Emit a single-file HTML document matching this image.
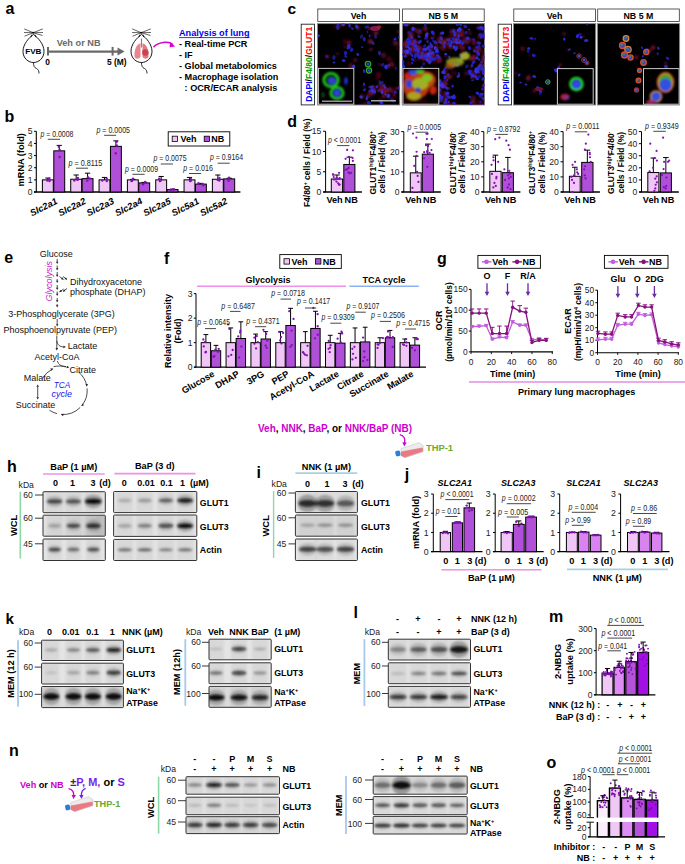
<!DOCTYPE html><html><head><meta charset="utf-8"><style>html,body{margin:0;padding:0;background:#fff;}body{width:685px;height:864px;overflow:hidden;font-family:"Liberation Sans", sans-serif;}svg{display:block;} svg text{font-family:"Liberation Sans", sans-serif;}</style></head><body><svg width="685" height="864" viewBox="0 0 685 864" style='font-family:"Liberation Sans", sans-serif'><defs><filter id="blur05" x="-20%" y="-20%" width="140%" height="140%"><feGaussianBlur stdDeviation="0.5"/></filter><filter id="blur08" x="-20%" y="-20%" width="140%" height="140%"><feGaussianBlur stdDeviation="0.8"/></filter><filter id="blur12" x="-10%" y="-10%" width="120%" height="120%"><feGaussianBlur stdDeviation="1.2"/></filter><filter id="blurband" x="-30%" y="-150%" width="160%" height="400%"><feGaussianBlur stdDeviation="1.3 1.0"/></filter><clipPath id="clip1"><rect x="317.5" y="23.6" width="82.2" height="81.4"/></clipPath><clipPath id="clip2"><rect x="402.3" y="23.6" width="82.2" height="81.4"/></clipPath><clipPath id="clip3"><rect x="513.5" y="23.6" width="82.2" height="81.4"/></clipPath><clipPath id="clip4"><rect x="597.4" y="23.6" width="82.2" height="81.4"/></clipPath><clipPath id="cbl1"><rect x="43" y="491.7" width="62.3" height="21" rx="0.8"/></clipPath><linearGradient id="gbl2" x1="0" x2="1" y1="0" y2="0"><stop offset="0" stop-color="#e3e3e3"/><stop offset="0.6" stop-color="#d9d9d9"/><stop offset="1" stop-color="#bdbdbd"/></linearGradient><clipPath id="cbl2"><rect x="43" y="515.2" width="62.3" height="21" rx="0.8"/></clipPath><clipPath id="cbl3"><rect x="43" y="539.0" width="62.3" height="21.5" rx="0.8"/></clipPath><clipPath id="cbl4"><rect x="113.6" y="491.5" width="83.2" height="21.1" rx="0.8"/></clipPath><clipPath id="cbl5"><rect x="113.6" y="515.0" width="83.2" height="21.4" rx="0.8"/></clipPath><clipPath id="cbl6"><rect x="113.6" y="539.4" width="83.2" height="21.1" rx="0.8"/></clipPath><clipPath id="cbl7"><rect x="295.4" y="491.5" width="62" height="21.1" rx="0.8"/></clipPath><clipPath id="cbl8"><rect x="295.4" y="515.0" width="62" height="21.2" rx="0.8"/></clipPath><clipPath id="cbl9"><rect x="295.4" y="539.0" width="62" height="21.5" rx="0.8"/></clipPath><clipPath id="cbl10"><rect x="41.6" y="640.2" width="81.8" height="20.3" rx="0.8"/></clipPath><clipPath id="cbl11"><rect x="41.6" y="663.2" width="81.8" height="20.8" rx="0.8"/></clipPath><clipPath id="cbl12"><rect x="41.6" y="686.5" width="81.8" height="21.1" rx="0.8"/></clipPath><clipPath id="cbl13"><rect x="209.0" y="639.2" width="62.2" height="20.6" rx="0.8"/></clipPath><clipPath id="cbl14"><rect x="209.0" y="662.8" width="62.2" height="20.9" rx="0.8"/></clipPath><clipPath id="cbl15"><rect x="209.0" y="686.4" width="62.2" height="20.9" rx="0.8"/></clipPath><clipPath id="cbl16"><rect x="388.3" y="639.2" width="82.2" height="20.8" rx="0.8"/></clipPath><clipPath id="cbl17"><rect x="388.3" y="662.8" width="82.2" height="20.9" rx="0.8"/></clipPath><clipPath id="cbl18"><rect x="388.3" y="686.4" width="82.2" height="20.9" rx="0.8"/></clipPath><clipPath id="cbl19"><rect x="186.0" y="776.7" width="93.5" height="17.5" rx="0.8"/></clipPath><clipPath id="cbl20"><rect x="186.0" y="797.2" width="93.5" height="17.5" rx="0.8"/></clipPath><clipPath id="cbl21"><rect x="186.0" y="816.7" width="93.5" height="16.9" rx="0.8"/></clipPath><clipPath id="cbl22"><rect x="373.2" y="776.1" width="94.0" height="18.1" rx="0.8"/></clipPath><clipPath id="cbl23"><rect x="373.2" y="796.6" width="94.0" height="18.1" rx="0.8"/></clipPath><clipPath id="cbl24"><rect x="373.2" y="816.4" width="94.0" height="17.6" rx="0.8"/></clipPath></defs><text x="5.40" y="13.60" font-size="16" font-weight="bold">a</text>
<path d="M33.5 34.5 C29.0 37.5 23.0 44.3 23.0 51.3 C23.0 58.5 28.5 62.5 33.5 62.5 C38.5 62.5 44.0 58.5 44.0 51.3 C44.0 44.3 38.0 37.5 33.5 34.5 Z" fill="#fff" stroke="#000" stroke-width="0.9"/>
<line x1="33.20" y1="32.70" x2="24.20" y2="28.90" stroke="#111" stroke-width="0.65"/>
<line x1="33.20" y1="32.70" x2="24.00" y2="32.50" stroke="#111" stroke-width="0.65"/>
<line x1="33.20" y1="32.70" x2="24.50" y2="36.20" stroke="#111" stroke-width="0.65"/>
<line x1="33.20" y1="32.70" x2="42.80" y2="28.90" stroke="#111" stroke-width="0.65"/>
<line x1="33.20" y1="32.70" x2="43.00" y2="32.50" stroke="#111" stroke-width="0.65"/>
<line x1="33.20" y1="32.70" x2="42.50" y2="35.50" stroke="#111" stroke-width="0.65"/>
<circle cx="33.20" cy="32.70" r="0.90" fill="#000"/>
<path d="M31.7 34.7 l-0.5 2.4 M35.1 34.7 l0.5 2.4" fill="none" stroke="#000" stroke-width="0.8"/>
<path d="M33.5 62.5 C33.5 65.5 34.0 67.5 36.5 68.5 C38.5 69.5 39.0 71.5 39.0 73.5" fill="none" stroke="#000" stroke-width="0.8"/>
<text x="33.30" y="54.20" font-size="8.1" font-weight="bold" text-anchor="middle">FVB</text>
<line x1="47.50" y1="51.60" x2="119.00" y2="51.60" stroke="#6a6a6a" stroke-width="2.2"/>
<line x1="48.00" y1="46.90" x2="48.00" y2="55.60" stroke="#6a6a6a" stroke-width="2.0"/>
<line x1="112.60" y1="46.90" x2="112.60" y2="55.60" stroke="#6a6a6a" stroke-width="2.0"/>
<path d="M117.5 47.6 L124.6 51.6 L117.5 55.6 Z" fill="#6a6a6a"/>
<text x="78.60" y="46.20" font-size="9.2" font-weight="bold" text-anchor="middle" fill="#6a6a6a">Veh or NB</text>
<text x="47.70" y="65.30" font-size="8.4" font-weight="bold" text-anchor="middle">0</text>
<text x="116.80" y="65.30" font-size="8.4" font-weight="bold" text-anchor="middle">5 (M)</text>
<path d="M141.5 34.5 C137.0 37.5 131.0 44.3 131.0 51.3 C131.0 58.5 136.5 62.5 141.5 62.5 C146.5 62.5 152.0 58.5 152.0 51.3 C152.0 44.3 146.0 37.5 141.5 34.5 Z" fill="#fff" stroke="#000" stroke-width="0.9"/>
<line x1="141.20" y1="32.70" x2="132.20" y2="28.90" stroke="#111" stroke-width="0.65"/>
<line x1="141.20" y1="32.70" x2="132.00" y2="32.50" stroke="#111" stroke-width="0.65"/>
<line x1="141.20" y1="32.70" x2="132.50" y2="36.20" stroke="#111" stroke-width="0.65"/>
<line x1="141.20" y1="32.70" x2="150.80" y2="28.90" stroke="#111" stroke-width="0.65"/>
<line x1="141.20" y1="32.70" x2="151.00" y2="32.50" stroke="#111" stroke-width="0.65"/>
<line x1="141.20" y1="32.70" x2="150.50" y2="35.50" stroke="#111" stroke-width="0.65"/>
<circle cx="141.20" cy="32.70" r="0.90" fill="#000"/>
<path d="M139.7 34.7 l-0.5 2.4 M143.1 34.7 l0.5 2.4" fill="none" stroke="#000" stroke-width="0.8"/>
<path d="M141.5 62.5 C141.5 65.5 142.0 67.5 144.5 68.5 C146.5 69.5 147.0 71.5 147.0 73.5" fill="none" stroke="#000" stroke-width="0.8"/>
<path d="M140.5 43.5 C136.5 43.5 134.0 50.5 134.5 56.5 C135.0 59.5 139.5 59.5 140.5 56.5 Z" fill="#e7868f"/>
<path d="M142.5 43.5 C146.5 43.5 149.0 50.5 148.5 56.5 C148.0 59.5 143.5 59.5 142.5 56.5 Z" fill="#e07b84"/>
<circle cx="145.30" cy="52.50" r="3.20" fill="#c9444f"/>
<line x1="141.50" y1="38.50" x2="141.50" y2="47.50" stroke="#b07070" stroke-width="1.2"/>
<path d="M153.5 47.2 C158 42.5 168 40.5 173 44.6" fill="none" stroke="#d400d4" stroke-width="1.5"/>
<path d="M170.2 42.4 L175.3 46.6 L169.5 47.3 Z" fill="#d400d4"/>
<text x="179.00" y="36.10" font-size="9.15" font-weight="bold" fill="#0000ee">Analysis of lung</text>
<line x1="179.00" y1="37.60" x2="249.60" y2="37.60" stroke="#0000ee" stroke-width="0.8"/>
<text x="179.00" y="47.30" font-size="9.15" font-weight="bold">- Real-time PCR</text>
<text x="179.00" y="58.00" font-size="9.15" font-weight="bold">- IF</text>
<text x="179.00" y="69.10" font-size="9.15" font-weight="bold">- Global metabolomics</text>
<text x="179.00" y="80.30" font-size="9.15" font-weight="bold">- Macrophage isolation</text>
<text x="184.60" y="91.40" font-size="9.15" font-weight="bold">: OCR/ECAR analysis</text>
<text x="287.40" y="13.90" font-size="15.5" font-weight="bold">c</text>
<rect x="301.20" y="24.20" width="13.30" height="80.70" fill="#fff" stroke="#222" stroke-width="0.9"/>
<text x="312.40" y="101.80" font-size="9.8" font-weight="bold" textLength="75.00" lengthAdjust="spacingAndGlyphs" transform="rotate(-90 312.40 101.80)"><tspan fill="#0000ff">DAPI</tspan><tspan fill="#000">/</tspan><tspan fill="#00a000">F4/80</tspan><tspan fill="#000">/</tspan><tspan fill="#ff0000">GLUT1</tspan></text>
<rect x="498.20" y="24.20" width="13.30" height="80.70" fill="#fff" stroke="#222" stroke-width="0.9"/>
<text x="509.40" y="101.80" font-size="9.8" font-weight="bold" textLength="75.00" lengthAdjust="spacingAndGlyphs" transform="rotate(-90 509.40 101.80)"><tspan fill="#0000ff">DAPI</tspan><tspan fill="#000">/</tspan><tspan fill="#00a000">F4/80</tspan><tspan fill="#000">/</tspan><tspan fill="#ff0000">GLUT3</tspan></text>
<rect x="317.80" y="9.00" width="81.60" height="12.40" fill="#fff" stroke="#333" stroke-width="0.8"/>
<text x="358.50" y="18.60" font-size="8.8" font-weight="bold" text-anchor="middle">Veh</text>
<rect x="317.50" y="23.60" width="82.20" height="81.40" fill="#000" stroke="#8a8a8a" stroke-width="0.9"/>
<g clip-path="url(#clip1)" filter="url(#blur08)"><circle cx="355.3" cy="60.2" r="2.1" fill="#7a1030" opacity="0.60"/><circle cx="362.0" cy="96.5" r="2.6" fill="#7a1030" opacity="0.59"/><circle cx="360.8" cy="105.8" r="2.1" fill="#902050" opacity="0.48"/><circle cx="396.9" cy="88.3" r="1.8" fill="#a01040" opacity="0.70"/><circle cx="349.0" cy="42.9" r="2.7" fill="#a01040" opacity="0.54"/><circle cx="344.9" cy="46.7" r="1.3" fill="#a01040" opacity="0.57"/><circle cx="344.6" cy="41.4" r="2.3" fill="#8a0c2c" opacity="0.38"/><circle cx="327.4" cy="56.6" r="2.0" fill="#a01040" opacity="0.58"/><circle cx="337.5" cy="53.9" r="1.8" fill="#902050" opacity="0.37"/><circle cx="390.0" cy="89.8" r="2.8" fill="#a01040" opacity="0.61"/><circle cx="383.5" cy="86.0" r="2.4" fill="#8a0c2c" opacity="0.67"/><circle cx="379.7" cy="84.9" r="2.0" fill="#701848" opacity="0.63"/><circle cx="378.6" cy="75.0" r="2.9" fill="#8a0c2c" opacity="0.53"/><circle cx="337.0" cy="93.2" r="2.6" fill="#902050" opacity="0.60"/><circle cx="343.4" cy="23.9" r="2.3" fill="#a01040" opacity="0.68"/><circle cx="350.1" cy="25.9" r="1.2" fill="#8a0c2c" opacity="0.37"/><circle cx="374.0" cy="86.2" r="1.5" fill="#902050" opacity="0.37"/><circle cx="374.9" cy="90.1" r="1.7" fill="#701848" opacity="0.51"/><circle cx="381.7" cy="90.3" r="1.8" fill="#902050" opacity="0.51"/><circle cx="383.3" cy="96.3" r="2.0" fill="#a01040" opacity="0.48"/><circle cx="380.8" cy="90.3" r="2.1" fill="#902050" opacity="0.69"/><circle cx="373.4" cy="89.6" r="3.0" fill="#7a1030" opacity="0.63"/><circle cx="373.4" cy="86.2" r="1.3" fill="#7a1030" opacity="0.37"/><circle cx="370.4" cy="91.7" r="1.7" fill="#7a1030" opacity="0.44"/><circle cx="363.9" cy="86.0" r="1.2" fill="#902050" opacity="0.58"/><circle cx="388.1" cy="66.9" r="2.2" fill="#8a0c2c" opacity="0.60"/><circle cx="389.4" cy="64.9" r="1.8" fill="#902050" opacity="0.31"/><circle cx="379.8" cy="64.5" r="1.8" fill="#a01040" opacity="0.43"/><circle cx="389.0" cy="58.9" r="2.7" fill="#8a0c2c" opacity="0.50"/><circle cx="391.9" cy="63.9" r="2.4" fill="#a01040" opacity="0.52"/><circle cx="393.0" cy="65.7" r="1.5" fill="#7a1030" opacity="0.60"/><circle cx="383.3" cy="55.3" r="2.7" fill="#701848" opacity="0.62"/><circle cx="398.6" cy="31.7" r="1.6" fill="#902050" opacity="0.56"/><circle cx="341.0" cy="103.0" r="1.5" fill="#8a0c2c" opacity="0.37"/><circle cx="335.7" cy="107.9" r="1.9" fill="#7a1030" opacity="0.62"/><circle cx="372.5" cy="92.3" r="3.0" fill="#902050" opacity="0.66"/><circle cx="368.8" cy="95.2" r="2.7" fill="#a01040" opacity="0.41"/><circle cx="365.3" cy="104.6" r="2.1" fill="#902050" opacity="0.53"/><circle cx="350.5" cy="66.1" r="2.2" fill="#7a1030" opacity="0.65"/><circle cx="351.3" cy="63.4" r="1.4" fill="#7a1030" opacity="0.47"/><circle cx="370.4" cy="41.5" r="2.6" fill="#902050" opacity="0.68"/><circle cx="370.9" cy="49.3" r="1.9" fill="#701848" opacity="0.69"/><circle cx="368.9" cy="28.3" r="1.8" fill="#a01040" opacity="0.60"/><circle cx="357.7" cy="28.0" r="2.3" fill="#701848" opacity="0.58"/><circle cx="394.9" cy="90.1" r="1.3" fill="#8a0c2c" opacity="0.37"/><circle cx="394.6" cy="96.0" r="1.2" fill="#8a0c2c" opacity="0.62"/><circle cx="389.3" cy="106.0" r="1.3" fill="#701848" opacity="0.40"/><circle cx="386.0" cy="90.1" r="2.9" fill="#a01040" opacity="0.53"/><circle cx="386.6" cy="90.2" r="2.8" fill="#701848" opacity="0.46"/><circle cx="393.2" cy="92.1" r="1.6" fill="#902050" opacity="0.52"/><circle cx="394.2" cy="95.1" r="1.5" fill="#a01040" opacity="0.68"/><circle cx="376.0" cy="33.2" r="2.2" fill="#902050" opacity="0.69"/><circle cx="370.9" cy="34.8" r="1.6" fill="#8a0c2c" opacity="0.36"/><circle cx="391.2" cy="98.9" r="2.0" fill="#701848" opacity="0.61"/><circle cx="380.3" cy="100.8" r="2.0" fill="#701848" opacity="0.59"/><circle cx="339.9" cy="103.3" r="1.4" fill="#7a1030" opacity="0.69"/><circle cx="341.7" cy="103.1" r="2.2" fill="#8a0c2c" opacity="0.53"/><circle cx="339.0" cy="27.9" r="1.7" fill="#701848" opacity="0.34"/><circle cx="335.0" cy="26.8" r="1.5" fill="#8a0c2c" opacity="0.49"/><circle cx="339.0" cy="25.0" r="2.7" fill="#701848" opacity="0.49"/><circle cx="381.2" cy="89.2" r="2.6" fill="#a01040" opacity="0.43"/><circle cx="385.3" cy="92.0" r="2.8" fill="#8a0c2c" opacity="0.51"/><circle cx="384.1" cy="95.9" r="2.3" fill="#7a1030" opacity="0.48"/><circle cx="317.5" cy="39.3" r="1.5" fill="#701848" opacity="0.38"/><circle cx="377.3" cy="79.1" r="1.4" fill="#8a0c2c" opacity="0.59"/><circle cx="393.3" cy="39.7" r="1.3" fill="#a01040" opacity="0.34"/><circle cx="395.6" cy="43.1" r="1.3" fill="#701848" opacity="0.34"/><circle cx="395.7" cy="43.1" r="2.7" fill="#902050" opacity="0.50"/><circle cx="398.9" cy="48.1" r="2.7" fill="#8a0c2c" opacity="0.35"/></g>
<g clip-path="url(#clip1)" filter="url(#blur05)"><ellipse cx="357.7" cy="54.5" rx="1.6" ry="1.2" transform="rotate(51 357.7 54.5)" fill="#3838f0" opacity="0.82"/><ellipse cx="345.6" cy="53.0" rx="2.3" ry="1.7" transform="rotate(97 345.6 53.0)" fill="#2020c8" opacity="0.86"/><ellipse cx="345.7" cy="56.4" rx="1.6" ry="1.2" transform="rotate(28 345.7 56.4)" fill="#3030dc" opacity="0.64"/><ellipse cx="350.9" cy="23.0" rx="1.9" ry="1.4" transform="rotate(164 350.9 23.0)" fill="#2020c8" opacity="0.61"/><ellipse cx="349.9" cy="20.8" rx="1.6" ry="1.2" transform="rotate(80 349.9 20.8)" fill="#3838f0" opacity="0.82"/><ellipse cx="361.1" cy="97.0" rx="1.8" ry="1.3" transform="rotate(28 361.1 97.0)" fill="#3030dc" opacity="0.92"/><ellipse cx="363.3" cy="106.5" rx="1.9" ry="1.3" transform="rotate(126 363.3 106.5)" fill="#3838f0" opacity="0.77"/><ellipse cx="399.3" cy="88.2" rx="1.8" ry="1.3" transform="rotate(62 399.3 88.2)" fill="#3838f0" opacity="0.65"/><ellipse cx="348.7" cy="47.7" rx="2.3" ry="1.6" transform="rotate(149 348.7 47.7)" fill="#3030dc" opacity="0.74"/><ellipse cx="351.7" cy="49.8" rx="2.2" ry="1.6" transform="rotate(108 351.7 49.8)" fill="#2626e6" opacity="0.77"/><ellipse cx="348.6" cy="45.8" rx="2.1" ry="1.5" transform="rotate(130 348.6 45.8)" fill="#3030dc" opacity="0.73"/><ellipse cx="326.5" cy="56.5" rx="1.7" ry="1.3" transform="rotate(63 326.5 56.5)" fill="#2020c8" opacity="0.66"/><ellipse cx="334.0" cy="62.6" rx="1.4" ry="1.0" transform="rotate(179 334.0 62.6)" fill="#3030dc" opacity="0.84"/><ellipse cx="333.9" cy="57.4" rx="2.3" ry="1.7" transform="rotate(103 333.9 57.4)" fill="#2e2ed0" opacity="0.58"/><ellipse cx="387.7" cy="88.8" rx="1.4" ry="1.0" transform="rotate(180 387.7 88.8)" fill="#2020c8" opacity="0.56"/><ellipse cx="383.7" cy="85.3" rx="1.6" ry="1.2" transform="rotate(166 383.7 85.3)" fill="#2e2ed0" opacity="0.73"/><ellipse cx="382.4" cy="82.3" rx="1.5" ry="1.1" transform="rotate(115 382.4 82.3)" fill="#3838f0" opacity="0.57"/><ellipse cx="380.2" cy="82.5" rx="2.3" ry="1.6" transform="rotate(68 380.2 82.5)" fill="#3030dc" opacity="0.57"/><ellipse cx="341.3" cy="96.5" rx="1.4" ry="1.0" transform="rotate(105 341.3 96.5)" fill="#2e2ed0" opacity="0.72"/><ellipse cx="333.5" cy="98.1" rx="1.4" ry="1.0" transform="rotate(76 333.5 98.1)" fill="#2626e6" opacity="0.81"/><ellipse cx="330.2" cy="94.9" rx="1.6" ry="1.1" transform="rotate(173 330.2 94.9)" fill="#2e2ed0" opacity="0.70"/><ellipse cx="343.1" cy="24.2" rx="2.0" ry="1.4" transform="rotate(61 343.1 24.2)" fill="#3838f0" opacity="0.92"/><ellipse cx="349.6" cy="25.7" rx="1.9" ry="1.3" transform="rotate(75 349.6 25.7)" fill="#3030dc" opacity="0.77"/><ellipse cx="373.2" cy="89.6" rx="2.1" ry="1.5" transform="rotate(25 373.2 89.6)" fill="#2626e6" opacity="0.65"/><ellipse cx="377.0" cy="87.0" rx="1.3" ry="0.9" transform="rotate(114 377.0 87.0)" fill="#2020c8" opacity="0.85"/><ellipse cx="382.1" cy="92.1" rx="2.1" ry="1.5" transform="rotate(68 382.1 92.1)" fill="#3030dc" opacity="0.91"/><ellipse cx="377.0" cy="86.6" rx="1.6" ry="1.2" transform="rotate(94 377.0 86.6)" fill="#3030dc" opacity="0.70"/><ellipse cx="372.1" cy="87.0" rx="1.9" ry="1.3" transform="rotate(129 372.1 87.0)" fill="#2e2ed0" opacity="0.89"/><ellipse cx="370.4" cy="87.0" rx="2.1" ry="1.5" transform="rotate(178 370.4 87.0)" fill="#2e2ed0" opacity="0.76"/><ellipse cx="378.4" cy="90.6" rx="1.3" ry="0.9" transform="rotate(120 378.4 90.6)" fill="#2e2ed0" opacity="0.70"/><ellipse cx="374.1" cy="91.8" rx="2.1" ry="1.5" transform="rotate(9 374.1 91.8)" fill="#3030dc" opacity="0.84"/><ellipse cx="372.1" cy="90.5" rx="1.4" ry="1.0" transform="rotate(29 372.1 90.5)" fill="#3838f0" opacity="0.87"/><ellipse cx="364.5" cy="89.8" rx="1.7" ry="1.2" transform="rotate(136 364.5 89.8)" fill="#2626e6" opacity="0.89"/><ellipse cx="364.0" cy="84.1" rx="1.5" ry="1.1" transform="rotate(103 364.0 84.1)" fill="#3838f0" opacity="0.71"/><ellipse cx="395.7" cy="68.3" rx="1.5" ry="1.0" transform="rotate(67 395.7 68.3)" fill="#2e2ed0" opacity="0.61"/><ellipse cx="389.1" cy="65.2" rx="1.6" ry="1.2" transform="rotate(44 389.1 65.2)" fill="#3030dc" opacity="0.56"/><ellipse cx="386.0" cy="67.2" rx="2.3" ry="1.6" transform="rotate(93 386.0 67.2)" fill="#2626e6" opacity="0.94"/><ellipse cx="386.0" cy="66.3" rx="2.0" ry="1.5" transform="rotate(148 386.0 66.3)" fill="#3030dc" opacity="0.72"/><ellipse cx="382.7" cy="64.8" rx="2.1" ry="1.5" transform="rotate(137 382.7 64.8)" fill="#2626e6" opacity="0.62"/><ellipse cx="379.4" cy="54.1" rx="1.4" ry="1.0" transform="rotate(93 379.4 54.1)" fill="#3030dc" opacity="0.59"/><ellipse cx="379.4" cy="52.7" rx="2.1" ry="1.5" transform="rotate(66 379.4 52.7)" fill="#3030dc" opacity="0.60"/><ellipse cx="399.2" cy="37.2" rx="1.3" ry="0.9" transform="rotate(161 399.2 37.2)" fill="#3030dc" opacity="0.81"/><ellipse cx="347.1" cy="95.4" rx="1.5" ry="1.1" transform="rotate(117 347.1 95.4)" fill="#2020c8" opacity="0.83"/><ellipse cx="345.3" cy="104.5" rx="1.7" ry="1.2" transform="rotate(29 345.3 104.5)" fill="#2020c8" opacity="0.91"/><ellipse cx="342.7" cy="102.2" rx="1.9" ry="1.3" transform="rotate(27 342.7 102.2)" fill="#3030dc" opacity="0.78"/><ellipse cx="369.6" cy="91.1" rx="1.6" ry="1.2" transform="rotate(125 369.6 91.1)" fill="#3030dc" opacity="0.70"/><ellipse cx="366.8" cy="98.9" rx="1.7" ry="1.3" transform="rotate(98 366.8 98.9)" fill="#2e2ed0" opacity="0.86"/><ellipse cx="367.2" cy="97.1" rx="1.9" ry="1.4" transform="rotate(130 367.2 97.1)" fill="#3030dc" opacity="0.60"/><ellipse cx="368.9" cy="102.7" rx="2.3" ry="1.6" transform="rotate(19 368.9 102.7)" fill="#3030dc" opacity="0.75"/><ellipse cx="343.7" cy="60.6" rx="1.9" ry="1.4" transform="rotate(5 343.7 60.6)" fill="#2626e6" opacity="0.92"/><ellipse cx="352.8" cy="67.8" rx="2.0" ry="1.4" transform="rotate(111 352.8 67.8)" fill="#2e2ed0" opacity="0.78"/><ellipse cx="353.9" cy="66.3" rx="1.9" ry="1.4" transform="rotate(69 353.9 66.3)" fill="#3838f0" opacity="0.88"/><ellipse cx="362.1" cy="47.1" rx="1.3" ry="0.9" transform="rotate(14 362.1 47.1)" fill="#2626e6" opacity="0.76"/><ellipse cx="373.1" cy="43.2" rx="1.9" ry="1.3" transform="rotate(41 373.1 43.2)" fill="#3838f0" opacity="0.58"/><ellipse cx="366.8" cy="27.0" rx="2.3" ry="1.6" transform="rotate(174 366.8 27.0)" fill="#2626e6" opacity="0.66"/><ellipse cx="367.4" cy="32.0" rx="1.3" ry="0.9" transform="rotate(64 367.4 32.0)" fill="#2e2ed0" opacity="0.56"/><ellipse cx="356.8" cy="26.7" rx="2.2" ry="1.6" transform="rotate(53 356.8 26.7)" fill="#2e2ed0" opacity="0.93"/><ellipse cx="352.4" cy="28.6" rx="1.6" ry="1.2" transform="rotate(45 352.4 28.6)" fill="#2020c8" opacity="0.82"/><ellipse cx="395.0" cy="92.1" rx="1.5" ry="1.1" transform="rotate(101 395.0 92.1)" fill="#2626e6" opacity="0.72"/><ellipse cx="385.0" cy="87.3" rx="1.3" ry="0.9" transform="rotate(97 385.0 87.3)" fill="#3838f0" opacity="0.88"/><ellipse cx="385.4" cy="94.3" rx="1.3" ry="0.9" transform="rotate(72 385.4 94.3)" fill="#3838f0" opacity="0.75"/><ellipse cx="396.0" cy="92.5" rx="1.9" ry="1.4" transform="rotate(118 396.0 92.5)" fill="#2020c8" opacity="0.57"/><ellipse cx="375.6" cy="36.9" rx="1.8" ry="1.3" transform="rotate(81 375.6 36.9)" fill="#2626e6" opacity="0.65"/><ellipse cx="369.7" cy="36.0" rx="1.4" ry="1.0" transform="rotate(93 369.7 36.0)" fill="#2626e6" opacity="0.74"/><ellipse cx="361.5" cy="36.5" rx="2.0" ry="1.4" transform="rotate(110 361.5 36.5)" fill="#2e2ed0" opacity="0.58"/><ellipse cx="364.2" cy="39.3" rx="2.2" ry="1.6" transform="rotate(86 364.2 39.3)" fill="#2626e6" opacity="0.73"/><ellipse cx="392.9" cy="100.5" rx="2.3" ry="1.6" transform="rotate(30 392.9 100.5)" fill="#2020c8" opacity="0.66"/><ellipse cx="387.9" cy="96.1" rx="2.3" ry="1.7" transform="rotate(74 387.9 96.1)" fill="#3838f0" opacity="0.72"/><ellipse cx="388.9" cy="95.3" rx="2.0" ry="1.4" transform="rotate(43 388.9 95.3)" fill="#2e2ed0" opacity="0.90"/><ellipse cx="381.2" cy="102.6" rx="1.6" ry="1.1" transform="rotate(153 381.2 102.6)" fill="#2e2ed0" opacity="0.65"/><ellipse cx="340.1" cy="104.4" rx="2.0" ry="1.5" transform="rotate(124 340.1 104.4)" fill="#3838f0" opacity="0.59"/><ellipse cx="341.4" cy="105.4" rx="2.1" ry="1.5" transform="rotate(60 341.4 105.4)" fill="#2020c8" opacity="0.75"/><ellipse cx="337.6" cy="27.7" rx="2.3" ry="1.6" transform="rotate(78 337.6 27.7)" fill="#3030dc" opacity="0.60"/><ellipse cx="337.9" cy="24.9" rx="1.4" ry="1.0" transform="rotate(174 337.9 24.9)" fill="#2020c8" opacity="0.86"/><ellipse cx="381.7" cy="103.3" rx="2.3" ry="1.7" transform="rotate(65 381.7 103.3)" fill="#3030dc" opacity="0.73"/><ellipse cx="379.2" cy="107.6" rx="2.4" ry="1.7" transform="rotate(176 379.2 107.6)" fill="#2e2ed0" opacity="0.86"/><ellipse cx="318.4" cy="35.7" rx="1.6" ry="1.1" transform="rotate(5 318.4 35.7)" fill="#3838f0" opacity="0.94"/><ellipse cx="364.1" cy="71.1" rx="1.8" ry="1.3" transform="rotate(81 364.1 71.1)" fill="#3838f0" opacity="0.70"/><ellipse cx="395.1" cy="39.0" rx="1.7" ry="1.2" transform="rotate(132 395.1 39.0)" fill="#2626e6" opacity="0.95"/><ellipse cx="400.8" cy="46.8" rx="1.9" ry="1.3" transform="rotate(114 400.8 46.8)" fill="#3030dc" opacity="0.64"/></g>
<rect x="402.60" y="9.00" width="81.60" height="12.40" fill="#fff" stroke="#333" stroke-width="0.8"/>
<text x="443.30" y="18.60" font-size="8.8" font-weight="bold" text-anchor="middle">NB 5 M</text>
<rect x="402.30" y="23.60" width="82.20" height="81.40" fill="#000" stroke="#8a8a8a" stroke-width="0.9"/>
<g clip-path="url(#clip2)" filter="url(#blur08)"><circle cx="445.3" cy="84.4" r="2.5" fill="#7a1030" opacity="0.45"/><circle cx="450.3" cy="88.3" r="1.6" fill="#701848" opacity="0.38"/><circle cx="428.5" cy="56.9" r="2.6" fill="#7a1030" opacity="0.49"/><circle cx="431.0" cy="53.8" r="2.5" fill="#701848" opacity="0.70"/><circle cx="480.3" cy="28.7" r="1.9" fill="#8a0c2c" opacity="0.69"/><circle cx="482.2" cy="22.5" r="2.2" fill="#701848" opacity="0.48"/><circle cx="486.1" cy="20.3" r="2.8" fill="#7a1030" opacity="0.69"/><circle cx="445.5" cy="71.8" r="2.6" fill="#902050" opacity="0.35"/><circle cx="446.9" cy="69.1" r="1.7" fill="#701848" opacity="0.35"/><circle cx="445.5" cy="81.7" r="2.9" fill="#701848" opacity="0.46"/><circle cx="446.1" cy="83.8" r="1.4" fill="#a01040" opacity="0.48"/><circle cx="438.3" cy="83.7" r="1.5" fill="#7a1030" opacity="0.66"/><circle cx="434.3" cy="85.9" r="2.3" fill="#a01040" opacity="0.39"/><circle cx="433.2" cy="83.8" r="1.2" fill="#8a0c2c" opacity="0.33"/><circle cx="438.0" cy="82.1" r="3.0" fill="#7a1030" opacity="0.65"/><circle cx="439.9" cy="86.2" r="2.8" fill="#701848" opacity="0.50"/><circle cx="444.2" cy="85.7" r="2.8" fill="#a01040" opacity="0.45"/><circle cx="457.2" cy="35.5" r="1.9" fill="#902050" opacity="0.62"/><circle cx="461.5" cy="31.7" r="2.9" fill="#a01040" opacity="0.35"/><circle cx="464.7" cy="36.3" r="1.8" fill="#902050" opacity="0.31"/><circle cx="469.5" cy="39.6" r="1.9" fill="#902050" opacity="0.70"/><circle cx="474.1" cy="42.4" r="2.9" fill="#8a0c2c" opacity="0.57"/><circle cx="462.0" cy="35.3" r="2.3" fill="#701848" opacity="0.30"/><circle cx="467.9" cy="42.9" r="2.0" fill="#701848" opacity="0.54"/><circle cx="464.9" cy="41.1" r="2.8" fill="#902050" opacity="0.61"/><circle cx="462.8" cy="48.0" r="2.6" fill="#a01040" opacity="0.56"/><circle cx="455.6" cy="45.0" r="2.0" fill="#8a0c2c" opacity="0.30"/><circle cx="458.7" cy="48.3" r="1.2" fill="#701848" opacity="0.54"/><circle cx="419.1" cy="48.1" r="2.8" fill="#902050" opacity="0.67"/><circle cx="415.7" cy="48.8" r="2.9" fill="#902050" opacity="0.68"/><circle cx="413.9" cy="51.6" r="2.1" fill="#701848" opacity="0.50"/><circle cx="413.0" cy="55.1" r="1.5" fill="#7a1030" opacity="0.37"/><circle cx="414.8" cy="60.6" r="2.1" fill="#902050" opacity="0.32"/><circle cx="482.4" cy="47.3" r="1.5" fill="#701848" opacity="0.42"/><circle cx="479.8" cy="42.1" r="1.7" fill="#8a0c2c" opacity="0.50"/><circle cx="485.4" cy="34.4" r="2.1" fill="#8a0c2c" opacity="0.41"/><circle cx="419.6" cy="58.4" r="1.9" fill="#7a1030" opacity="0.32"/><circle cx="424.7" cy="56.4" r="1.2" fill="#8a0c2c" opacity="0.46"/><circle cx="420.8" cy="54.4" r="2.9" fill="#8a0c2c" opacity="0.62"/><circle cx="424.5" cy="49.2" r="2.3" fill="#8a0c2c" opacity="0.67"/><circle cx="429.4" cy="46.6" r="2.2" fill="#701848" opacity="0.53"/><circle cx="475.5" cy="105.5" r="1.4" fill="#7a1030" opacity="0.30"/><circle cx="473.2" cy="102.5" r="2.8" fill="#701848" opacity="0.60"/><circle cx="473.2" cy="97.9" r="2.9" fill="#7a1030" opacity="0.49"/><circle cx="472.3" cy="101.3" r="1.7" fill="#902050" opacity="0.37"/><circle cx="431.5" cy="53.5" r="1.7" fill="#701848" opacity="0.43"/><circle cx="427.5" cy="57.2" r="2.9" fill="#8a0c2c" opacity="0.36"/><circle cx="426.0" cy="49.9" r="1.3" fill="#7a1030" opacity="0.36"/><circle cx="427.0" cy="53.5" r="2.5" fill="#701848" opacity="0.44"/><circle cx="424.0" cy="53.2" r="2.4" fill="#8a0c2c" opacity="0.43"/><circle cx="421.1" cy="52.6" r="1.2" fill="#8a0c2c" opacity="0.53"/><circle cx="416.7" cy="92.5" r="1.3" fill="#7a1030" opacity="0.38"/><circle cx="415.4" cy="88.6" r="2.0" fill="#902050" opacity="0.61"/><circle cx="414.2" cy="82.0" r="2.1" fill="#902050" opacity="0.36"/><circle cx="417.3" cy="83.2" r="1.5" fill="#a01040" opacity="0.53"/><circle cx="419.8" cy="73.1" r="1.3" fill="#701848" opacity="0.66"/><circle cx="443.5" cy="43.1" r="2.2" fill="#8a0c2c" opacity="0.47"/><circle cx="447.5" cy="40.6" r="2.8" fill="#8a0c2c" opacity="0.37"/><circle cx="444.1" cy="43.0" r="3.0" fill="#902050" opacity="0.66"/><circle cx="455.7" cy="40.9" r="2.2" fill="#a01040" opacity="0.39"/><circle cx="456.2" cy="38.6" r="2.8" fill="#8a0c2c" opacity="0.37"/><circle cx="435.8" cy="79.6" r="1.6" fill="#7a1030" opacity="0.62"/><circle cx="432.4" cy="76.4" r="1.8" fill="#8a0c2c" opacity="0.33"/><circle cx="426.1" cy="80.7" r="1.9" fill="#902050" opacity="0.41"/><circle cx="422.9" cy="70.8" r="2.0" fill="#8a0c2c" opacity="0.36"/><circle cx="418.2" cy="69.7" r="1.8" fill="#902050" opacity="0.58"/><circle cx="456.2" cy="97.0" r="1.3" fill="#a01040" opacity="0.38"/><circle cx="449.0" cy="96.8" r="1.2" fill="#902050" opacity="0.31"/><circle cx="443.8" cy="95.3" r="2.4" fill="#8a0c2c" opacity="0.30"/><circle cx="440.6" cy="92.7" r="2.3" fill="#8a0c2c" opacity="0.33"/><circle cx="408.6" cy="23.8" r="1.9" fill="#8a0c2c" opacity="0.67"/><circle cx="414.3" cy="21.0" r="2.5" fill="#902050" opacity="0.59"/><circle cx="450.2" cy="40.9" r="1.2" fill="#701848" opacity="0.69"/><circle cx="446.6" cy="39.2" r="1.8" fill="#a01040" opacity="0.54"/><circle cx="441.3" cy="40.6" r="2.6" fill="#701848" opacity="0.58"/><circle cx="440.4" cy="38.0" r="2.0" fill="#902050" opacity="0.61"/><circle cx="440.4" cy="34.0" r="1.5" fill="#7a1030" opacity="0.50"/><circle cx="471.1" cy="67.2" r="1.4" fill="#701848" opacity="0.58"/><circle cx="466.3" cy="73.3" r="2.3" fill="#a01040" opacity="0.41"/><circle cx="477.1" cy="70.8" r="1.3" fill="#7a1030" opacity="0.33"/><circle cx="417.2" cy="45.7" r="1.8" fill="#701848" opacity="0.55"/><circle cx="414.9" cy="42.3" r="2.6" fill="#a01040" opacity="0.60"/><circle cx="410.9" cy="43.5" r="2.0" fill="#8a0c2c" opacity="0.39"/><circle cx="413.0" cy="41.5" r="2.3" fill="#8a0c2c" opacity="0.34"/><circle cx="411.0" cy="35.1" r="2.9" fill="#701848" opacity="0.64"/><circle cx="408.8" cy="32.5" r="1.8" fill="#902050" opacity="0.53"/><circle cx="460.8" cy="34.3" r="1.4" fill="#a01040" opacity="0.53"/><circle cx="456.4" cy="32.5" r="1.6" fill="#8a0c2c" opacity="0.67"/><circle cx="461.6" cy="35.2" r="2.5" fill="#a01040" opacity="0.37"/><circle cx="462.2" cy="31.3" r="2.2" fill="#7a1030" opacity="0.40"/><circle cx="469.5" cy="32.9" r="2.6" fill="#701848" opacity="0.33"/><circle cx="436.9" cy="85.5" r="2.8" fill="#902050" opacity="0.48"/><circle cx="435.7" cy="101.2" r="1.9" fill="#902050" opacity="0.42"/><circle cx="484.5" cy="85.2" r="2.4" fill="#a01040" opacity="0.39"/><circle cx="483.1" cy="92.4" r="1.9" fill="#7a1030" opacity="0.39"/><circle cx="478.4" cy="101.5" r="2.1" fill="#a01040" opacity="0.33"/><circle cx="480.3" cy="104.4" r="2.6" fill="#a01040" opacity="0.37"/><circle cx="471.5" cy="74.4" r="1.3" fill="#8a0c2c" opacity="0.68"/><circle cx="476.7" cy="74.7" r="1.3" fill="#7a1030" opacity="0.33"/><circle cx="479.8" cy="73.4" r="1.9" fill="#8a0c2c" opacity="0.38"/><circle cx="478.6" cy="69.4" r="2.2" fill="#7a1030" opacity="0.47"/><circle cx="481.9" cy="69.1" r="2.1" fill="#701848" opacity="0.30"/><circle cx="459.6" cy="43.6" r="2.8" fill="#a01040" opacity="0.34"/><circle cx="461.2" cy="45.6" r="2.1" fill="#902050" opacity="0.41"/><circle cx="457.6" cy="40.2" r="1.7" fill="#8a0c2c" opacity="0.55"/><circle cx="460.0" cy="41.1" r="2.1" fill="#8a0c2c" opacity="0.63"/><circle cx="458.5" cy="32.6" r="1.5" fill="#701848" opacity="0.59"/><circle cx="451.8" cy="32.5" r="2.0" fill="#7a1030" opacity="0.60"/><circle cx="426.3" cy="94.4" r="2.4" fill="#902050" opacity="0.64"/><circle cx="421.9" cy="97.4" r="1.9" fill="#7a1030" opacity="0.63"/><circle cx="427.0" cy="96.7" r="2.0" fill="#7a1030" opacity="0.49"/><circle cx="422.8" cy="97.5" r="2.2" fill="#8a0c2c" opacity="0.37"/><circle cx="419.5" cy="101.6" r="2.2" fill="#7a1030" opacity="0.47"/><circle cx="418.6" cy="102.9" r="1.7" fill="#a01040" opacity="0.42"/><circle cx="426.9" cy="37.4" r="2.3" fill="#8a0c2c" opacity="0.59"/><circle cx="426.9" cy="32.6" r="1.8" fill="#8a0c2c" opacity="0.39"/><circle cx="419.1" cy="31.7" r="3.0" fill="#701848" opacity="0.69"/><circle cx="474.4" cy="58.6" r="2.0" fill="#a01040" opacity="0.70"/><circle cx="473.5" cy="56.7" r="2.0" fill="#8a0c2c" opacity="0.61"/><circle cx="474.4" cy="56.3" r="2.6" fill="#a01040" opacity="0.33"/><circle cx="477.7" cy="50.4" r="2.8" fill="#a01040" opacity="0.48"/><circle cx="410.8" cy="36.9" r="2.7" fill="#902050" opacity="0.59"/><circle cx="408.2" cy="41.6" r="2.2" fill="#8a0c2c" opacity="0.34"/><circle cx="406.6" cy="43.6" r="2.9" fill="#902050" opacity="0.54"/><circle cx="407.6" cy="51.4" r="2.6" fill="#a01040" opacity="0.42"/><circle cx="409.2" cy="53.0" r="2.9" fill="#a01040" opacity="0.46"/><circle cx="405.5" cy="55.4" r="2.3" fill="#8a0c2c" opacity="0.57"/><circle cx="454.5" cy="43.2" r="1.5" fill="#a01040" opacity="0.40"/><circle cx="449.9" cy="46.4" r="2.9" fill="#8a0c2c" opacity="0.64"/><circle cx="446.2" cy="55.7" r="1.7" fill="#701848" opacity="0.64"/><circle cx="414.6" cy="41.5" r="2.7" fill="#902050" opacity="0.59"/><circle cx="416.6" cy="41.7" r="1.2" fill="#701848" opacity="0.51"/><circle cx="412.2" cy="43.3" r="1.7" fill="#a01040" opacity="0.45"/><circle cx="403.3" cy="45.2" r="2.5" fill="#701848" opacity="0.65"/><circle cx="425.3" cy="28.5" r="2.4" fill="#902050" opacity="0.65"/><circle cx="415.9" cy="29.6" r="1.9" fill="#902050" opacity="0.30"/><circle cx="414.0" cy="29.7" r="2.2" fill="#902050" opacity="0.56"/><circle cx="407.2" cy="24.5" r="1.8" fill="#7a1030" opacity="0.34"/><circle cx="455.1" cy="73.4" r="1.9" fill="#8a0c2c" opacity="0.48"/><circle cx="452.1" cy="71.7" r="1.4" fill="#701848" opacity="0.43"/><circle cx="480.9" cy="96.5" r="1.9" fill="#701848" opacity="0.53"/><circle cx="483.2" cy="68.6" r="3.0" fill="#701848" opacity="0.45"/><circle cx="481.2" cy="67.2" r="1.5" fill="#701848" opacity="0.61"/><circle cx="483.8" cy="60.2" r="2.3" fill="#902050" opacity="0.61"/><circle cx="484.2" cy="56.2" r="2.8" fill="#a01040" opacity="0.50"/><circle cx="482.7" cy="51.5" r="1.6" fill="#7a1030" opacity="0.54"/><circle cx="480.0" cy="36.2" r="2.5" fill="#7a1030" opacity="0.66"/><circle cx="482.7" cy="36.3" r="1.9" fill="#701848" opacity="0.54"/><circle cx="417.3" cy="98.3" r="2.2" fill="#8a0c2c" opacity="0.64"/><circle cx="420.4" cy="99.9" r="1.4" fill="#701848" opacity="0.42"/><circle cx="474.1" cy="48.7" r="2.3" fill="#701848" opacity="0.32"/><circle cx="478.4" cy="48.9" r="2.6" fill="#a01040" opacity="0.52"/><circle cx="471.5" cy="58.9" r="2.4" fill="#902050" opacity="0.66"/><circle cx="419.5" cy="57.2" r="2.1" fill="#a01040" opacity="0.62"/><circle cx="422.4" cy="56.5" r="2.3" fill="#7a1030" opacity="0.41"/><circle cx="423.0" cy="58.0" r="2.1" fill="#8a0c2c" opacity="0.70"/><circle cx="429.4" cy="59.4" r="2.6" fill="#902050" opacity="0.53"/><circle cx="433.9" cy="60.7" r="2.5" fill="#8a0c2c" opacity="0.36"/><circle cx="422.8" cy="58.4" r="1.4" fill="#a01040" opacity="0.66"/><circle cx="422.9" cy="54.5" r="1.4" fill="#8a0c2c" opacity="0.47"/><circle cx="426.6" cy="56.4" r="3.0" fill="#a01040" opacity="0.35"/><circle cx="430.5" cy="51.9" r="2.5" fill="#8a0c2c" opacity="0.42"/><circle cx="431.3" cy="46.0" r="3.0" fill="#902050" opacity="0.33"/><circle cx="408.5" cy="63.4" r="2.2" fill="#8a0c2c" opacity="0.47"/><circle cx="405.6" cy="51.0" r="2.5" fill="#902050" opacity="0.65"/><circle cx="437.9" cy="41.5" r="1.5" fill="#a01040" opacity="0.45"/><circle cx="436.0" cy="46.2" r="1.5" fill="#8a0c2c" opacity="0.33"/><circle cx="443.3" cy="48.0" r="3.0" fill="#a01040" opacity="0.49"/><circle cx="444.7" cy="82.5" r="2.5" fill="#8a0c2c" opacity="0.36"/><circle cx="443.1" cy="86.6" r="1.5" fill="#701848" opacity="0.66"/><circle cx="439.7" cy="90.6" r="2.7" fill="#701848" opacity="0.48"/><circle cx="438.9" cy="89.7" r="1.8" fill="#902050" opacity="0.32"/><circle cx="438.2" cy="93.7" r="2.3" fill="#a01040" opacity="0.57"/><circle cx="437.6" cy="100.0" r="1.5" fill="#8a0c2c" opacity="0.54"/><circle cx="473.5" cy="76.5" r="1.7" fill="#701848" opacity="0.63"/><circle cx="474.3" cy="75.7" r="2.4" fill="#902050" opacity="0.63"/><circle cx="433.9" cy="35.9" r="1.7" fill="#7a1030" opacity="0.63"/><circle cx="437.6" cy="39.2" r="1.3" fill="#a01040" opacity="0.52"/><circle cx="436.4" cy="43.9" r="1.7" fill="#902050" opacity="0.48"/><circle cx="433.3" cy="48.4" r="1.7" fill="#902050" opacity="0.35"/><circle cx="438.3" cy="47.4" r="1.9" fill="#701848" opacity="0.45"/><circle cx="445.7" cy="93.1" r="1.9" fill="#902050" opacity="0.67"/><circle cx="446.5" cy="96.3" r="2.6" fill="#701848" opacity="0.49"/><circle cx="450.2" cy="105.0" r="1.6" fill="#8a0c2c" opacity="0.69"/><circle cx="449.7" cy="104.4" r="2.5" fill="#8a0c2c" opacity="0.34"/><circle cx="471.4" cy="71.9" r="2.2" fill="#701848" opacity="0.69"/><circle cx="478.5" cy="72.3" r="1.8" fill="#701848" opacity="0.65"/><circle cx="480.3" cy="67.7" r="1.9" fill="#7a1030" opacity="0.63"/><circle cx="482.6" cy="63.2" r="1.7" fill="#902050" opacity="0.33"/><circle cx="479.7" cy="64.9" r="2.2" fill="#8a0c2c" opacity="0.55"/><circle cx="483.9" cy="58.6" r="3.0" fill="#a01040" opacity="0.37"/><circle cx="409.0" cy="94.6" r="2.2" fill="#902050" opacity="0.65"/><circle cx="405.8" cy="99.5" r="2.4" fill="#701848" opacity="0.70"/><circle cx="411.8" cy="97.2" r="1.5" fill="#701848" opacity="0.61"/><circle cx="415.8" cy="96.6" r="2.1" fill="#8a0c2c" opacity="0.41"/><circle cx="420.2" cy="105.7" r="1.2" fill="#701848" opacity="0.55"/><circle cx="457.5" cy="21.2" r="1.2" fill="#8a0c2c" opacity="0.61"/><circle cx="424.7" cy="100.4" r="2.2" fill="#701848" opacity="0.60"/><circle cx="421.4" cy="96.6" r="1.9" fill="#8a0c2c" opacity="0.49"/><circle cx="416.8" cy="100.5" r="2.5" fill="#902050" opacity="0.58"/><circle cx="409.7" cy="97.8" r="2.3" fill="#7a1030" opacity="0.56"/><circle cx="407.8" cy="103.1" r="1.6" fill="#701848" opacity="0.61"/><circle cx="479.9" cy="27.2" r="2.5" fill="#7a1030" opacity="0.45"/><circle cx="481.9" cy="29.1" r="1.4" fill="#8a0c2c" opacity="0.37"/><circle cx="487.1" cy="31.2" r="1.7" fill="#7a1030" opacity="0.30"/><circle cx="484.7" cy="37.4" r="2.3" fill="#701848" opacity="0.37"/><circle cx="447.8" cy="76.3" r="2.5" fill="#8a0c2c" opacity="0.65"/><circle cx="450.0" cy="77.0" r="2.4" fill="#902050" opacity="0.54"/><circle cx="486.1" cy="101.1" r="2.9" fill="#a01040" opacity="0.61"/><circle cx="487.8" cy="92.3" r="1.2" fill="#7a1030" opacity="0.40"/><circle cx="486.7" cy="89.1" r="2.4" fill="#8a0c2c" opacity="0.69"/><circle cx="406.1" cy="79.1" r="2.8" fill="#701848" opacity="0.50"/><circle cx="406.7" cy="78.2" r="1.8" fill="#a01040" opacity="0.33"/><circle cx="406.0" cy="81.8" r="2.3" fill="#a01040" opacity="0.61"/><circle cx="414.0" cy="90.0" r="1.7" fill="#701848" opacity="0.66"/><circle cx="414.0" cy="90.6" r="1.9" fill="#701848" opacity="0.49"/><circle cx="414.5" cy="92.3" r="2.0" fill="#8a0c2c" opacity="0.59"/><circle cx="408.3" cy="93.3" r="2.5" fill="#701848" opacity="0.58"/><circle cx="408.9" cy="88.5" r="1.3" fill="#a01040" opacity="0.43"/><circle cx="405.7" cy="85.4" r="2.3" fill="#902050" opacity="0.31"/><circle cx="402.0" cy="82.5" r="2.5" fill="#902050" opacity="0.63"/><circle cx="473.5" cy="77.5" r="1.9" fill="#902050" opacity="0.36"/><circle cx="472.2" cy="73.2" r="1.5" fill="#a01040" opacity="0.37"/><circle cx="482.6" cy="66.3" r="2.0" fill="#a01040" opacity="0.48"/><circle cx="403.3" cy="73.6" r="1.9" fill="#7a1030" opacity="0.52"/><circle cx="404.3" cy="81.6" r="1.5" fill="#a01040" opacity="0.55"/><circle cx="406.7" cy="83.7" r="2.1" fill="#8a0c2c" opacity="0.60"/><circle cx="452.8" cy="48.3" r="1.4" fill="#8a0c2c" opacity="0.59"/><circle cx="454.8" cy="40.1" r="2.8" fill="#7a1030" opacity="0.56"/><circle cx="451.1" cy="37.1" r="3.0" fill="#7a1030" opacity="0.36"/><circle cx="452.0" cy="30.9" r="2.5" fill="#701848" opacity="0.62"/><circle cx="426.3" cy="57.0" r="2.8" fill="#a01040" opacity="0.53"/><circle cx="433.9" cy="54.8" r="2.2" fill="#902050" opacity="0.57"/><circle cx="439.2" cy="60.2" r="2.9" fill="#a01040" opacity="0.65"/><circle cx="438.5" cy="55.5" r="2.4" fill="#7a1030" opacity="0.33"/><circle cx="457.5" cy="59.3" r="1.3" fill="#8a0c2c" opacity="0.64"/><circle cx="462.7" cy="62.4" r="1.4" fill="#8a0c2c" opacity="0.48"/><circle cx="462.3" cy="57.3" r="1.3" fill="#902050" opacity="0.46"/><circle cx="463.0" cy="54.8" r="2.6" fill="#701848" opacity="0.35"/><circle cx="423.4" cy="92.6" r="2.1" fill="#902050" opacity="0.47"/><circle cx="427.6" cy="95.0" r="1.3" fill="#902050" opacity="0.65"/><circle cx="430.5" cy="96.1" r="2.7" fill="#701848" opacity="0.32"/><circle cx="426.9" cy="98.2" r="2.8" fill="#7a1030" opacity="0.47"/><circle cx="435.7" cy="93.1" r="2.9" fill="#8a0c2c" opacity="0.43"/><circle cx="433.3" cy="95.1" r="1.9" fill="#902050" opacity="0.66"/><circle cx="427.3" cy="72.2" r="1.8" fill="#a01040" opacity="0.62"/><circle cx="423.5" cy="62.8" r="2.1" fill="#701848" opacity="0.39"/><circle cx="427.8" cy="58.7" r="1.5" fill="#701848" opacity="0.58"/><circle cx="431.4" cy="58.0" r="2.8" fill="#902050" opacity="0.49"/><circle cx="434.1" cy="89.9" r="1.4" fill="#8a0c2c" opacity="0.53"/><circle cx="435.9" cy="83.8" r="1.6" fill="#7a1030" opacity="0.39"/><circle cx="432.4" cy="86.1" r="2.9" fill="#701848" opacity="0.43"/><circle cx="434.0" cy="83.7" r="2.9" fill="#7a1030" opacity="0.60"/><circle cx="431.4" cy="81.9" r="1.9" fill="#a01040" opacity="0.48"/><circle cx="424.9" cy="82.6" r="1.3" fill="#902050" opacity="0.50"/><circle cx="442.5" cy="99.5" r="2.9" fill="#701848" opacity="0.44"/><circle cx="446.0" cy="101.0" r="2.5" fill="#7a1030" opacity="0.60"/><circle cx="446.7" cy="105.4" r="2.4" fill="#701848" opacity="0.36"/><circle cx="449.2" cy="105.1" r="2.7" fill="#8a0c2c" opacity="0.37"/><circle cx="454.2" cy="102.4" r="2.2" fill="#8a0c2c" opacity="0.32"/><circle cx="455.8" cy="105.9" r="1.6" fill="#902050" opacity="0.69"/><circle cx="488.0" cy="90.0" r="1.7" fill="#701848" opacity="0.52"/><circle cx="484.4" cy="87.0" r="2.6" fill="#902050" opacity="0.43"/><circle cx="485.3" cy="79.0" r="2.4" fill="#7a1030" opacity="0.38"/><circle cx="407.0" cy="42.2" r="3.0" fill="#701848" opacity="0.60"/><circle cx="410.9" cy="49.9" r="1.4" fill="#7a1030" opacity="0.46"/><circle cx="418.8" cy="51.8" r="2.5" fill="#8a0c2c" opacity="0.42"/><circle cx="411.9" cy="50.1" r="1.5" fill="#7a1030" opacity="0.50"/><circle cx="411.1" cy="47.3" r="2.5" fill="#8a0c2c" opacity="0.39"/><circle cx="412.2" cy="46.7" r="2.0" fill="#8a0c2c" opacity="0.69"/><circle cx="407.4" cy="42.7" r="2.8" fill="#701848" opacity="0.35"/></g>
<g clip-path="url(#clip2)" filter="url(#blur05)"><ellipse cx="446.3" cy="87.7" rx="1.6" ry="1.2" transform="rotate(25 446.3 87.7)" fill="#3838f0" opacity="0.77"/><ellipse cx="452.6" cy="86.1" rx="1.6" ry="1.2" transform="rotate(91 452.6 86.1)" fill="#2626e6" opacity="0.89"/><ellipse cx="437.7" cy="51.9" rx="1.9" ry="1.4" transform="rotate(156 437.7 51.9)" fill="#2626e6" opacity="0.65"/><ellipse cx="436.8" cy="51.3" rx="2.1" ry="1.5" transform="rotate(135 436.8 51.3)" fill="#2e2ed0" opacity="0.88"/><ellipse cx="433.3" cy="52.6" rx="1.4" ry="1.0" transform="rotate(164 433.3 52.6)" fill="#2626e6" opacity="0.78"/><ellipse cx="429.8" cy="53.5" rx="2.1" ry="1.5" transform="rotate(4 429.8 53.5)" fill="#3838f0" opacity="0.78"/><ellipse cx="428.9" cy="54.9" rx="2.3" ry="1.6" transform="rotate(146 428.9 54.9)" fill="#2020c8" opacity="0.57"/><ellipse cx="483.3" cy="28.9" rx="2.2" ry="1.5" transform="rotate(130 483.3 28.9)" fill="#2626e6" opacity="0.74"/><ellipse cx="481.2" cy="27.7" rx="2.3" ry="1.7" transform="rotate(5 481.2 27.7)" fill="#3030dc" opacity="0.85"/><ellipse cx="481.5" cy="20.3" rx="2.3" ry="1.7" transform="rotate(55 481.5 20.3)" fill="#2e2ed0" opacity="0.69"/><ellipse cx="445.5" cy="67.8" rx="1.5" ry="1.0" transform="rotate(149 445.5 67.8)" fill="#2626e6" opacity="0.74"/><ellipse cx="444.3" cy="70.4" rx="2.1" ry="1.5" transform="rotate(82 444.3 70.4)" fill="#2626e6" opacity="0.88"/><ellipse cx="443.4" cy="72.6" rx="2.3" ry="1.7" transform="rotate(11 443.4 72.6)" fill="#3030dc" opacity="0.94"/><ellipse cx="445.0" cy="77.2" rx="2.1" ry="1.5" transform="rotate(113 445.0 77.2)" fill="#2626e6" opacity="0.90"/><ellipse cx="440.1" cy="81.0" rx="2.0" ry="1.5" transform="rotate(66 440.1 81.0)" fill="#3838f0" opacity="0.64"/><ellipse cx="442.0" cy="86.9" rx="2.0" ry="1.4" transform="rotate(30 442.0 86.9)" fill="#2e2ed0" opacity="0.76"/><ellipse cx="431.8" cy="87.9" rx="1.8" ry="1.3" transform="rotate(52 431.8 87.9)" fill="#2e2ed0" opacity="0.65"/><ellipse cx="432.5" cy="83.8" rx="1.6" ry="1.1" transform="rotate(61 432.5 83.8)" fill="#2020c8" opacity="0.86"/><ellipse cx="435.4" cy="87.2" rx="2.3" ry="1.6" transform="rotate(114 435.4 87.2)" fill="#3030dc" opacity="0.72"/><ellipse cx="439.4" cy="82.5" rx="1.3" ry="1.0" transform="rotate(175 439.4 82.5)" fill="#3838f0" opacity="0.81"/><ellipse cx="441.3" cy="83.6" rx="2.3" ry="1.6" transform="rotate(135 441.3 83.6)" fill="#2e2ed0" opacity="0.64"/><ellipse cx="444.0" cy="86.3" rx="2.1" ry="1.5" transform="rotate(87 444.0 86.3)" fill="#3030dc" opacity="0.73"/><ellipse cx="457.5" cy="30.9" rx="1.4" ry="1.0" transform="rotate(85 457.5 30.9)" fill="#2626e6" opacity="0.71"/><ellipse cx="459.0" cy="35.8" rx="1.6" ry="1.1" transform="rotate(16 459.0 35.8)" fill="#2626e6" opacity="0.67"/><ellipse cx="466.0" cy="32.6" rx="1.9" ry="1.4" transform="rotate(127 466.0 32.6)" fill="#2626e6" opacity="0.66"/><ellipse cx="468.0" cy="38.2" rx="2.1" ry="1.5" transform="rotate(93 468.0 38.2)" fill="#2020c8" opacity="0.61"/><ellipse cx="473.6" cy="39.6" rx="1.7" ry="1.3" transform="rotate(3 473.6 39.6)" fill="#2020c8" opacity="0.79"/><ellipse cx="468.0" cy="38.5" rx="1.6" ry="1.2" transform="rotate(167 468.0 38.5)" fill="#3838f0" opacity="0.57"/><ellipse cx="466.7" cy="38.4" rx="1.6" ry="1.2" transform="rotate(154 466.7 38.4)" fill="#2626e6" opacity="0.89"/><ellipse cx="462.8" cy="43.2" rx="2.1" ry="1.5" transform="rotate(104 462.8 43.2)" fill="#2020c8" opacity="0.78"/><ellipse cx="462.3" cy="43.6" rx="1.4" ry="1.0" transform="rotate(135 462.3 43.6)" fill="#2e2ed0" opacity="0.74"/><ellipse cx="456.1" cy="49.1" rx="2.2" ry="1.6" transform="rotate(127 456.1 49.1)" fill="#3838f0" opacity="0.76"/><ellipse cx="456.3" cy="47.3" rx="2.1" ry="1.5" transform="rotate(110 456.3 47.3)" fill="#3030dc" opacity="0.68"/><ellipse cx="415.6" cy="45.7" rx="2.0" ry="1.4" transform="rotate(18 415.6 45.7)" fill="#3838f0" opacity="0.63"/><ellipse cx="415.2" cy="50.6" rx="1.8" ry="1.3" transform="rotate(31 415.2 50.6)" fill="#2626e6" opacity="0.65"/><ellipse cx="417.8" cy="50.3" rx="1.4" ry="1.0" transform="rotate(38 417.8 50.3)" fill="#3030dc" opacity="0.59"/><ellipse cx="418.2" cy="55.8" rx="1.8" ry="1.3" transform="rotate(128 418.2 55.8)" fill="#2626e6" opacity="0.88"/><ellipse cx="415.1" cy="56.6" rx="1.9" ry="1.4" transform="rotate(118 415.1 56.6)" fill="#3838f0" opacity="0.61"/><ellipse cx="412.1" cy="63.0" rx="1.6" ry="1.2" transform="rotate(88 412.1 63.0)" fill="#2020c8" opacity="0.78"/><ellipse cx="483.8" cy="46.1" rx="2.1" ry="1.5" transform="rotate(24 483.8 46.1)" fill="#2020c8" opacity="0.94"/><ellipse cx="479.8" cy="43.2" rx="1.4" ry="1.0" transform="rotate(86 479.8 43.2)" fill="#3030dc" opacity="0.92"/><ellipse cx="481.8" cy="36.5" rx="2.3" ry="1.6" transform="rotate(141 481.8 36.5)" fill="#2626e6" opacity="0.87"/><ellipse cx="483.8" cy="35.8" rx="2.0" ry="1.4" transform="rotate(50 483.8 35.8)" fill="#2020c8" opacity="0.94"/><ellipse cx="423.9" cy="58.3" rx="1.7" ry="1.2" transform="rotate(92 423.9 58.3)" fill="#2020c8" opacity="0.83"/><ellipse cx="421.8" cy="56.5" rx="2.2" ry="1.6" transform="rotate(116 421.8 56.5)" fill="#3030dc" opacity="0.66"/><ellipse cx="424.9" cy="49.3" rx="2.2" ry="1.6" transform="rotate(7 424.9 49.3)" fill="#3838f0" opacity="0.89"/><ellipse cx="424.6" cy="45.7" rx="1.7" ry="1.2" transform="rotate(138 424.6 45.7)" fill="#2020c8" opacity="0.85"/><ellipse cx="428.0" cy="47.9" rx="2.3" ry="1.6" transform="rotate(156 428.0 47.9)" fill="#3838f0" opacity="0.81"/><ellipse cx="429.5" cy="47.2" rx="1.7" ry="1.2" transform="rotate(89 429.5 47.2)" fill="#2020c8" opacity="0.55"/><ellipse cx="473.4" cy="107.2" rx="1.3" ry="0.9" transform="rotate(48 473.4 107.2)" fill="#2626e6" opacity="0.80"/><ellipse cx="470.9" cy="105.8" rx="1.5" ry="1.1" transform="rotate(173 470.9 105.8)" fill="#2020c8" opacity="0.69"/><ellipse cx="470.8" cy="103.9" rx="2.3" ry="1.7" transform="rotate(106 470.8 103.9)" fill="#2020c8" opacity="0.91"/><ellipse cx="469.9" cy="96.9" rx="1.6" ry="1.1" transform="rotate(35 469.9 96.9)" fill="#2626e6" opacity="0.76"/><ellipse cx="432.1" cy="52.2" rx="1.4" ry="1.0" transform="rotate(155 432.1 52.2)" fill="#2e2ed0" opacity="0.60"/><ellipse cx="432.3" cy="53.0" rx="2.3" ry="1.7" transform="rotate(127 432.3 53.0)" fill="#3030dc" opacity="0.59"/><ellipse cx="423.6" cy="49.6" rx="1.7" ry="1.2" transform="rotate(165 423.6 49.6)" fill="#2626e6" opacity="0.78"/><ellipse cx="418.0" cy="51.2" rx="2.1" ry="1.5" transform="rotate(85 418.0 51.2)" fill="#3838f0" opacity="0.79"/><ellipse cx="416.2" cy="54.3" rx="2.1" ry="1.5" transform="rotate(171 416.2 54.3)" fill="#2626e6" opacity="0.79"/><ellipse cx="414.5" cy="91.1" rx="1.9" ry="1.4" transform="rotate(99 414.5 91.1)" fill="#2e2ed0" opacity="0.64"/><ellipse cx="413.8" cy="88.4" rx="2.0" ry="1.5" transform="rotate(53 413.8 88.4)" fill="#2020c8" opacity="0.82"/><ellipse cx="415.6" cy="86.1" rx="1.6" ry="1.1" transform="rotate(6 415.6 86.1)" fill="#2020c8" opacity="0.80"/><ellipse cx="420.2" cy="78.0" rx="1.5" ry="1.0" transform="rotate(145 420.2 78.0)" fill="#2e2ed0" opacity="0.90"/><ellipse cx="416.7" cy="78.2" rx="1.8" ry="1.3" transform="rotate(131 416.7 78.2)" fill="#2e2ed0" opacity="0.76"/><ellipse cx="440.0" cy="42.1" rx="2.1" ry="1.5" transform="rotate(40 440.0 42.1)" fill="#3030dc" opacity="0.70"/><ellipse cx="444.6" cy="43.0" rx="2.0" ry="1.5" transform="rotate(114 444.6 43.0)" fill="#2e2ed0" opacity="0.63"/><ellipse cx="450.5" cy="45.8" rx="1.7" ry="1.2" transform="rotate(26 450.5 45.8)" fill="#3838f0" opacity="0.70"/><ellipse cx="449.0" cy="43.4" rx="2.0" ry="1.4" transform="rotate(142 449.0 43.4)" fill="#3030dc" opacity="0.59"/><ellipse cx="456.4" cy="42.4" rx="2.2" ry="1.6" transform="rotate(27 456.4 42.4)" fill="#3838f0" opacity="0.92"/><ellipse cx="459.2" cy="42.3" rx="2.2" ry="1.6" transform="rotate(162 459.2 42.3)" fill="#2e2ed0" opacity="0.92"/><ellipse cx="401.3" cy="74.6" rx="2.3" ry="1.7" transform="rotate(3 401.3 74.6)" fill="#2e2ed0" opacity="0.88"/><ellipse cx="433.8" cy="81.5" rx="2.2" ry="1.6" transform="rotate(92 433.8 81.5)" fill="#2e2ed0" opacity="0.72"/><ellipse cx="430.2" cy="78.8" rx="1.8" ry="1.3" transform="rotate(29 430.2 78.8)" fill="#2626e6" opacity="0.92"/><ellipse cx="429.7" cy="80.7" rx="1.6" ry="1.1" transform="rotate(170 429.7 80.7)" fill="#3838f0" opacity="0.82"/><ellipse cx="429.1" cy="79.5" rx="2.2" ry="1.6" transform="rotate(167 429.1 79.5)" fill="#2020c8" opacity="0.76"/><ellipse cx="422.3" cy="72.6" rx="1.9" ry="1.4" transform="rotate(106 422.3 72.6)" fill="#2020c8" opacity="0.76"/><ellipse cx="420.4" cy="76.1" rx="2.0" ry="1.5" transform="rotate(173 420.4 76.1)" fill="#2020c8" opacity="0.66"/><ellipse cx="453.6" cy="97.6" rx="2.3" ry="1.7" transform="rotate(178 453.6 97.6)" fill="#2626e6" opacity="0.94"/><ellipse cx="453.9" cy="96.5" rx="2.3" ry="1.7" transform="rotate(93 453.9 96.5)" fill="#2626e6" opacity="0.94"/><ellipse cx="451.4" cy="96.9" rx="1.3" ry="0.9" transform="rotate(76 451.4 96.9)" fill="#3838f0" opacity="0.84"/><ellipse cx="447.5" cy="93.2" rx="2.1" ry="1.5" transform="rotate(173 447.5 93.2)" fill="#3030dc" opacity="0.85"/><ellipse cx="439.3" cy="95.0" rx="1.8" ry="1.3" transform="rotate(3 439.3 95.0)" fill="#3838f0" opacity="0.90"/><ellipse cx="437.4" cy="95.5" rx="1.3" ry="1.0" transform="rotate(37 437.4 95.5)" fill="#3030dc" opacity="0.92"/><ellipse cx="412.6" cy="28.1" rx="1.3" ry="1.0" transform="rotate(67 412.6 28.1)" fill="#3030dc" opacity="0.80"/><ellipse cx="413.2" cy="23.1" rx="1.8" ry="1.3" transform="rotate(25 413.2 23.1)" fill="#2e2ed0" opacity="0.69"/><ellipse cx="451.4" cy="41.5" rx="1.6" ry="1.1" transform="rotate(73 451.4 41.5)" fill="#3838f0" opacity="0.62"/><ellipse cx="452.3" cy="42.4" rx="2.2" ry="1.6" transform="rotate(155 452.3 42.4)" fill="#2e2ed0" opacity="0.79"/><ellipse cx="449.1" cy="39.9" rx="2.0" ry="1.4" transform="rotate(121 449.1 39.9)" fill="#3838f0" opacity="0.63"/><ellipse cx="447.3" cy="39.8" rx="1.3" ry="0.9" transform="rotate(95 447.3 39.8)" fill="#3030dc" opacity="0.59"/><ellipse cx="441.4" cy="38.4" rx="2.1" ry="1.5" transform="rotate(62 441.4 38.4)" fill="#3838f0" opacity="0.56"/><ellipse cx="442.3" cy="33.1" rx="2.2" ry="1.6" transform="rotate(163 442.3 33.1)" fill="#2e2ed0" opacity="0.95"/><ellipse cx="466.9" cy="66.3" rx="2.2" ry="1.6" transform="rotate(132 466.9 66.3)" fill="#2020c8" opacity="0.67"/><ellipse cx="469.7" cy="71.4" rx="2.2" ry="1.6" transform="rotate(8 469.7 71.4)" fill="#2626e6" opacity="0.78"/><ellipse cx="469.7" cy="73.2" rx="2.1" ry="1.5" transform="rotate(70 469.7 73.2)" fill="#2626e6" opacity="0.76"/><ellipse cx="476.7" cy="71.5" rx="2.3" ry="1.7" transform="rotate(147 476.7 71.5)" fill="#3838f0" opacity="0.93"/><ellipse cx="479.1" cy="76.7" rx="2.1" ry="1.5" transform="rotate(161 479.1 76.7)" fill="#2020c8" opacity="0.63"/><ellipse cx="477.3" cy="78.8" rx="1.8" ry="1.3" transform="rotate(176 477.3 78.8)" fill="#2626e6" opacity="0.95"/><ellipse cx="417.9" cy="49.3" rx="1.3" ry="1.0" transform="rotate(17 417.9 49.3)" fill="#3030dc" opacity="0.61"/><ellipse cx="412.5" cy="43.8" rx="1.5" ry="1.1" transform="rotate(5 412.5 43.8)" fill="#3030dc" opacity="0.79"/><ellipse cx="414.7" cy="45.2" rx="1.9" ry="1.4" transform="rotate(116 414.7 45.2)" fill="#2626e6" opacity="0.74"/><ellipse cx="411.7" cy="37.9" rx="1.7" ry="1.2" transform="rotate(100 411.7 37.9)" fill="#2e2ed0" opacity="0.83"/><ellipse cx="409.7" cy="32.9" rx="2.1" ry="1.5" transform="rotate(7 409.7 32.9)" fill="#2020c8" opacity="0.58"/><ellipse cx="454.5" cy="34.8" rx="2.0" ry="1.4" transform="rotate(88 454.5 34.8)" fill="#3838f0" opacity="0.76"/><ellipse cx="459.5" cy="30.1" rx="2.4" ry="1.7" transform="rotate(106 459.5 30.1)" fill="#3838f0" opacity="0.60"/><ellipse cx="460.1" cy="28.8" rx="2.0" ry="1.4" transform="rotate(38 460.1 28.8)" fill="#3838f0" opacity="0.88"/><ellipse cx="465.3" cy="26.5" rx="2.1" ry="1.5" transform="rotate(22 465.3 26.5)" fill="#2e2ed0" opacity="0.77"/><ellipse cx="464.8" cy="26.8" rx="1.3" ry="0.9" transform="rotate(44 464.8 26.8)" fill="#2020c8" opacity="0.73"/><ellipse cx="469.0" cy="29.6" rx="1.3" ry="0.9" transform="rotate(31 469.0 29.6)" fill="#2e2ed0" opacity="0.82"/><ellipse cx="439.1" cy="84.2" rx="1.6" ry="1.1" transform="rotate(88 439.1 84.2)" fill="#2e2ed0" opacity="0.93"/><ellipse cx="439.2" cy="89.6" rx="2.2" ry="1.6" transform="rotate(78 439.2 89.6)" fill="#3838f0" opacity="0.71"/><ellipse cx="436.2" cy="92.6" rx="1.3" ry="0.9" transform="rotate(162 436.2 92.6)" fill="#3030dc" opacity="0.69"/><ellipse cx="438.0" cy="92.2" rx="2.1" ry="1.5" transform="rotate(32 438.0 92.2)" fill="#2626e6" opacity="0.57"/><ellipse cx="441.7" cy="97.5" rx="2.3" ry="1.6" transform="rotate(96 441.7 97.5)" fill="#2e2ed0" opacity="0.81"/><ellipse cx="435.3" cy="100.0" rx="1.9" ry="1.3" transform="rotate(6 435.3 100.0)" fill="#2e2ed0" opacity="0.66"/><ellipse cx="483.7" cy="85.4" rx="1.7" ry="1.2" transform="rotate(109 483.7 85.4)" fill="#2626e6" opacity="0.83"/><ellipse cx="482.5" cy="89.2" rx="1.7" ry="1.2" transform="rotate(4 482.5 89.2)" fill="#2020c8" opacity="0.88"/><ellipse cx="481.8" cy="94.3" rx="1.9" ry="1.4" transform="rotate(11 481.8 94.3)" fill="#3030dc" opacity="0.91"/><ellipse cx="477.5" cy="93.3" rx="2.0" ry="1.5" transform="rotate(31 477.5 93.3)" fill="#2626e6" opacity="0.95"/><ellipse cx="480.5" cy="101.8" rx="1.4" ry="1.0" transform="rotate(130 480.5 101.8)" fill="#2626e6" opacity="0.57"/><ellipse cx="482.7" cy="104.7" rx="1.3" ry="0.9" transform="rotate(89 482.7 104.7)" fill="#3838f0" opacity="0.68"/><ellipse cx="471.3" cy="77.4" rx="1.4" ry="1.0" transform="rotate(142 471.3 77.4)" fill="#3030dc" opacity="0.62"/><ellipse cx="472.8" cy="75.5" rx="2.1" ry="1.5" transform="rotate(7 472.8 75.5)" fill="#2626e6" opacity="0.84"/><ellipse cx="476.3" cy="69.0" rx="2.1" ry="1.5" transform="rotate(94 476.3 69.0)" fill="#2626e6" opacity="0.66"/><ellipse cx="480.8" cy="65.8" rx="2.0" ry="1.4" transform="rotate(157 480.8 65.8)" fill="#2626e6" opacity="0.66"/><ellipse cx="480.8" cy="68.7" rx="2.0" ry="1.4" transform="rotate(143 480.8 68.7)" fill="#2020c8" opacity="0.89"/><ellipse cx="460.0" cy="42.6" rx="1.4" ry="1.0" transform="rotate(157 460.0 42.6)" fill="#3030dc" opacity="0.89"/><ellipse cx="460.3" cy="40.9" rx="1.5" ry="1.1" transform="rotate(131 460.3 40.9)" fill="#2626e6" opacity="0.79"/><ellipse cx="458.6" cy="38.9" rx="1.4" ry="1.0" transform="rotate(55 458.6 38.9)" fill="#3030dc" opacity="0.70"/><ellipse cx="458.7" cy="36.2" rx="1.7" ry="1.2" transform="rotate(83 458.7 36.2)" fill="#3030dc" opacity="0.70"/><ellipse cx="455.4" cy="33.5" rx="1.4" ry="1.0" transform="rotate(163 455.4 33.5)" fill="#2e2ed0" opacity="0.78"/><ellipse cx="454.7" cy="32.4" rx="1.5" ry="1.1" transform="rotate(34 454.7 32.4)" fill="#2626e6" opacity="0.87"/><ellipse cx="425.1" cy="94.3" rx="2.0" ry="1.5" transform="rotate(36 425.1 94.3)" fill="#2020c8" opacity="0.57"/><ellipse cx="426.1" cy="92.3" rx="1.9" ry="1.4" transform="rotate(96 426.1 92.3)" fill="#3838f0" opacity="0.74"/><ellipse cx="425.6" cy="98.5" rx="1.9" ry="1.4" transform="rotate(98 425.6 98.5)" fill="#3030dc" opacity="0.73"/><ellipse cx="424.9" cy="103.0" rx="2.0" ry="1.5" transform="rotate(15 424.9 103.0)" fill="#3030dc" opacity="0.56"/><ellipse cx="419.7" cy="100.6" rx="1.6" ry="1.2" transform="rotate(56 419.7 100.6)" fill="#2626e6" opacity="0.74"/><ellipse cx="414.8" cy="101.7" rx="1.9" ry="1.4" transform="rotate(48 414.8 101.7)" fill="#2626e6" opacity="0.78"/><ellipse cx="431.4" cy="46.0" rx="2.2" ry="1.6" transform="rotate(59 431.4 46.0)" fill="#2e2ed0" opacity="0.82"/><ellipse cx="426.0" cy="37.7" rx="2.2" ry="1.6" transform="rotate(118 426.0 37.7)" fill="#2020c8" opacity="0.68"/><ellipse cx="426.6" cy="35.0" rx="2.1" ry="1.5" transform="rotate(111 426.6 35.0)" fill="#2e2ed0" opacity="0.85"/><ellipse cx="426.8" cy="34.6" rx="2.4" ry="1.7" transform="rotate(115 426.8 34.6)" fill="#3030dc" opacity="0.90"/><ellipse cx="419.0" cy="36.6" rx="1.9" ry="1.4" transform="rotate(34 419.0 36.6)" fill="#3838f0" opacity="0.61"/><ellipse cx="420.3" cy="30.7" rx="1.5" ry="1.1" transform="rotate(137 420.3 30.7)" fill="#2020c8" opacity="0.68"/><ellipse cx="473.6" cy="62.3" rx="2.2" ry="1.5" transform="rotate(147 473.6 62.3)" fill="#2626e6" opacity="0.81"/><ellipse cx="476.9" cy="57.7" rx="1.6" ry="1.2" transform="rotate(129 476.9 57.7)" fill="#3838f0" opacity="0.87"/><ellipse cx="478.2" cy="55.0" rx="2.1" ry="1.5" transform="rotate(179 478.2 55.0)" fill="#2020c8" opacity="0.57"/><ellipse cx="476.4" cy="51.8" rx="1.5" ry="1.1" transform="rotate(95 476.4 51.8)" fill="#2e2ed0" opacity="0.71"/><ellipse cx="476.4" cy="47.2" rx="1.4" ry="1.0" transform="rotate(86 476.4 47.2)" fill="#2020c8" opacity="0.95"/><ellipse cx="478.0" cy="43.1" rx="2.0" ry="1.4" transform="rotate(83 478.0 43.1)" fill="#3030dc" opacity="0.61"/><ellipse cx="408.4" cy="39.1" rx="1.9" ry="1.3" transform="rotate(88 408.4 39.1)" fill="#2020c8" opacity="0.95"/><ellipse cx="408.3" cy="40.1" rx="2.2" ry="1.6" transform="rotate(176 408.3 40.1)" fill="#2020c8" opacity="0.83"/><ellipse cx="407.2" cy="46.6" rx="2.2" ry="1.6" transform="rotate(164 407.2 46.6)" fill="#2e2ed0" opacity="0.80"/><ellipse cx="409.3" cy="50.1" rx="1.7" ry="1.2" transform="rotate(53 409.3 50.1)" fill="#2626e6" opacity="0.56"/><ellipse cx="402.4" cy="50.9" rx="1.3" ry="1.0" transform="rotate(17 402.4 50.9)" fill="#3030dc" opacity="0.60"/><ellipse cx="404.0" cy="51.0" rx="1.3" ry="0.9" transform="rotate(127 404.0 51.0)" fill="#3030dc" opacity="0.63"/><ellipse cx="456.2" cy="40.0" rx="2.2" ry="1.6" transform="rotate(107 456.2 40.0)" fill="#2e2ed0" opacity="0.81"/><ellipse cx="454.2" cy="47.5" rx="1.6" ry="1.1" transform="rotate(100 454.2 47.5)" fill="#2626e6" opacity="0.81"/><ellipse cx="450.7" cy="44.2" rx="2.0" ry="1.4" transform="rotate(33 450.7 44.2)" fill="#2020c8" opacity="0.91"/><ellipse cx="445.6" cy="54.1" rx="1.5" ry="1.1" transform="rotate(2 445.6 54.1)" fill="#3838f0" opacity="0.84"/><ellipse cx="449.4" cy="57.0" rx="1.5" ry="1.1" transform="rotate(86 449.4 57.0)" fill="#2e2ed0" opacity="0.86"/><ellipse cx="419.7" cy="42.1" rx="2.3" ry="1.6" transform="rotate(140 419.7 42.1)" fill="#3030dc" opacity="0.85"/><ellipse cx="415.0" cy="41.1" rx="1.9" ry="1.4" transform="rotate(48 415.0 41.1)" fill="#2626e6" opacity="0.68"/><ellipse cx="414.4" cy="46.5" rx="1.3" ry="0.9" transform="rotate(45 414.4 46.5)" fill="#2626e6" opacity="0.81"/><ellipse cx="410.2" cy="41.8" rx="2.1" ry="1.5" transform="rotate(75 410.2 41.8)" fill="#2020c8" opacity="0.69"/><ellipse cx="408.9" cy="43.4" rx="2.1" ry="1.5" transform="rotate(83 408.9 43.4)" fill="#3030dc" opacity="0.91"/><ellipse cx="425.2" cy="24.9" rx="1.8" ry="1.3" transform="rotate(78 425.2 24.9)" fill="#2020c8" opacity="0.73"/><ellipse cx="413.5" cy="29.3" rx="2.1" ry="1.5" transform="rotate(156 413.5 29.3)" fill="#2626e6" opacity="0.68"/><ellipse cx="412.9" cy="28.8" rx="2.0" ry="1.5" transform="rotate(118 412.9 28.8)" fill="#3838f0" opacity="0.58"/><ellipse cx="406.5" cy="25.0" rx="2.1" ry="1.5" transform="rotate(0 406.5 25.0)" fill="#2e2ed0" opacity="0.90"/><ellipse cx="405.0" cy="24.7" rx="2.0" ry="1.4" transform="rotate(171 405.0 24.7)" fill="#3030dc" opacity="0.64"/><ellipse cx="453.2" cy="66.3" rx="1.4" ry="1.0" transform="rotate(11 453.2 66.3)" fill="#3838f0" opacity="0.79"/><ellipse cx="458.9" cy="73.4" rx="1.4" ry="1.0" transform="rotate(98 458.9 73.4)" fill="#3838f0" opacity="0.57"/><ellipse cx="458.4" cy="76.0" rx="2.2" ry="1.6" transform="rotate(131 458.4 76.0)" fill="#2e2ed0" opacity="0.81"/><ellipse cx="480.2" cy="94.8" rx="2.0" ry="1.4" transform="rotate(130 480.2 94.8)" fill="#2626e6" opacity="0.64"/><ellipse cx="482.3" cy="68.9" rx="1.7" ry="1.2" transform="rotate(125 482.3 68.9)" fill="#2e2ed0" opacity="0.60"/><ellipse cx="487.0" cy="66.6" rx="1.3" ry="0.9" transform="rotate(62 487.0 66.6)" fill="#2e2ed0" opacity="0.56"/><ellipse cx="481.3" cy="62.2" rx="1.3" ry="0.9" transform="rotate(19 481.3 62.2)" fill="#3838f0" opacity="0.67"/><ellipse cx="485.3" cy="57.7" rx="1.9" ry="1.4" transform="rotate(10 485.3 57.7)" fill="#3838f0" opacity="0.72"/><ellipse cx="485.5" cy="53.6" rx="1.5" ry="1.1" transform="rotate(0 485.5 53.6)" fill="#2626e6" opacity="0.67"/><ellipse cx="487.9" cy="48.6" rx="1.4" ry="1.0" transform="rotate(105 487.9 48.6)" fill="#2e2ed0" opacity="0.78"/><ellipse cx="480.4" cy="34.3" rx="2.2" ry="1.6" transform="rotate(147 480.4 34.3)" fill="#2e2ed0" opacity="0.59"/><ellipse cx="485.3" cy="35.7" rx="2.3" ry="1.7" transform="rotate(53 485.3 35.7)" fill="#2020c8" opacity="0.69"/><ellipse cx="414.8" cy="95.9" rx="2.2" ry="1.6" transform="rotate(0 414.8 95.9)" fill="#2626e6" opacity="0.88"/><ellipse cx="418.9" cy="98.3" rx="2.2" ry="1.6" transform="rotate(126 418.9 98.3)" fill="#2e2ed0" opacity="0.59"/><ellipse cx="417.5" cy="96.7" rx="1.9" ry="1.3" transform="rotate(10 417.5 96.7)" fill="#3030dc" opacity="0.85"/><ellipse cx="417.9" cy="102.7" rx="2.1" ry="1.5" transform="rotate(160 417.9 102.7)" fill="#2020c8" opacity="0.91"/><ellipse cx="420.3" cy="107.6" rx="1.4" ry="1.0" transform="rotate(107 420.3 107.6)" fill="#3030dc" opacity="0.91"/><ellipse cx="478.6" cy="46.6" rx="2.2" ry="1.6" transform="rotate(127 478.6 46.6)" fill="#2020c8" opacity="0.76"/><ellipse cx="474.2" cy="51.0" rx="1.6" ry="1.1" transform="rotate(100 474.2 51.0)" fill="#3838f0" opacity="0.67"/><ellipse cx="478.4" cy="53.5" rx="2.1" ry="1.5" transform="rotate(64 478.4 53.5)" fill="#2e2ed0" opacity="0.84"/><ellipse cx="479.0" cy="59.4" rx="1.6" ry="1.2" transform="rotate(32 479.0 59.4)" fill="#3838f0" opacity="0.65"/><ellipse cx="472.0" cy="65.3" rx="1.9" ry="1.4" transform="rotate(96 472.0 65.3)" fill="#2e2ed0" opacity="0.73"/><ellipse cx="425.2" cy="56.2" rx="2.0" ry="1.4" transform="rotate(25 425.2 56.2)" fill="#2e2ed0" opacity="0.92"/><ellipse cx="428.5" cy="62.0" rx="1.4" ry="1.0" transform="rotate(158 428.5 62.0)" fill="#2626e6" opacity="0.77"/><ellipse cx="429.9" cy="62.2" rx="2.3" ry="1.7" transform="rotate(112 429.9 62.2)" fill="#3838f0" opacity="0.69"/><ellipse cx="431.6" cy="58.3" rx="2.3" ry="1.6" transform="rotate(29 431.6 58.3)" fill="#2e2ed0" opacity="0.90"/><ellipse cx="437.8" cy="55.6" rx="1.8" ry="1.3" transform="rotate(20 437.8 55.6)" fill="#2e2ed0" opacity="0.86"/><ellipse cx="420.3" cy="57.1" rx="1.7" ry="1.2" transform="rotate(72 420.3 57.1)" fill="#3030dc" opacity="0.72"/><ellipse cx="426.7" cy="54.7" rx="2.1" ry="1.5" transform="rotate(28 426.7 54.7)" fill="#2e2ed0" opacity="0.69"/><ellipse cx="426.1" cy="56.6" rx="2.2" ry="1.6" transform="rotate(55 426.1 56.6)" fill="#2626e6" opacity="0.74"/><ellipse cx="427.5" cy="49.1" rx="1.6" ry="1.1" transform="rotate(159 427.5 49.1)" fill="#2e2ed0" opacity="0.87"/><ellipse cx="430.1" cy="50.3" rx="1.8" ry="1.3" transform="rotate(141 430.1 50.3)" fill="#3030dc" opacity="0.80"/><ellipse cx="402.2" cy="65.5" rx="2.4" ry="1.7" transform="rotate(127 402.2 65.5)" fill="#2626e6" opacity="0.83"/><ellipse cx="403.0" cy="61.9" rx="2.0" ry="1.5" transform="rotate(76 403.0 61.9)" fill="#2e2ed0" opacity="0.80"/><ellipse cx="402.6" cy="54.2" rx="1.4" ry="1.0" transform="rotate(143 402.6 54.2)" fill="#2020c8" opacity="0.91"/><ellipse cx="405.2" cy="56.3" rx="1.8" ry="1.3" transform="rotate(175 405.2 56.3)" fill="#2626e6" opacity="0.84"/><ellipse cx="406.1" cy="52.2" rx="2.2" ry="1.6" transform="rotate(92 406.1 52.2)" fill="#3030dc" opacity="0.86"/><ellipse cx="427.7" cy="40.9" rx="1.4" ry="1.0" transform="rotate(30 427.7 40.9)" fill="#2626e6" opacity="0.58"/><ellipse cx="427.5" cy="41.8" rx="1.3" ry="1.0" transform="rotate(25 427.5 41.8)" fill="#2e2ed0" opacity="0.71"/><ellipse cx="430.4" cy="43.2" rx="1.4" ry="1.0" transform="rotate(78 430.4 43.2)" fill="#2626e6" opacity="0.73"/><ellipse cx="433.2" cy="41.1" rx="1.4" ry="1.0" transform="rotate(54 433.2 41.1)" fill="#2020c8" opacity="0.75"/><ellipse cx="435.3" cy="47.9" rx="1.9" ry="1.4" transform="rotate(99 435.3 47.9)" fill="#3838f0" opacity="0.94"/><ellipse cx="444.4" cy="46.3" rx="1.6" ry="1.1" transform="rotate(72 444.4 46.3)" fill="#2626e6" opacity="0.89"/><ellipse cx="439.8" cy="85.2" rx="1.7" ry="1.2" transform="rotate(9 439.8 85.2)" fill="#3838f0" opacity="0.88"/><ellipse cx="442.2" cy="85.3" rx="2.3" ry="1.7" transform="rotate(85 442.2 85.3)" fill="#3838f0" opacity="0.80"/><ellipse cx="438.7" cy="88.3" rx="1.8" ry="1.3" transform="rotate(64 438.7 88.3)" fill="#2e2ed0" opacity="0.80"/><ellipse cx="438.2" cy="95.1" rx="1.8" ry="1.3" transform="rotate(145 438.2 95.1)" fill="#2626e6" opacity="0.88"/><ellipse cx="440.1" cy="97.5" rx="1.8" ry="1.3" transform="rotate(117 440.1 97.5)" fill="#3030dc" opacity="0.71"/><ellipse cx="440.5" cy="100.7" rx="2.3" ry="1.7" transform="rotate(160 440.5 100.7)" fill="#2e2ed0" opacity="0.60"/><ellipse cx="472.5" cy="80.2" rx="1.4" ry="1.0" transform="rotate(3 472.5 80.2)" fill="#2e2ed0" opacity="0.67"/><ellipse cx="475.9" cy="76.8" rx="1.5" ry="1.1" transform="rotate(149 475.9 76.8)" fill="#3838f0" opacity="0.69"/><ellipse cx="432.7" cy="32.7" rx="2.4" ry="1.7" transform="rotate(50 432.7 32.7)" fill="#2626e6" opacity="0.94"/><ellipse cx="432.3" cy="38.2" rx="1.8" ry="1.3" transform="rotate(20 432.3 38.2)" fill="#2020c8" opacity="0.78"/><ellipse cx="435.7" cy="42.6" rx="1.9" ry="1.3" transform="rotate(8 435.7 42.6)" fill="#3030dc" opacity="0.78"/><ellipse cx="434.8" cy="41.2" rx="1.3" ry="0.9" transform="rotate(126 434.8 41.2)" fill="#2626e6" opacity="0.73"/><ellipse cx="436.2" cy="49.1" rx="2.2" ry="1.6" transform="rotate(117 436.2 49.1)" fill="#2e2ed0" opacity="0.74"/><ellipse cx="436.8" cy="50.3" rx="1.7" ry="1.2" transform="rotate(177 436.8 50.3)" fill="#3838f0" opacity="0.63"/><ellipse cx="447.9" cy="88.8" rx="2.0" ry="1.4" transform="rotate(135 447.9 88.8)" fill="#2e2ed0" opacity="0.59"/><ellipse cx="447.5" cy="95.0" rx="1.9" ry="1.4" transform="rotate(144 447.5 95.0)" fill="#2626e6" opacity="0.63"/><ellipse cx="448.6" cy="97.4" rx="1.7" ry="1.3" transform="rotate(2 448.6 97.4)" fill="#3030dc" opacity="0.67"/><ellipse cx="450.0" cy="97.5" rx="1.4" ry="1.0" transform="rotate(39 450.0 97.5)" fill="#3030dc" opacity="0.69"/><ellipse cx="448.0" cy="105.5" rx="1.5" ry="1.1" transform="rotate(138 448.0 105.5)" fill="#3838f0" opacity="0.68"/><ellipse cx="454.0" cy="103.3" rx="1.8" ry="1.3" transform="rotate(9 454.0 103.3)" fill="#2626e6" opacity="0.88"/><ellipse cx="475.9" cy="70.5" rx="2.2" ry="1.6" transform="rotate(118 475.9 70.5)" fill="#3838f0" opacity="0.88"/><ellipse cx="476.5" cy="69.8" rx="2.3" ry="1.6" transform="rotate(16 476.5 69.8)" fill="#3030dc" opacity="0.85"/><ellipse cx="478.7" cy="66.7" rx="1.6" ry="1.1" transform="rotate(113 478.7 66.7)" fill="#3838f0" opacity="0.81"/><ellipse cx="480.2" cy="65.4" rx="1.9" ry="1.4" transform="rotate(113 480.2 65.4)" fill="#3030dc" opacity="0.59"/><ellipse cx="483.1" cy="65.6" rx="1.3" ry="0.9" transform="rotate(141 483.1 65.6)" fill="#2e2ed0" opacity="0.65"/><ellipse cx="484.6" cy="57.3" rx="1.8" ry="1.3" transform="rotate(72 484.6 57.3)" fill="#2e2ed0" opacity="0.91"/><ellipse cx="406.0" cy="92.0" rx="2.2" ry="1.6" transform="rotate(29 406.0 92.0)" fill="#2e2ed0" opacity="0.69"/><ellipse cx="409.9" cy="93.8" rx="1.6" ry="1.2" transform="rotate(50 409.9 93.8)" fill="#3838f0" opacity="0.61"/><ellipse cx="412.5" cy="100.8" rx="2.0" ry="1.5" transform="rotate(131 412.5 100.8)" fill="#3838f0" opacity="0.92"/><ellipse cx="414.0" cy="98.3" rx="1.9" ry="1.4" transform="rotate(179 414.0 98.3)" fill="#3030dc" opacity="0.86"/><ellipse cx="411.1" cy="101.5" rx="1.3" ry="0.9" transform="rotate(21 411.1 101.5)" fill="#2e2ed0" opacity="0.60"/><ellipse cx="418.9" cy="101.3" rx="1.9" ry="1.4" transform="rotate(45 418.9 101.3)" fill="#2020c8" opacity="0.76"/><ellipse cx="457.5" cy="24.5" rx="1.9" ry="1.4" transform="rotate(161 457.5 24.5)" fill="#3838f0" opacity="0.61"/><ellipse cx="460.8" cy="24.2" rx="2.0" ry="1.4" transform="rotate(102 460.8 24.2)" fill="#3838f0" opacity="0.68"/><ellipse cx="420.9" cy="97.0" rx="1.9" ry="1.4" transform="rotate(103 420.9 97.0)" fill="#2626e6" opacity="0.88"/><ellipse cx="418.6" cy="97.0" rx="2.3" ry="1.7" transform="rotate(126 418.6 97.0)" fill="#3838f0" opacity="0.57"/><ellipse cx="412.9" cy="99.1" rx="1.7" ry="1.2" transform="rotate(98 412.9 99.1)" fill="#2020c8" opacity="0.63"/><ellipse cx="412.2" cy="101.7" rx="1.6" ry="1.1" transform="rotate(107 412.2 101.7)" fill="#2e2ed0" opacity="0.90"/><ellipse cx="478.1" cy="28.1" rx="2.0" ry="1.4" transform="rotate(33 478.1 28.1)" fill="#2020c8" opacity="0.85"/><ellipse cx="484.2" cy="33.9" rx="2.0" ry="1.4" transform="rotate(33 484.2 33.9)" fill="#2020c8" opacity="0.61"/><ellipse cx="484.9" cy="35.3" rx="1.3" ry="1.0" transform="rotate(133 484.9 35.3)" fill="#2626e6" opacity="0.94"/><ellipse cx="485.7" cy="39.4" rx="2.0" ry="1.4" transform="rotate(46 485.7 39.4)" fill="#3030dc" opacity="0.90"/><ellipse cx="447.2" cy="79.8" rx="1.4" ry="1.0" transform="rotate(121 447.2 79.8)" fill="#2020c8" opacity="0.91"/><ellipse cx="448.2" cy="74.4" rx="1.5" ry="1.1" transform="rotate(111 448.2 74.4)" fill="#3030dc" opacity="0.71"/><ellipse cx="483.1" cy="98.6" rx="1.7" ry="1.2" transform="rotate(97 483.1 98.6)" fill="#3030dc" opacity="0.79"/><ellipse cx="486.9" cy="89.2" rx="1.8" ry="1.3" transform="rotate(140 486.9 89.2)" fill="#2020c8" opacity="0.65"/><ellipse cx="405.3" cy="75.1" rx="1.4" ry="1.0" transform="rotate(156 405.3 75.1)" fill="#2626e6" opacity="0.63"/><ellipse cx="403.5" cy="82.2" rx="1.5" ry="1.1" transform="rotate(152 403.5 82.2)" fill="#2e2ed0" opacity="0.85"/><ellipse cx="408.4" cy="86.0" rx="1.3" ry="0.9" transform="rotate(6 408.4 86.0)" fill="#2e2ed0" opacity="0.69"/><ellipse cx="407.3" cy="86.0" rx="1.9" ry="1.4" transform="rotate(43 407.3 86.0)" fill="#3030dc" opacity="0.57"/><ellipse cx="410.2" cy="89.2" rx="1.7" ry="1.2" transform="rotate(142 410.2 89.2)" fill="#3030dc" opacity="0.55"/><ellipse cx="412.7" cy="90.3" rx="1.9" ry="1.4" transform="rotate(49 412.7 90.3)" fill="#2626e6" opacity="0.84"/><ellipse cx="418.4" cy="92.9" rx="1.5" ry="1.1" transform="rotate(144 418.4 92.9)" fill="#2e2ed0" opacity="0.73"/><ellipse cx="412.6" cy="94.2" rx="2.3" ry="1.7" transform="rotate(124 412.6 94.2)" fill="#2e2ed0" opacity="0.94"/><ellipse cx="408.5" cy="89.9" rx="2.0" ry="1.4" transform="rotate(55 408.5 89.9)" fill="#3838f0" opacity="0.95"/><ellipse cx="405.5" cy="90.3" rx="1.6" ry="1.1" transform="rotate(12 405.5 90.3)" fill="#2626e6" opacity="0.81"/><ellipse cx="404.3" cy="84.0" rx="2.3" ry="1.6" transform="rotate(20 404.3 84.0)" fill="#2626e6" opacity="0.61"/><ellipse cx="403.9" cy="84.0" rx="1.5" ry="1.1" transform="rotate(54 403.9 84.0)" fill="#2020c8" opacity="0.58"/><ellipse cx="472.3" cy="75.4" rx="1.9" ry="1.3" transform="rotate(26 472.3 75.4)" fill="#3030dc" opacity="0.69"/><ellipse cx="471.4" cy="75.1" rx="1.3" ry="1.0" transform="rotate(155 471.4 75.1)" fill="#2626e6" opacity="0.69"/><ellipse cx="477.9" cy="68.7" rx="2.0" ry="1.5" transform="rotate(40 477.9 68.7)" fill="#2e2ed0" opacity="0.92"/><ellipse cx="478.1" cy="72.0" rx="1.7" ry="1.2" transform="rotate(18 478.1 72.0)" fill="#3030dc" opacity="0.84"/><ellipse cx="483.3" cy="72.8" rx="2.2" ry="1.6" transform="rotate(84 483.3 72.8)" fill="#3030dc" opacity="0.84"/><ellipse cx="482.9" cy="69.3" rx="2.4" ry="1.7" transform="rotate(20 482.9 69.3)" fill="#2e2ed0" opacity="0.81"/><ellipse cx="404.0" cy="66.4" rx="1.4" ry="1.0" transform="rotate(76 404.0 66.4)" fill="#3838f0" opacity="0.82"/><ellipse cx="407.7" cy="74.0" rx="1.4" ry="1.0" transform="rotate(14 407.7 74.0)" fill="#3838f0" opacity="0.72"/><ellipse cx="405.6" cy="79.0" rx="2.0" ry="1.4" transform="rotate(129 405.6 79.0)" fill="#2e2ed0" opacity="0.79"/><ellipse cx="407.3" cy="82.7" rx="2.1" ry="1.5" transform="rotate(81 407.3 82.7)" fill="#2020c8" opacity="0.63"/><ellipse cx="406.0" cy="85.9" rx="1.8" ry="1.3" transform="rotate(109 406.0 85.9)" fill="#3838f0" opacity="0.81"/><ellipse cx="454.0" cy="46.9" rx="1.8" ry="1.3" transform="rotate(68 454.0 46.9)" fill="#3838f0" opacity="0.79"/><ellipse cx="450.4" cy="44.5" rx="1.5" ry="1.1" transform="rotate(112 450.4 44.5)" fill="#2e2ed0" opacity="0.83"/><ellipse cx="454.6" cy="41.8" rx="1.3" ry="1.0" transform="rotate(14 454.6 41.8)" fill="#2020c8" opacity="0.59"/><ellipse cx="453.3" cy="38.7" rx="1.7" ry="1.2" transform="rotate(48 453.3 38.7)" fill="#2626e6" opacity="0.76"/><ellipse cx="453.9" cy="30.8" rx="2.2" ry="1.6" transform="rotate(107 453.9 30.8)" fill="#3030dc" opacity="0.70"/><ellipse cx="458.1" cy="29.8" rx="1.4" ry="1.0" transform="rotate(159 458.1 29.8)" fill="#3838f0" opacity="0.90"/><ellipse cx="422.2" cy="53.1" rx="2.3" ry="1.6" transform="rotate(143 422.2 53.1)" fill="#2e2ed0" opacity="0.60"/><ellipse cx="428.3" cy="54.7" rx="2.2" ry="1.6" transform="rotate(111 428.3 54.7)" fill="#3838f0" opacity="0.92"/><ellipse cx="429.8" cy="56.4" rx="1.3" ry="0.9" transform="rotate(163 429.8 56.4)" fill="#3030dc" opacity="0.91"/><ellipse cx="436.4" cy="57.4" rx="1.8" ry="1.3" transform="rotate(61 436.4 57.4)" fill="#2626e6" opacity="0.56"/><ellipse cx="434.5" cy="59.1" rx="2.3" ry="1.6" transform="rotate(143 434.5 59.1)" fill="#2626e6" opacity="0.70"/><ellipse cx="439.3" cy="57.6" rx="1.9" ry="1.4" transform="rotate(16 439.3 57.6)" fill="#3030dc" opacity="0.64"/><ellipse cx="454.4" cy="65.1" rx="1.5" ry="1.1" transform="rotate(47 454.4 65.1)" fill="#2e2ed0" opacity="0.93"/><ellipse cx="457.0" cy="65.3" rx="2.0" ry="1.4" transform="rotate(178 457.0 65.3)" fill="#3030dc" opacity="0.92"/><ellipse cx="461.4" cy="58.7" rx="1.3" ry="1.0" transform="rotate(164 461.4 58.7)" fill="#2626e6" opacity="0.77"/><ellipse cx="460.8" cy="55.5" rx="2.3" ry="1.7" transform="rotate(79 460.8 55.5)" fill="#3030dc" opacity="0.62"/><ellipse cx="465.9" cy="52.6" rx="1.4" ry="1.0" transform="rotate(128 465.9 52.6)" fill="#3838f0" opacity="0.62"/><ellipse cx="469.5" cy="48.1" rx="2.2" ry="1.6" transform="rotate(58 469.5 48.1)" fill="#2020c8" opacity="0.93"/><ellipse cx="424.6" cy="90.6" rx="1.8" ry="1.3" transform="rotate(86 424.6 90.6)" fill="#2626e6" opacity="0.81"/><ellipse cx="424.5" cy="92.9" rx="1.8" ry="1.3" transform="rotate(22 424.5 92.9)" fill="#2626e6" opacity="0.64"/><ellipse cx="427.3" cy="95.8" rx="1.7" ry="1.2" transform="rotate(18 427.3 95.8)" fill="#2e2ed0" opacity="0.85"/><ellipse cx="432.8" cy="92.5" rx="2.4" ry="1.7" transform="rotate(83 432.8 92.5)" fill="#2e2ed0" opacity="0.80"/><ellipse cx="434.4" cy="97.2" rx="1.9" ry="1.4" transform="rotate(84 434.4 97.2)" fill="#2020c8" opacity="0.63"/><ellipse cx="436.8" cy="90.7" rx="1.9" ry="1.4" transform="rotate(153 436.8 90.7)" fill="#3838f0" opacity="0.88"/><ellipse cx="427.5" cy="74.4" rx="2.3" ry="1.7" transform="rotate(77 427.5 74.4)" fill="#2e2ed0" opacity="0.74"/><ellipse cx="425.0" cy="70.7" rx="1.6" ry="1.2" transform="rotate(74 425.0 70.7)" fill="#2020c8" opacity="0.88"/><ellipse cx="421.9" cy="67.6" rx="1.7" ry="1.2" transform="rotate(64 421.9 67.6)" fill="#2626e6" opacity="0.95"/><ellipse cx="423.8" cy="64.1" rx="1.5" ry="1.1" transform="rotate(120 423.8 64.1)" fill="#2020c8" opacity="0.61"/><ellipse cx="427.0" cy="60.0" rx="2.0" ry="1.4" transform="rotate(10 427.0 60.0)" fill="#3838f0" opacity="0.81"/><ellipse cx="432.0" cy="59.4" rx="2.0" ry="1.5" transform="rotate(134 432.0 59.4)" fill="#2020c8" opacity="0.77"/><ellipse cx="437.9" cy="90.8" rx="1.9" ry="1.4" transform="rotate(61 437.9 90.8)" fill="#2020c8" opacity="0.95"/><ellipse cx="432.4" cy="84.6" rx="2.0" ry="1.4" transform="rotate(30 432.4 84.6)" fill="#2e2ed0" opacity="0.80"/><ellipse cx="432.1" cy="86.2" rx="1.9" ry="1.4" transform="rotate(131 432.1 86.2)" fill="#2020c8" opacity="0.75"/><ellipse cx="428.5" cy="82.0" rx="2.3" ry="1.7" transform="rotate(121 428.5 82.0)" fill="#2626e6" opacity="0.71"/><ellipse cx="429.9" cy="78.5" rx="1.8" ry="1.3" transform="rotate(163 429.9 78.5)" fill="#2e2ed0" opacity="0.68"/><ellipse cx="429.0" cy="76.8" rx="1.3" ry="0.9" transform="rotate(73 429.0 76.8)" fill="#3838f0" opacity="0.74"/><ellipse cx="445.3" cy="102.7" rx="2.3" ry="1.7" transform="rotate(170 445.3 102.7)" fill="#3030dc" opacity="0.79"/><ellipse cx="446.1" cy="99.6" rx="1.9" ry="1.3" transform="rotate(84 446.1 99.6)" fill="#2626e6" opacity="0.94"/><ellipse cx="448.8" cy="102.0" rx="1.4" ry="1.0" transform="rotate(76 448.8 102.0)" fill="#3030dc" opacity="0.86"/><ellipse cx="455.5" cy="105.7" rx="1.9" ry="1.3" transform="rotate(62 455.5 105.7)" fill="#2e2ed0" opacity="0.64"/><ellipse cx="455.4" cy="107.7" rx="1.5" ry="1.1" transform="rotate(76 455.4 107.7)" fill="#2626e6" opacity="0.76"/><ellipse cx="458.4" cy="107.4" rx="2.1" ry="1.5" transform="rotate(134 458.4 107.4)" fill="#3030dc" opacity="0.72"/><ellipse cx="481.0" cy="96.5" rx="2.3" ry="1.6" transform="rotate(51 481.0 96.5)" fill="#2020c8" opacity="0.62"/><ellipse cx="486.9" cy="93.2" rx="2.1" ry="1.5" transform="rotate(155 486.9 93.2)" fill="#2e2ed0" opacity="0.82"/><ellipse cx="486.0" cy="85.8" rx="1.4" ry="1.0" transform="rotate(92 486.0 85.8)" fill="#2020c8" opacity="0.75"/><ellipse cx="485.9" cy="85.5" rx="1.8" ry="1.3" transform="rotate(115 485.9 85.5)" fill="#3838f0" opacity="0.92"/><ellipse cx="483.1" cy="78.7" rx="2.3" ry="1.6" transform="rotate(137 483.1 78.7)" fill="#2626e6" opacity="0.85"/><ellipse cx="410.6" cy="41.1" rx="1.3" ry="0.9" transform="rotate(123 410.6 41.1)" fill="#2626e6" opacity="0.59"/><ellipse cx="410.5" cy="49.5" rx="1.7" ry="1.3" transform="rotate(12 410.5 49.5)" fill="#2e2ed0" opacity="0.90"/><ellipse cx="407.5" cy="51.6" rx="2.1" ry="1.5" transform="rotate(66 407.5 51.6)" fill="#3838f0" opacity="0.81"/><ellipse cx="410.6" cy="53.2" rx="1.5" ry="1.1" transform="rotate(110 410.6 53.2)" fill="#2626e6" opacity="0.80"/><ellipse cx="412.2" cy="55.5" rx="1.5" ry="1.1" transform="rotate(73 412.2 55.5)" fill="#3030dc" opacity="0.83"/><ellipse cx="412.6" cy="59.5" rx="2.0" ry="1.4" transform="rotate(45 412.6 59.5)" fill="#2020c8" opacity="0.90"/><ellipse cx="419.0" cy="57.2" rx="2.0" ry="1.4" transform="rotate(78 419.0 57.2)" fill="#2020c8" opacity="0.69"/><ellipse cx="416.0" cy="48.0" rx="1.6" ry="1.2" transform="rotate(12 416.0 48.0)" fill="#2626e6" opacity="0.93"/><ellipse cx="417.3" cy="50.8" rx="1.5" ry="1.1" transform="rotate(27 417.3 50.8)" fill="#2020c8" opacity="0.68"/><ellipse cx="409.2" cy="48.2" rx="1.5" ry="1.1" transform="rotate(51 409.2 48.2)" fill="#3838f0" opacity="0.83"/><ellipse cx="408.7" cy="43.6" rx="2.2" ry="1.6" transform="rotate(27 408.7 43.6)" fill="#2626e6" opacity="0.80"/><ellipse cx="408.3" cy="43.7" rx="1.5" ry="1.1" transform="rotate(148 408.3 43.7)" fill="#2020c8" opacity="0.92"/></g>
<rect x="513.80" y="9.00" width="81.60" height="12.40" fill="#fff" stroke="#333" stroke-width="0.8"/>
<text x="554.50" y="18.60" font-size="8.8" font-weight="bold" text-anchor="middle">Veh</text>
<rect x="513.50" y="23.60" width="82.20" height="81.40" fill="#000" stroke="#8a8a8a" stroke-width="0.9"/>
<g clip-path="url(#clip3)" filter="url(#blur08)"><circle cx="572.9" cy="98.6" r="2.4" fill="#8a0c2c" opacity="0.62"/><circle cx="515.4" cy="73.3" r="1.8" fill="#8a0c2c" opacity="0.54"/><circle cx="534.5" cy="90.8" r="2.2" fill="#a01040" opacity="0.46"/><circle cx="528.2" cy="78.3" r="2.4" fill="#902050" opacity="0.67"/><circle cx="529.2" cy="75.8" r="1.3" fill="#701848" opacity="0.69"/><circle cx="569.9" cy="70.4" r="1.3" fill="#a01040" opacity="0.63"/><circle cx="576.9" cy="70.8" r="2.3" fill="#701848" opacity="0.63"/><circle cx="568.1" cy="50.1" r="1.7" fill="#7a1030" opacity="0.48"/><circle cx="577.8" cy="87.1" r="1.3" fill="#701848" opacity="0.59"/><circle cx="583.4" cy="36.1" r="1.7" fill="#8a0c2c" opacity="0.47"/><circle cx="564.2" cy="33.9" r="1.8" fill="#701848" opacity="0.62"/><circle cx="560.2" cy="64.7" r="1.8" fill="#8a0c2c" opacity="0.65"/><circle cx="560.7" cy="70.9" r="1.6" fill="#7a1030" opacity="0.40"/><circle cx="522.6" cy="48.7" r="2.7" fill="#7a1030" opacity="0.47"/><circle cx="529.5" cy="55.2" r="1.6" fill="#8a0c2c" opacity="0.34"/><circle cx="533.6" cy="39.9" r="1.5" fill="#7a1030" opacity="0.37"/></g>
<g clip-path="url(#clip3)" filter="url(#blur05)"><ellipse cx="574.5" cy="91.7" rx="1.8" ry="1.3" transform="rotate(5 574.5 91.7)" fill="#2626e6" opacity="0.62"/><ellipse cx="519.2" cy="75.0" rx="1.6" ry="1.1" transform="rotate(134 519.2 75.0)" fill="#3030dc" opacity="0.92"/><ellipse cx="511.0" cy="75.0" rx="2.0" ry="1.4" transform="rotate(86 511.0 75.0)" fill="#2e2ed0" opacity="0.65"/><ellipse cx="537.6" cy="87.0" rx="1.5" ry="1.1" transform="rotate(149 537.6 87.0)" fill="#3030dc" opacity="0.69"/><ellipse cx="540.6" cy="91.8" rx="1.7" ry="1.3" transform="rotate(7 540.6 91.8)" fill="#2626e6" opacity="0.95"/><ellipse cx="540.2" cy="93.9" rx="1.6" ry="1.1" transform="rotate(134 540.2 93.9)" fill="#2020c8" opacity="0.58"/><ellipse cx="586.9" cy="23.8" rx="1.7" ry="1.2" transform="rotate(71 586.9 23.8)" fill="#2626e6" opacity="0.56"/><ellipse cx="520.6" cy="82.6" rx="1.3" ry="0.9" transform="rotate(9 520.6 82.6)" fill="#2626e6" opacity="0.92"/><ellipse cx="525.9" cy="84.5" rx="1.4" ry="1.0" transform="rotate(20 525.9 84.5)" fill="#2e2ed0" opacity="0.86"/><ellipse cx="534.2" cy="76.5" rx="1.9" ry="1.4" transform="rotate(18 534.2 76.5)" fill="#2e2ed0" opacity="0.94"/><ellipse cx="568.1" cy="73.2" rx="2.2" ry="1.6" transform="rotate(61 568.1 73.2)" fill="#3030dc" opacity="0.85"/><ellipse cx="570.6" cy="72.4" rx="1.9" ry="1.4" transform="rotate(43 570.6 72.4)" fill="#3030dc" opacity="0.68"/><ellipse cx="577.6" cy="74.0" rx="2.2" ry="1.6" transform="rotate(64 577.6 74.0)" fill="#3838f0" opacity="0.73"/><ellipse cx="569.3" cy="49.5" rx="1.5" ry="1.1" transform="rotate(171 569.3 49.5)" fill="#2e2ed0" opacity="0.81"/><ellipse cx="574.5" cy="53.3" rx="1.3" ry="1.0" transform="rotate(165 574.5 53.3)" fill="#3838f0" opacity="0.65"/><ellipse cx="576.6" cy="101.3" rx="1.9" ry="1.4" transform="rotate(62 576.6 101.3)" fill="#2626e6" opacity="0.84"/><ellipse cx="576.0" cy="93.9" rx="1.9" ry="1.4" transform="rotate(175 576.0 93.9)" fill="#2e2ed0" opacity="0.65"/><ellipse cx="575.2" cy="90.5" rx="1.8" ry="1.3" transform="rotate(177 575.2 90.5)" fill="#2e2ed0" opacity="0.62"/><ellipse cx="569.0" cy="97.0" rx="1.7" ry="1.2" transform="rotate(116 569.0 97.0)" fill="#2e2ed0" opacity="0.60"/><ellipse cx="571.4" cy="96.3" rx="1.8" ry="1.3" transform="rotate(155 571.4 96.3)" fill="#2e2ed0" opacity="0.72"/><ellipse cx="564.2" cy="89.4" rx="2.1" ry="1.5" transform="rotate(26 564.2 89.4)" fill="#3838f0" opacity="0.55"/><ellipse cx="586.2" cy="40.5" rx="2.2" ry="1.6" transform="rotate(176 586.2 40.5)" fill="#2e2ed0" opacity="0.93"/><ellipse cx="579.8" cy="34.5" rx="1.9" ry="1.4" transform="rotate(177 579.8 34.5)" fill="#2020c8" opacity="0.72"/><ellipse cx="581.1" cy="37.3" rx="1.7" ry="1.3" transform="rotate(160 581.1 37.3)" fill="#3838f0" opacity="0.92"/><ellipse cx="577.5" cy="36.2" rx="2.2" ry="1.6" transform="rotate(104 577.5 36.2)" fill="#2626e6" opacity="0.92"/><ellipse cx="564.3" cy="39.2" rx="1.5" ry="1.1" transform="rotate(69 564.3 39.2)" fill="#3838f0" opacity="0.92"/><ellipse cx="558.5" cy="67.7" rx="2.0" ry="1.4" transform="rotate(138 558.5 67.7)" fill="#2e2ed0" opacity="0.78"/><ellipse cx="556.0" cy="70.3" rx="2.3" ry="1.7" transform="rotate(37 556.0 70.3)" fill="#3030dc" opacity="0.92"/><ellipse cx="556.5" cy="71.3" rx="1.4" ry="1.0" transform="rotate(151 556.5 71.3)" fill="#3838f0" opacity="0.63"/><ellipse cx="528.7" cy="48.4" rx="1.6" ry="1.1" transform="rotate(13 528.7 48.4)" fill="#3838f0" opacity="0.88"/><ellipse cx="528.1" cy="51.0" rx="2.1" ry="1.5" transform="rotate(87 528.1 51.0)" fill="#2626e6" opacity="0.58"/><ellipse cx="533.8" cy="55.4" rx="2.0" ry="1.5" transform="rotate(10 533.8 55.4)" fill="#2626e6" opacity="0.81"/><ellipse cx="534.9" cy="38.7" rx="1.3" ry="0.9" transform="rotate(14 534.9 38.7)" fill="#2020c8" opacity="0.74"/><ellipse cx="531.4" cy="38.3" rx="1.9" ry="1.4" transform="rotate(5 531.4 38.3)" fill="#2e2ed0" opacity="0.79"/></g>
<rect x="597.70" y="9.00" width="81.60" height="12.40" fill="#fff" stroke="#333" stroke-width="0.8"/>
<text x="638.40" y="18.60" font-size="8.8" font-weight="bold" text-anchor="middle">NB  5 M</text>
<rect x="597.40" y="23.60" width="82.20" height="81.40" fill="#000" stroke="#8a8a8a" stroke-width="0.9"/>
<g clip-path="url(#clip4)" filter="url(#blur08)"><circle cx="665.6" cy="63.1" r="1.7" fill="#701848" opacity="0.63"/><circle cx="666.3" cy="66.6" r="2.3" fill="#701848" opacity="0.37"/><circle cx="659.4" cy="95.2" r="2.7" fill="#8a0c2c" opacity="0.40"/><circle cx="653.3" cy="88.3" r="1.6" fill="#7a1030" opacity="0.48"/><circle cx="636.3" cy="57.3" r="2.2" fill="#a01040" opacity="0.57"/><circle cx="650.7" cy="74.2" r="2.4" fill="#7a1030" opacity="0.35"/><circle cx="649.4" cy="50.7" r="2.2" fill="#902050" opacity="0.64"/><circle cx="653.2" cy="47.6" r="2.3" fill="#a01040" opacity="0.68"/></g>
<g clip-path="url(#clip4)" filter="url(#blur05)"><ellipse cx="667.6" cy="58.3" rx="2.0" ry="1.4" transform="rotate(37 667.6 58.3)" fill="#2e2ed0" opacity="0.72"/><ellipse cx="666.0" cy="67.1" rx="2.3" ry="1.7" transform="rotate(51 666.0 67.1)" fill="#3838f0" opacity="0.67"/><ellipse cx="659.8" cy="69.3" rx="1.7" ry="1.2" transform="rotate(101 659.8 69.3)" fill="#2626e6" opacity="0.60"/><ellipse cx="656.4" cy="97.6" rx="1.6" ry="1.1" transform="rotate(6 656.4 97.6)" fill="#2626e6" opacity="0.80"/><ellipse cx="657.1" cy="86.0" rx="1.5" ry="1.1" transform="rotate(159 657.1 86.0)" fill="#2e2ed0" opacity="0.83"/><ellipse cx="652.0" cy="84.5" rx="2.2" ry="1.6" transform="rotate(50 652.0 84.5)" fill="#2626e6" opacity="0.66"/><ellipse cx="642.9" cy="56.2" rx="1.3" ry="0.9" transform="rotate(131 642.9 56.2)" fill="#2e2ed0" opacity="0.85"/><ellipse cx="678.1" cy="84.0" rx="1.3" ry="0.9" transform="rotate(55 678.1 84.0)" fill="#3030dc" opacity="0.83"/><ellipse cx="642.0" cy="47.8" rx="1.5" ry="1.1" transform="rotate(56 642.0 47.8)" fill="#2020c8" opacity="0.89"/><ellipse cx="647.0" cy="50.5" rx="2.2" ry="1.6" transform="rotate(99 647.0 50.5)" fill="#2e2ed0" opacity="0.79"/><ellipse cx="658.3" cy="48.3" rx="1.8" ry="1.3" transform="rotate(64 658.3 48.3)" fill="#3030dc" opacity="0.71"/><ellipse cx="657.6" cy="53.7" rx="1.5" ry="1.1" transform="rotate(87 657.6 53.7)" fill="#2e2ed0" opacity="0.67"/></g>
<rect x="318.40" y="68.40" width="35.40" height="35.80" fill="#000"/>
<g filter="url(#blur08)"><ellipse cx="331" cy="80" rx="7.5" ry="7" fill="#0a3a0a" stroke="#22cc22" stroke-width="2.2"/><ellipse cx="337" cy="93" rx="6.5" ry="6" fill="#0a3a0a" stroke="#22cc22" stroke-width="2.2"/><ellipse cx="332" cy="81" rx="3.6" ry="3.2" fill="#3040d8"/><ellipse cx="337" cy="93" rx="3.2" ry="3.4" fill="#3040d8"/><ellipse cx="346" cy="81" rx="1.8" ry="3.8" fill="#2030d0"/><ellipse cx="323" cy="95" rx="2" ry="3" fill="#103a10"/></g>
<rect x="318.40" y="68.40" width="35.40" height="35.80" fill="none" stroke="#c8c8c8" stroke-width="1.0"/>
<line x1="322.00" y1="101.20" x2="352.00" y2="101.20" stroke="#bbb" stroke-width="1.2"/>
<line x1="371.00" y1="100.80" x2="396.00" y2="100.80" stroke="#ccc" stroke-width="1.2"/>
<rect x="403.00" y="68.40" width="35.80" height="35.80" fill="#000"/>
<g filter="url(#blur08)"><rect x="403" y="69" width="35" height="35" fill="#200404"/><ellipse cx="416" cy="86" rx="13" ry="12" fill="#b83a10"/><ellipse cx="425" cy="80" rx="10" ry="8" fill="#c05010"/><ellipse cx="420" cy="84" rx="8" ry="6" fill="#a0b020"/><ellipse cx="427" cy="78" rx="5" ry="4" fill="#80c020"/><ellipse cx="414" cy="96" rx="7" ry="4" fill="#b0a020"/><ellipse cx="409" cy="84" rx="3.2" ry="4.2" fill="#3040d0"/><ellipse cx="413" cy="72.5" rx="4" ry="2.4" fill="#3050e0"/><ellipse cx="420" cy="71.5" rx="4" ry="2" fill="#30c030"/><ellipse cx="418" cy="90" rx="3" ry="2.5" fill="#3040c0"/><ellipse cx="407" cy="76" rx="2.5" ry="3" fill="#d02010"/><ellipse cx="431" cy="98" rx="6" ry="5" fill="#000"/><ellipse cx="433" cy="90" rx="3" ry="4" fill="#c02a10"/></g>
<rect x="403.00" y="68.40" width="35.80" height="35.80" fill="none" stroke="#c8c8c8" stroke-width="1.0"/>
<g filter="url(#blur08)"><ellipse cx="455" cy="62" rx="9" ry="4.5" fill="#a0a020" opacity="0.85"/><ellipse cx="465" cy="56" rx="5" ry="4" fill="#c0c030" opacity="0.85"/><ellipse cx="450" cy="66" rx="5" ry="3" fill="#c06020" opacity="0.7"/><ellipse cx="460" cy="60" rx="3" ry="2" fill="#70b030" opacity="0.8"/></g>
<g filter="url(#blur05)"><circle cx="368" cy="64" r="2.8" fill="#0a300a" stroke="#30b030" stroke-width="1.1"/><circle cx="368" cy="64" r="1.54" fill="#3040c0"/><circle cx="369" cy="70.5" r="2.6" fill="#0a300a" stroke="#30b030" stroke-width="1.1"/><circle cx="369" cy="70.5" r="1.43" fill="#3040c0"/><ellipse cx="375" cy="28.5" rx="5" ry="2.5" fill="#a02060" opacity="0.8"/><ellipse cx="379" cy="27" rx="2.5" ry="1.8" fill="#c02040" opacity="0.7"/></g>
<rect x="557.40" y="68.60" width="35.80" height="35.60" fill="#000"/>
<g filter="url(#blur08)"><circle cx="576.4" cy="84" r="6.2" fill="#103010" stroke="#22dd22" stroke-width="2.2"/><circle cx="576.4" cy="84.5" r="4.4" fill="#3545e8"/><ellipse cx="565" cy="97" rx="4.5" ry="3.2" fill="#b02040"/><ellipse cx="567" cy="98" rx="2" ry="1.5" fill="#4040c0"/></g>
<rect x="557.40" y="68.60" width="35.80" height="35.60" fill="none" stroke="#c8c8c8" stroke-width="1.0"/>
<rect x="643.50" y="68.60" width="35.60" height="35.60" fill="#000"/>
<g filter="url(#blur08)"><ellipse cx="665.5" cy="82.5" rx="7.8" ry="9.5" fill="#40a030" stroke="#e07020" stroke-width="1.8"/><ellipse cx="665.5" cy="85" rx="6" ry="6.5" fill="#3050e0"/><circle cx="656" cy="96.5" r="5.6" fill="#3050d8" stroke="#d09020" stroke-width="1.5"/><ellipse cx="651" cy="102" rx="5" ry="2" fill="#a02060"/></g>
<rect x="643.50" y="68.60" width="35.60" height="35.60" fill="none" stroke="#c8c8c8" stroke-width="1.0"/>
<g filter="url(#blur05)"><circle cx="626" cy="38.5" r="2.8" fill="#3048c8" stroke="#d09030" stroke-width="1.3"/><circle cx="625.5" cy="37.9" r="1.26" fill="#5a8a60" opacity="0.6"/><circle cx="622.5" cy="45.5" r="3.0" fill="#3048c8" stroke="#d8502a" stroke-width="1.3"/><circle cx="622.0" cy="44.9" r="1.35" fill="#5a8a60" opacity="0.6"/><circle cx="628" cy="49.5" r="3.2" fill="#3048c8" stroke="#d08030" stroke-width="1.3"/><circle cx="627.5" cy="48.9" r="1.44" fill="#5a8a60" opacity="0.6"/><circle cx="624.5" cy="55" r="3.0" fill="#3048c8" stroke="#d8502a" stroke-width="1.3"/><circle cx="624.0" cy="54.4" r="1.35" fill="#5a8a60" opacity="0.6"/><circle cx="630.5" cy="57.5" r="2.6" fill="#3048c8" stroke="#d8502a" stroke-width="1.3"/><circle cx="630.0" cy="56.9" r="1.17" fill="#5a8a60" opacity="0.6"/><circle cx="646.3" cy="52" r="2.6" fill="#3048c8" stroke="#d8502a" stroke-width="1.3"/><circle cx="645.8" cy="51.4" r="1.17" fill="#5a8a60" opacity="0.6"/><circle cx="643.5" cy="62.5" r="2.8" fill="#3048c8" stroke="#d8502a" stroke-width="1.3"/><circle cx="643.0" cy="61.9" r="1.26" fill="#5a8a60" opacity="0.6"/><circle cx="639.5" cy="70.5" r="2.0" fill="#3048c8" stroke="#d8502a" stroke-width="1.3"/><circle cx="639.0" cy="69.9" r="0.90" fill="#5a8a60" opacity="0.6"/><circle cx="638.5" cy="80.5" r="2.4" fill="#3048c8" stroke="#d8502a" stroke-width="1.3"/><circle cx="638.0" cy="79.9" r="1.08" fill="#5a8a60" opacity="0.6"/><circle cx="636.5" cy="90" r="2.0" fill="#3048c8" stroke="#a03040" stroke-width="1.3"/><circle cx="636.0" cy="89.4" r="0.90" fill="#5a8a60" opacity="0.6"/></g>
<g filter="url(#blur05)"><circle cx="584" cy="60" r="2.4" fill="none" stroke="#a03050" stroke-width="1.0"/><circle cx="584" cy="60" r="1.44" fill="#4050c0"/><circle cx="579" cy="56" r="2.2" fill="none" stroke="#a03050" stroke-width="1.0"/><circle cx="579" cy="56" r="1.32" fill="#4050c0"/><circle cx="587" cy="63" r="2.0" fill="none" stroke="#903050" stroke-width="1.0"/><circle cx="587" cy="63" r="1.20" fill="#4050c0"/><circle cx="547.8" cy="82" r="2.2" fill="none" stroke="#40c040" stroke-width="1.0"/><circle cx="547.8" cy="82" r="1.32" fill="#4050d0"/><ellipse cx="539" cy="89" rx="4" ry="2" fill="#902050" opacity="0.7"/></g>
<text x="4.60" y="122.40" font-size="16" font-weight="bold">b</text>
<line x1="36.30" y1="131.30" x2="36.30" y2="192.00" stroke="#000" stroke-width="1.1"/>
<line x1="34.00" y1="192.00" x2="240.40" y2="192.00" stroke="#000" stroke-width="1.3"/>
<line x1="34.00" y1="192.00" x2="36.30" y2="192.00" stroke="#000" stroke-width="1"/>
<text x="32.60" y="195.10" font-size="8.6" text-anchor="end" fill="#222">0</text>
<line x1="34.00" y1="179.86" x2="36.30" y2="179.86" stroke="#000" stroke-width="1"/>
<text x="32.60" y="182.96" font-size="8.6" text-anchor="end" fill="#222">1</text>
<line x1="34.00" y1="167.72" x2="36.30" y2="167.72" stroke="#000" stroke-width="1"/>
<text x="32.60" y="170.82" font-size="8.6" text-anchor="end" fill="#222">2</text>
<line x1="34.00" y1="155.58" x2="36.30" y2="155.58" stroke="#000" stroke-width="1"/>
<text x="32.60" y="158.68" font-size="8.6" text-anchor="end" fill="#222">3</text>
<line x1="34.00" y1="143.44" x2="36.30" y2="143.44" stroke="#000" stroke-width="1"/>
<text x="32.60" y="146.54" font-size="8.6" text-anchor="end" fill="#222">4</text>
<line x1="34.00" y1="131.30" x2="36.30" y2="131.30" stroke="#000" stroke-width="1"/>
<text x="32.60" y="134.40" font-size="8.6" text-anchor="end" fill="#222">5</text>
<text x="24.20" y="159.80" font-size="9.2" font-weight="bold" text-anchor="middle" transform="rotate(-90 24.20 159.80)">mRNA (fold)</text>
<rect x="42.40" y="179.86" width="10.90" height="12.14" fill="#efc6f6" stroke="#000" stroke-width="1"/>
<rect x="53.80" y="150.85" width="10.90" height="41.15" fill="#b04fd8" stroke="#000" stroke-width="1"/>
<line x1="47.85" y1="179.86" x2="47.85" y2="178.04" stroke="#000" stroke-width="1"/>
<line x1="45.25" y1="178.04" x2="50.45" y2="178.04" stroke="#000" stroke-width="1"/>
<line x1="59.25" y1="150.85" x2="59.25" y2="145.38" stroke="#000" stroke-width="1"/>
<line x1="56.65" y1="145.38" x2="61.85" y2="145.38" stroke="#000" stroke-width="1"/>
<circle cx="49.57" cy="181.07" r="1.20" fill="#8410b4"/>
<circle cx="49.14" cy="178.65" r="1.20" fill="#8410b4"/>
<circle cx="47.45" cy="180.47" r="1.20" fill="#8410b4"/>
<circle cx="59.61" cy="157.02" r="1.20" fill="#8410b4"/>
<circle cx="58.89" cy="146.73" r="1.20" fill="#8410b4"/>
<circle cx="59.64" cy="150.02" r="1.20" fill="#8410b4"/>
<text x="58.20" y="203.20" font-size="9.3" font-weight="bold" font-style="italic" text-anchor="end" transform="rotate(-27 58.20 203.20)">Slc2a1</text>
<rect x="70.73" y="179.25" width="10.90" height="12.75" fill="#efc6f6" stroke="#000" stroke-width="1"/>
<rect x="82.13" y="178.65" width="10.90" height="13.35" fill="#b04fd8" stroke="#000" stroke-width="1"/>
<line x1="76.18" y1="179.25" x2="76.18" y2="175.00" stroke="#000" stroke-width="1"/>
<line x1="73.58" y1="175.00" x2="78.78" y2="175.00" stroke="#000" stroke-width="1"/>
<line x1="87.58" y1="178.65" x2="87.58" y2="173.18" stroke="#000" stroke-width="1"/>
<line x1="84.98" y1="173.18" x2="90.18" y2="173.18" stroke="#000" stroke-width="1"/>
<circle cx="74.35" cy="180.53" r="1.20" fill="#8410b4"/>
<circle cx="77.92" cy="177.98" r="1.20" fill="#8410b4"/>
<circle cx="77.50" cy="179.89" r="1.20" fill="#8410b4"/>
<circle cx="87.34" cy="180.65" r="1.20" fill="#8410b4"/>
<circle cx="87.88" cy="177.31" r="1.20" fill="#8410b4"/>
<circle cx="89.70" cy="178.38" r="1.20" fill="#8410b4"/>
<text x="86.53" y="203.20" font-size="9.3" font-weight="bold" font-style="italic" text-anchor="end" transform="rotate(-27 86.53 203.20)">Slc2a2</text>
<rect x="99.06" y="179.86" width="10.90" height="12.14" fill="#efc6f6" stroke="#000" stroke-width="1"/>
<rect x="110.46" y="146.35" width="10.90" height="45.65" fill="#b04fd8" stroke="#000" stroke-width="1"/>
<line x1="104.51" y1="179.86" x2="104.51" y2="177.43" stroke="#000" stroke-width="1"/>
<line x1="101.91" y1="177.43" x2="107.11" y2="177.43" stroke="#000" stroke-width="1"/>
<line x1="115.91" y1="146.35" x2="115.91" y2="140.89" stroke="#000" stroke-width="1"/>
<line x1="113.31" y1="140.89" x2="118.51" y2="140.89" stroke="#000" stroke-width="1"/>
<circle cx="106.79" cy="181.07" r="1.20" fill="#8410b4"/>
<circle cx="106.75" cy="178.65" r="1.20" fill="#8410b4"/>
<circle cx="102.29" cy="180.47" r="1.20" fill="#8410b4"/>
<circle cx="115.78" cy="153.20" r="1.20" fill="#8410b4"/>
<circle cx="116.70" cy="141.79" r="1.20" fill="#8410b4"/>
<circle cx="116.74" cy="145.44" r="1.20" fill="#8410b4"/>
<text x="114.86" y="203.20" font-size="9.3" font-weight="bold" font-style="italic" text-anchor="end" transform="rotate(-27 114.86 203.20)">Slc2a3</text>
<rect x="127.39" y="179.86" width="10.90" height="12.14" fill="#efc6f6" stroke="#000" stroke-width="1"/>
<rect x="138.79" y="182.90" width="10.90" height="9.10" fill="#b04fd8" stroke="#000" stroke-width="1"/>
<line x1="132.84" y1="179.86" x2="132.84" y2="179.37" stroke="#000" stroke-width="1"/>
<line x1="130.24" y1="179.37" x2="135.44" y2="179.37" stroke="#000" stroke-width="1"/>
<line x1="144.24" y1="182.90" x2="144.24" y2="182.41" stroke="#000" stroke-width="1"/>
<line x1="141.64" y1="182.41" x2="146.84" y2="182.41" stroke="#000" stroke-width="1"/>
<circle cx="131.53" cy="181.07" r="1.20" fill="#8410b4"/>
<circle cx="133.06" cy="178.65" r="1.20" fill="#8410b4"/>
<circle cx="132.19" cy="180.47" r="1.20" fill="#8410b4"/>
<circle cx="143.04" cy="184.26" r="1.20" fill="#8410b4"/>
<circle cx="145.17" cy="181.98" r="1.20" fill="#8410b4"/>
<circle cx="145.16" cy="182.71" r="1.20" fill="#8410b4"/>
<text x="143.19" y="203.20" font-size="9.3" font-weight="bold" font-style="italic" text-anchor="end" transform="rotate(-27 143.19 203.20)">Slc2a4</text>
<rect x="155.72" y="179.86" width="10.90" height="12.14" fill="#efc6f6" stroke="#000" stroke-width="1"/>
<rect x="167.12" y="189.57" width="10.90" height="2.43" fill="#b04fd8" stroke="#000" stroke-width="1"/>
<line x1="161.17" y1="179.86" x2="161.17" y2="176.46" stroke="#000" stroke-width="1"/>
<line x1="158.57" y1="176.46" x2="163.77" y2="176.46" stroke="#000" stroke-width="1"/>
<line x1="172.57" y1="189.57" x2="172.57" y2="189.09" stroke="#000" stroke-width="1"/>
<line x1="169.97" y1="189.09" x2="175.17" y2="189.09" stroke="#000" stroke-width="1"/>
<circle cx="159.85" cy="181.07" r="1.20" fill="#8410b4"/>
<circle cx="159.19" cy="178.65" r="1.20" fill="#8410b4"/>
<circle cx="160.65" cy="180.47" r="1.20" fill="#8410b4"/>
<circle cx="170.60" cy="189.94" r="1.20" fill="#8410b4"/>
<circle cx="173.58" cy="189.33" r="1.20" fill="#8410b4"/>
<circle cx="173.33" cy="189.52" r="1.20" fill="#8410b4"/>
<text x="171.52" y="203.20" font-size="9.3" font-weight="bold" font-style="italic" text-anchor="end" transform="rotate(-27 171.52 203.20)">Slc2a5</text>
<rect x="184.05" y="179.86" width="10.90" height="12.14" fill="#efc6f6" stroke="#000" stroke-width="1"/>
<rect x="195.45" y="184.11" width="10.90" height="7.89" fill="#b04fd8" stroke="#000" stroke-width="1"/>
<line x1="189.50" y1="179.86" x2="189.50" y2="177.43" stroke="#000" stroke-width="1"/>
<line x1="186.90" y1="177.43" x2="192.10" y2="177.43" stroke="#000" stroke-width="1"/>
<line x1="200.90" y1="184.11" x2="200.90" y2="183.38" stroke="#000" stroke-width="1"/>
<line x1="198.30" y1="183.38" x2="203.50" y2="183.38" stroke="#000" stroke-width="1"/>
<circle cx="190.11" cy="181.07" r="1.20" fill="#8410b4"/>
<circle cx="190.71" cy="178.65" r="1.20" fill="#8410b4"/>
<circle cx="190.98" cy="180.47" r="1.20" fill="#8410b4"/>
<circle cx="203.23" cy="185.29" r="1.20" fill="#8410b4"/>
<circle cx="198.46" cy="183.32" r="1.20" fill="#8410b4"/>
<circle cx="202.08" cy="183.95" r="1.20" fill="#8410b4"/>
<text x="199.85" y="203.20" font-size="9.3" font-weight="bold" font-style="italic" text-anchor="end" transform="rotate(-27 199.85 203.20)">Slc5a1</text>
<rect x="212.38" y="179.25" width="10.90" height="12.75" fill="#efc6f6" stroke="#000" stroke-width="1"/>
<rect x="223.78" y="178.89" width="10.90" height="13.11" fill="#b04fd8" stroke="#000" stroke-width="1"/>
<line x1="217.83" y1="179.25" x2="217.83" y2="175.00" stroke="#000" stroke-width="1"/>
<line x1="215.23" y1="175.00" x2="220.43" y2="175.00" stroke="#000" stroke-width="1"/>
<line x1="229.23" y1="178.89" x2="229.23" y2="178.28" stroke="#000" stroke-width="1"/>
<line x1="226.63" y1="178.28" x2="231.83" y2="178.28" stroke="#000" stroke-width="1"/>
<circle cx="219.30" cy="180.53" r="1.20" fill="#8410b4"/>
<circle cx="219.44" cy="177.98" r="1.20" fill="#8410b4"/>
<circle cx="217.76" cy="179.89" r="1.20" fill="#8410b4"/>
<circle cx="228.54" cy="180.86" r="1.20" fill="#8410b4"/>
<circle cx="229.13" cy="177.58" r="1.20" fill="#8410b4"/>
<circle cx="228.81" cy="178.63" r="1.20" fill="#8410b4"/>
<text x="228.18" y="203.20" font-size="9.3" font-weight="bold" font-style="italic" text-anchor="end" transform="rotate(-27 228.18 203.20)">Slc5a2</text>
<text x="40.40" y="136.80" font-size="8.6" fill="#222" textLength="33.10" lengthAdjust="spacingAndGlyphs"><tspan font-style="italic">p</tspan> = 0.0008</text>
<line x1="47.80" y1="139.30" x2="60.00" y2="139.30" stroke="#333" stroke-width="0.9"/>
<text x="68.40" y="166.00" font-size="8.6" fill="#222" textLength="33.80" lengthAdjust="spacingAndGlyphs"><tspan font-style="italic">p</tspan> = 0.8115</text>
<line x1="76.00" y1="168.20" x2="88.10" y2="168.20" stroke="#333" stroke-width="0.9"/>
<text x="96.40" y="133.10" font-size="8.6" fill="#222" textLength="33.60" lengthAdjust="spacingAndGlyphs"><tspan font-style="italic">p</tspan> = 0.0005</text>
<line x1="104.10" y1="135.30" x2="116.10" y2="135.30" stroke="#333" stroke-width="0.9"/>
<text x="124.90" y="171.80" font-size="8.6" fill="#222" textLength="33.20" lengthAdjust="spacingAndGlyphs"><tspan font-style="italic">p</tspan> = 0.0009</text>
<line x1="132.40" y1="174.30" x2="144.60" y2="174.30" stroke="#333" stroke-width="0.9"/>
<text x="153.50" y="161.10" font-size="8.6" fill="#222" textLength="33.10" lengthAdjust="spacingAndGlyphs"><tspan font-style="italic">p</tspan> = 0.0075</text>
<line x1="160.80" y1="164.00" x2="173.00" y2="164.00" stroke="#333" stroke-width="0.9"/>
<text x="183.20" y="171.00" font-size="8.6" fill="#222" textLength="29.70" lengthAdjust="spacingAndGlyphs"><tspan font-style="italic">p</tspan> = 0.016</text>
<line x1="189.10" y1="173.50" x2="201.20" y2="173.50" stroke="#333" stroke-width="0.9"/>
<text x="210.00" y="160.30" font-size="8.6" fill="#222" textLength="33.10" lengthAdjust="spacingAndGlyphs"><tspan font-style="italic">p</tspan> = 0.9164</text>
<line x1="217.70" y1="163.20" x2="229.70" y2="163.20" stroke="#333" stroke-width="0.9"/>
<rect x="168.20" y="131.80" width="61.60" height="14.20" fill="#fff" stroke="#000" stroke-width="0.9"/>
<rect x="172.20" y="136.20" width="5.20" height="5.20" fill="#efc6f6" stroke="#000" stroke-width="0.8"/>
<text x="180.60" y="142.00" font-size="9.0" font-weight="bold">Veh</text>
<rect x="204.20" y="136.20" width="5.20" height="5.20" fill="#b04fd8" stroke="#000" stroke-width="0.8"/>
<text x="211.20" y="142.00" font-size="9.0" font-weight="bold">NB</text>
<text x="287.30" y="127.30" font-size="16" font-weight="bold">d</text>
<line x1="325.60" y1="131.25" x2="325.60" y2="192.00" stroke="#000" stroke-width="1.0"/>
<line x1="323.30" y1="192.00" x2="361.90" y2="192.00" stroke="#000" stroke-width="1.3"/>
<line x1="323.00" y1="192.00" x2="325.60" y2="192.00" stroke="#000" stroke-width="1"/>
<text x="321.40" y="195.10" font-size="8.6" text-anchor="end" fill="#222">0</text>
<line x1="323.00" y1="171.75" x2="325.60" y2="171.75" stroke="#000" stroke-width="1"/>
<text x="321.40" y="174.85" font-size="8.6" text-anchor="end" fill="#222">5</text>
<line x1="323.00" y1="151.50" x2="325.60" y2="151.50" stroke="#000" stroke-width="1"/>
<text x="321.40" y="154.60" font-size="8.6" text-anchor="end" fill="#222">10</text>
<line x1="323.00" y1="131.25" x2="325.60" y2="131.25" stroke="#000" stroke-width="1"/>
<text x="321.40" y="134.35" font-size="8.6" text-anchor="end" fill="#222">15</text>
<rect x="331.30" y="179.04" width="11.30" height="12.96" fill="#efc6f6" stroke="#000" stroke-width="1"/>
<rect x="343.80" y="164.46" width="11.10" height="27.54" fill="#b04fd8" stroke="#000" stroke-width="1"/>
<line x1="336.95" y1="179.04" x2="336.95" y2="174.99" stroke="#000" stroke-width="1"/>
<line x1="334.15" y1="174.99" x2="339.75" y2="174.99" stroke="#000" stroke-width="1"/>
<circle cx="334.02" cy="179.51" r="1.10" fill="#8410b4"/>
<circle cx="339.73" cy="177.99" r="1.10" fill="#8410b4"/>
<circle cx="339.06" cy="172.82" r="1.10" fill="#8410b4"/>
<circle cx="334.99" cy="179.32" r="1.10" fill="#8410b4"/>
<circle cx="336.91" cy="178.73" r="1.10" fill="#8410b4"/>
<circle cx="336.55" cy="177.60" r="1.10" fill="#8410b4"/>
<circle cx="338.16" cy="183.31" r="1.10" fill="#8410b4"/>
<circle cx="339.26" cy="178.67" r="1.10" fill="#8410b4"/>
<circle cx="333.70" cy="177.00" r="1.10" fill="#8410b4"/>
<circle cx="333.18" cy="174.68" r="1.10" fill="#8410b4"/>
<circle cx="339.64" cy="184.59" r="1.10" fill="#8410b4"/>
<circle cx="336.41" cy="181.62" r="1.10" fill="#8410b4"/>
<circle cx="339.05" cy="184.64" r="1.10" fill="#8410b4"/>
<circle cx="332.97" cy="174.45" r="1.10" fill="#8410b4"/>
<line x1="349.35" y1="164.46" x2="349.35" y2="157.17" stroke="#000" stroke-width="1"/>
<line x1="346.55" y1="157.17" x2="352.15" y2="157.17" stroke="#000" stroke-width="1"/>
<circle cx="348.91" cy="156.92" r="1.10" fill="#8410b4"/>
<circle cx="351.12" cy="172.76" r="1.10" fill="#8410b4"/>
<circle cx="347.18" cy="149.91" r="1.10" fill="#8410b4"/>
<circle cx="352.91" cy="150.33" r="1.10" fill="#8410b4"/>
<circle cx="352.56" cy="157.88" r="1.10" fill="#8410b4"/>
<circle cx="345.59" cy="158.82" r="1.10" fill="#8410b4"/>
<circle cx="345.55" cy="169.95" r="1.10" fill="#8410b4"/>
<circle cx="349.68" cy="173.41" r="1.10" fill="#8410b4"/>
<circle cx="352.86" cy="160.94" r="1.10" fill="#8410b4"/>
<circle cx="348.40" cy="172.33" r="1.10" fill="#8410b4"/>
<circle cx="347.08" cy="169.15" r="1.10" fill="#8410b4"/>
<circle cx="348.73" cy="167.90" r="1.10" fill="#8410b4"/>
<text x="328.00" y="142.80" font-size="8.6" fill="#222" textLength="33.00" lengthAdjust="spacingAndGlyphs"><tspan font-style="italic">p</tspan> &lt; 0.0001</text>
<line x1="336.90" y1="145.60" x2="349.40" y2="145.60" stroke="#333" stroke-width="0.9"/>
<text x="334.55" y="203.10" font-size="9.2" font-weight="bold" text-anchor="middle">Veh</text>
<text x="351.25" y="203.10" font-size="9.2" font-weight="bold" text-anchor="middle">NB</text>
<text x="310.00" y="162.80" font-size="8.5" font-weight="bold" text-anchor="middle" transform="rotate(-90 310.00 162.80)">F4/80<tspan font-size="5.2" dy="-3">+</tspan><tspan dy="3"> cells / Field (%)</tspan></text>
<line x1="403.80" y1="131.60" x2="403.80" y2="192.00" stroke="#000" stroke-width="1.0"/>
<line x1="401.50" y1="192.00" x2="440.80" y2="192.00" stroke="#000" stroke-width="1.3"/>
<line x1="401.20" y1="192.00" x2="403.80" y2="192.00" stroke="#000" stroke-width="1"/>
<text x="399.60" y="195.10" font-size="8.6" text-anchor="end" fill="#222">0</text>
<line x1="401.20" y1="171.87" x2="403.80" y2="171.87" stroke="#000" stroke-width="1"/>
<text x="399.60" y="174.96" font-size="8.6" text-anchor="end" fill="#222">10</text>
<line x1="401.20" y1="151.73" x2="403.80" y2="151.73" stroke="#000" stroke-width="1"/>
<text x="399.60" y="154.83" font-size="8.6" text-anchor="end" fill="#222">20</text>
<line x1="401.20" y1="131.60" x2="403.80" y2="131.60" stroke="#000" stroke-width="1"/>
<text x="399.60" y="134.70" font-size="8.6" text-anchor="end" fill="#222">30</text>
<rect x="410.30" y="172.87" width="10.90" height="19.13" fill="#efc6f6" stroke="#000" stroke-width="1"/>
<rect x="422.30" y="154.15" width="11.10" height="37.85" fill="#b04fd8" stroke="#000" stroke-width="1"/>
<line x1="415.75" y1="172.87" x2="415.75" y2="156.16" stroke="#000" stroke-width="1"/>
<line x1="412.95" y1="156.16" x2="418.55" y2="156.16" stroke="#000" stroke-width="1"/>
<circle cx="419.40" cy="192.00" r="1.10" fill="#8410b4"/>
<circle cx="419.33" cy="192.00" r="1.10" fill="#8410b4"/>
<circle cx="412.20" cy="192.00" r="1.10" fill="#8410b4"/>
<circle cx="412.43" cy="187.97" r="1.10" fill="#8410b4"/>
<circle cx="418.43" cy="181.93" r="1.10" fill="#8410b4"/>
<circle cx="417.64" cy="175.89" r="1.10" fill="#8410b4"/>
<circle cx="417.11" cy="171.87" r="1.10" fill="#8410b4"/>
<circle cx="414.22" cy="165.83" r="1.10" fill="#8410b4"/>
<circle cx="416.60" cy="155.76" r="1.10" fill="#8410b4"/>
<circle cx="416.60" cy="151.73" r="1.10" fill="#8410b4"/>
<circle cx="416.40" cy="137.64" r="1.10" fill="#8410b4"/>
<circle cx="413.02" cy="133.61" r="1.10" fill="#8410b4"/>
<line x1="427.85" y1="154.15" x2="427.85" y2="144.08" stroke="#000" stroke-width="1"/>
<line x1="425.05" y1="144.08" x2="430.65" y2="144.08" stroke="#000" stroke-width="1"/>
<circle cx="427.30" cy="166.81" r="1.10" fill="#8410b4"/>
<circle cx="427.00" cy="151.96" r="1.10" fill="#8410b4"/>
<circle cx="429.63" cy="152.76" r="1.10" fill="#8410b4"/>
<circle cx="431.81" cy="139.01" r="1.10" fill="#8410b4"/>
<circle cx="431.45" cy="150.07" r="1.10" fill="#8410b4"/>
<circle cx="428.20" cy="145.92" r="1.10" fill="#8410b4"/>
<circle cx="427.41" cy="150.73" r="1.10" fill="#8410b4"/>
<circle cx="426.00" cy="145.17" r="1.10" fill="#8410b4"/>
<circle cx="424.14" cy="152.19" r="1.10" fill="#8410b4"/>
<circle cx="424.07" cy="158.32" r="1.10" fill="#8410b4"/>
<circle cx="427.57" cy="133.69" r="1.10" fill="#8410b4"/>
<circle cx="426.40" cy="133.76" r="1.10" fill="#8410b4"/>
<circle cx="426.89" cy="139.08" r="1.10" fill="#8410b4"/>
<text x="407.50" y="129.70" font-size="8.6" fill="#222" textLength="33.60" lengthAdjust="spacingAndGlyphs"><tspan font-style="italic">p</tspan> = 0.0005</text>
<line x1="415.70" y1="132.20" x2="427.80" y2="132.20" stroke="#333" stroke-width="0.9"/>
<text x="413.35" y="203.10" font-size="9.2" font-weight="bold" text-anchor="middle">Veh</text>
<text x="429.75" y="203.10" font-size="9.2" font-weight="bold" text-anchor="middle">NB</text>
<text x="376.00" y="162.80" font-size="8.5" font-weight="bold" text-anchor="middle" transform="rotate(-90 376.00 162.80)">GLUT1<tspan font-size="5.2" dy="-3">high</tspan><tspan dy="3">F4/80</tspan><tspan font-size="5.2" dy="-3">+</tspan></text>
<text x="385.20" y="162.60" font-size="8.5" font-weight="bold" text-anchor="middle" transform="rotate(-90 385.20 162.60)">cells / Field (%)</text>
<line x1="483.80" y1="131.60" x2="483.80" y2="192.00" stroke="#000" stroke-width="1.0"/>
<line x1="481.50" y1="192.00" x2="520.40" y2="192.00" stroke="#000" stroke-width="1.3"/>
<line x1="481.20" y1="192.00" x2="483.80" y2="192.00" stroke="#000" stroke-width="1"/>
<text x="479.60" y="195.10" font-size="8.6" text-anchor="end" fill="#222">0</text>
<line x1="481.20" y1="176.90" x2="483.80" y2="176.90" stroke="#000" stroke-width="1"/>
<text x="479.60" y="180.00" font-size="8.6" text-anchor="end" fill="#222">10</text>
<line x1="481.20" y1="161.80" x2="483.80" y2="161.80" stroke="#000" stroke-width="1"/>
<text x="479.60" y="164.90" font-size="8.6" text-anchor="end" fill="#222">20</text>
<line x1="481.20" y1="146.70" x2="483.80" y2="146.70" stroke="#000" stroke-width="1"/>
<text x="479.60" y="149.80" font-size="8.6" text-anchor="end" fill="#222">30</text>
<line x1="481.20" y1="131.60" x2="483.80" y2="131.60" stroke="#000" stroke-width="1"/>
<text x="479.60" y="134.70" font-size="8.6" text-anchor="end" fill="#222">40</text>
<rect x="489.80" y="171.31" width="11.30" height="20.69" fill="#efc6f6" stroke="#000" stroke-width="1"/>
<rect x="502.30" y="172.67" width="11.10" height="19.33" fill="#b04fd8" stroke="#000" stroke-width="1"/>
<line x1="495.45" y1="171.31" x2="495.45" y2="155.16" stroke="#000" stroke-width="1"/>
<line x1="492.65" y1="155.16" x2="498.25" y2="155.16" stroke="#000" stroke-width="1"/>
<circle cx="493.35" cy="187.47" r="1.10" fill="#8410b4"/>
<circle cx="495.80" cy="185.96" r="1.10" fill="#8410b4"/>
<circle cx="494.41" cy="182.94" r="1.10" fill="#8410b4"/>
<circle cx="496.28" cy="178.41" r="1.10" fill="#8410b4"/>
<circle cx="496.46" cy="176.90" r="1.10" fill="#8410b4"/>
<circle cx="491.97" cy="173.88" r="1.10" fill="#8410b4"/>
<circle cx="491.56" cy="164.82" r="1.10" fill="#8410b4"/>
<circle cx="498.15" cy="161.80" r="1.10" fill="#8410b4"/>
<circle cx="493.52" cy="160.29" r="1.10" fill="#8410b4"/>
<circle cx="493.32" cy="157.27" r="1.10" fill="#8410b4"/>
<circle cx="499.42" cy="137.64" r="1.10" fill="#8410b4"/>
<circle cx="495.21" cy="139.15" r="1.10" fill="#8410b4"/>
<line x1="507.85" y1="172.67" x2="507.85" y2="157.42" stroke="#000" stroke-width="1"/>
<line x1="505.05" y1="157.42" x2="510.65" y2="157.42" stroke="#000" stroke-width="1"/>
<circle cx="510.54" cy="188.98" r="1.10" fill="#8410b4"/>
<circle cx="507.66" cy="187.47" r="1.10" fill="#8410b4"/>
<circle cx="508.96" cy="184.45" r="1.10" fill="#8410b4"/>
<circle cx="505.05" cy="179.92" r="1.10" fill="#8410b4"/>
<circle cx="508.93" cy="178.41" r="1.10" fill="#8410b4"/>
<circle cx="510.79" cy="176.90" r="1.10" fill="#8410b4"/>
<circle cx="508.04" cy="175.39" r="1.10" fill="#8410b4"/>
<circle cx="509.78" cy="173.88" r="1.10" fill="#8410b4"/>
<circle cx="509.22" cy="170.86" r="1.10" fill="#8410b4"/>
<circle cx="504.36" cy="169.35" r="1.10" fill="#8410b4"/>
<circle cx="509.92" cy="149.72" r="1.10" fill="#8410b4"/>
<circle cx="508.58" cy="145.19" r="1.10" fill="#8410b4"/>
<circle cx="506.26" cy="140.66" r="1.10" fill="#8410b4"/>
<text x="487.00" y="131.60" font-size="8.6" fill="#222" textLength="33.40" lengthAdjust="spacingAndGlyphs"><tspan font-style="italic">p</tspan> = 0.8792</text>
<line x1="495.40" y1="134.40" x2="507.80" y2="134.40" stroke="#333" stroke-width="0.9"/>
<text x="493.05" y="203.10" font-size="9.2" font-weight="bold" text-anchor="middle">Veh</text>
<text x="509.75" y="203.10" font-size="9.2" font-weight="bold" text-anchor="middle">NB</text>
<text x="455.80" y="162.80" font-size="8.5" font-weight="bold" text-anchor="middle" transform="rotate(-90 455.80 162.80)">GLUT1<tspan font-size="5.2" dy="-3">high</tspan><tspan dy="3">F4/80</tspan><tspan font-size="5.2" dy="-3">-</tspan></text>
<text x="465.50" y="162.60" font-size="8.5" font-weight="bold" text-anchor="middle" transform="rotate(-90 465.50 162.60)">cells / Field (%)</text>
<line x1="563.10" y1="131.60" x2="563.10" y2="192.00" stroke="#000" stroke-width="1.0"/>
<line x1="560.80" y1="192.00" x2="599.90" y2="192.00" stroke="#000" stroke-width="1.3"/>
<line x1="560.50" y1="192.00" x2="563.10" y2="192.00" stroke="#000" stroke-width="1"/>
<text x="558.90" y="195.10" font-size="8.6" text-anchor="end" fill="#222">0</text>
<line x1="560.50" y1="176.90" x2="563.10" y2="176.90" stroke="#000" stroke-width="1"/>
<text x="558.90" y="180.00" font-size="8.6" text-anchor="end" fill="#222">10</text>
<line x1="560.50" y1="161.80" x2="563.10" y2="161.80" stroke="#000" stroke-width="1"/>
<text x="558.90" y="164.90" font-size="8.6" text-anchor="end" fill="#222">20</text>
<line x1="560.50" y1="146.70" x2="563.10" y2="146.70" stroke="#000" stroke-width="1"/>
<text x="558.90" y="149.80" font-size="8.6" text-anchor="end" fill="#222">30</text>
<line x1="560.50" y1="131.60" x2="563.10" y2="131.60" stroke="#000" stroke-width="1"/>
<text x="558.90" y="134.70" font-size="8.6" text-anchor="end" fill="#222">40</text>
<rect x="569.40" y="176.30" width="10.80" height="15.70" fill="#efc6f6" stroke="#000" stroke-width="1"/>
<rect x="581.70" y="162.40" width="11.30" height="29.60" fill="#b04fd8" stroke="#000" stroke-width="1"/>
<line x1="574.80" y1="176.30" x2="574.80" y2="167.24" stroke="#000" stroke-width="1"/>
<line x1="572.00" y1="167.24" x2="577.60" y2="167.24" stroke="#000" stroke-width="1"/>
<circle cx="572.69" cy="192.00" r="1.10" fill="#8410b4"/>
<circle cx="571.63" cy="192.00" r="1.10" fill="#8410b4"/>
<circle cx="573.97" cy="182.94" r="1.10" fill="#8410b4"/>
<circle cx="572.04" cy="179.92" r="1.10" fill="#8410b4"/>
<circle cx="571.33" cy="176.90" r="1.10" fill="#8410b4"/>
<circle cx="574.01" cy="175.39" r="1.10" fill="#8410b4"/>
<circle cx="578.14" cy="173.88" r="1.10" fill="#8410b4"/>
<circle cx="577.20" cy="172.37" r="1.10" fill="#8410b4"/>
<circle cx="576.92" cy="169.35" r="1.10" fill="#8410b4"/>
<circle cx="572.58" cy="164.82" r="1.10" fill="#8410b4"/>
<circle cx="575.09" cy="161.80" r="1.10" fill="#8410b4"/>
<line x1="587.35" y1="162.40" x2="587.35" y2="150.17" stroke="#000" stroke-width="1"/>
<line x1="584.55" y1="150.17" x2="590.15" y2="150.17" stroke="#000" stroke-width="1"/>
<circle cx="585.56" cy="178.41" r="1.10" fill="#8410b4"/>
<circle cx="584.73" cy="175.39" r="1.10" fill="#8410b4"/>
<circle cx="584.20" cy="169.35" r="1.10" fill="#8410b4"/>
<circle cx="585.07" cy="166.33" r="1.10" fill="#8410b4"/>
<circle cx="590.77" cy="161.80" r="1.10" fill="#8410b4"/>
<circle cx="589.98" cy="157.27" r="1.10" fill="#8410b4"/>
<circle cx="589.80" cy="154.25" r="1.10" fill="#8410b4"/>
<circle cx="589.75" cy="152.74" r="1.10" fill="#8410b4"/>
<circle cx="584.90" cy="149.72" r="1.10" fill="#8410b4"/>
<circle cx="585.83" cy="143.68" r="1.10" fill="#8410b4"/>
<circle cx="588.37" cy="134.62" r="1.10" fill="#8410b4"/>
<text x="566.30" y="128.80" font-size="8.6" fill="#222" textLength="33.10" lengthAdjust="spacingAndGlyphs"><tspan font-style="italic">p</tspan> = 0.0011</text>
<line x1="574.80" y1="131.80" x2="587.30" y2="131.80" stroke="#333" stroke-width="0.9"/>
<text x="572.40" y="203.10" font-size="9.2" font-weight="bold" text-anchor="middle">Veh</text>
<text x="589.25" y="203.10" font-size="9.2" font-weight="bold" text-anchor="middle">NB</text>
<text x="535.50" y="162.80" font-size="8.5" font-weight="bold" text-anchor="middle" transform="rotate(-90 535.50 162.80)">GLUT3<tspan font-size="5.2" dy="-3">high</tspan><tspan dy="3">F4/80</tspan><tspan font-size="5.2" dy="-3">+</tspan></text>
<text x="545.00" y="162.60" font-size="8.5" font-weight="bold" text-anchor="middle" transform="rotate(-90 545.00 162.60)">cells / Field (%)</text>
<line x1="641.50" y1="131.60" x2="641.50" y2="192.00" stroke="#000" stroke-width="1.0"/>
<line x1="639.20" y1="192.00" x2="678.80" y2="192.00" stroke="#000" stroke-width="1.3"/>
<line x1="638.90" y1="192.00" x2="641.50" y2="192.00" stroke="#000" stroke-width="1"/>
<text x="637.30" y="195.10" font-size="8.6" text-anchor="end" fill="#222">0</text>
<line x1="638.90" y1="179.92" x2="641.50" y2="179.92" stroke="#000" stroke-width="1"/>
<text x="637.30" y="183.02" font-size="8.6" text-anchor="end" fill="#222">10</text>
<line x1="638.90" y1="167.84" x2="641.50" y2="167.84" stroke="#000" stroke-width="1"/>
<text x="637.30" y="170.94" font-size="8.6" text-anchor="end" fill="#222">20</text>
<line x1="638.90" y1="155.76" x2="641.50" y2="155.76" stroke="#000" stroke-width="1"/>
<text x="637.30" y="158.86" font-size="8.6" text-anchor="end" fill="#222">30</text>
<line x1="638.90" y1="143.68" x2="641.50" y2="143.68" stroke="#000" stroke-width="1"/>
<text x="637.30" y="146.78" font-size="8.6" text-anchor="end" fill="#222">40</text>
<line x1="638.90" y1="131.60" x2="641.50" y2="131.60" stroke="#000" stroke-width="1"/>
<text x="637.30" y="134.70" font-size="8.6" text-anchor="end" fill="#222">50</text>
<rect x="647.80" y="172.55" width="11.10" height="19.45" fill="#efc6f6" stroke="#000" stroke-width="1"/>
<rect x="660.30" y="172.91" width="11.10" height="19.09" fill="#b04fd8" stroke="#000" stroke-width="1"/>
<line x1="653.35" y1="172.55" x2="653.35" y2="158.06" stroke="#000" stroke-width="1"/>
<line x1="650.55" y1="158.06" x2="656.15" y2="158.06" stroke="#000" stroke-width="1"/>
<circle cx="654.33" cy="190.79" r="1.10" fill="#8410b4"/>
<circle cx="655.28" cy="188.38" r="1.10" fill="#8410b4"/>
<circle cx="655.71" cy="184.75" r="1.10" fill="#8410b4"/>
<circle cx="656.89" cy="182.34" r="1.10" fill="#8410b4"/>
<circle cx="655.27" cy="178.71" r="1.10" fill="#8410b4"/>
<circle cx="656.73" cy="176.30" r="1.10" fill="#8410b4"/>
<circle cx="649.58" cy="171.46" r="1.10" fill="#8410b4"/>
<circle cx="653.07" cy="167.84" r="1.10" fill="#8410b4"/>
<circle cx="656.90" cy="160.59" r="1.10" fill="#8410b4"/>
<circle cx="654.54" cy="158.18" r="1.10" fill="#8410b4"/>
<circle cx="656.56" cy="150.93" r="1.10" fill="#8410b4"/>
<circle cx="650.26" cy="143.68" r="1.10" fill="#8410b4"/>
<line x1="665.85" y1="172.91" x2="665.85" y2="157.57" stroke="#000" stroke-width="1"/>
<line x1="663.05" y1="157.57" x2="668.65" y2="157.57" stroke="#000" stroke-width="1"/>
<circle cx="665.60" cy="188.38" r="1.10" fill="#8410b4"/>
<circle cx="663.82" cy="187.17" r="1.10" fill="#8410b4"/>
<circle cx="666.20" cy="185.96" r="1.10" fill="#8410b4"/>
<circle cx="666.44" cy="177.50" r="1.10" fill="#8410b4"/>
<circle cx="661.95" cy="175.09" r="1.10" fill="#8410b4"/>
<circle cx="663.58" cy="169.05" r="1.10" fill="#8410b4"/>
<circle cx="664.09" cy="161.80" r="1.10" fill="#8410b4"/>
<circle cx="669.18" cy="160.59" r="1.10" fill="#8410b4"/>
<circle cx="667.98" cy="161.80" r="1.10" fill="#8410b4"/>
<circle cx="663.13" cy="137.64" r="1.10" fill="#8410b4"/>
<text x="645.00" y="128.80" font-size="8.6" fill="#222" textLength="33.60" lengthAdjust="spacingAndGlyphs"><tspan font-style="italic">p</tspan> = 0.9349</text>
<line x1="653.30" y1="131.30" x2="665.80" y2="131.30" stroke="#333" stroke-width="0.9"/>
<text x="650.95" y="203.10" font-size="9.2" font-weight="bold" text-anchor="middle">Veh</text>
<text x="667.75" y="203.10" font-size="9.2" font-weight="bold" text-anchor="middle">NB</text>
<text x="614.50" y="162.80" font-size="8.5" font-weight="bold" text-anchor="middle" transform="rotate(-90 614.50 162.80)">GLUT3<tspan font-size="5.2" dy="-3">high</tspan><tspan dy="3">F4/80</tspan><tspan font-size="5.2" dy="-3">-</tspan></text>
<text x="624.00" y="162.60" font-size="8.5" font-weight="bold" text-anchor="middle" transform="rotate(-90 624.00 162.60)">cells / Field (%)</text>
<text x="4.30" y="263.20" font-size="16" font-weight="bold">e</text>
<text x="39.80" y="257.00" font-size="9" fill="#111">Glucose</text>
<text x="70.00" y="284.60" font-size="9" fill="#111">Dihydroxyacetone</text>
<text x="70.00" y="295.40" font-size="9" fill="#111">phosphate (DHAP)</text>
<text x="8.20" y="316.90" font-size="9" fill="#111">3-Phosphoglycerate (3PG)</text>
<text x="3.40" y="332.70" font-size="9" fill="#111">Phosphoenolpyruvate (PEP)</text>
<text x="67.70" y="349.00" font-size="9" fill="#111">Lactate</text>
<text x="34.40" y="360.20" font-size="9" fill="#111">Acetyl-CoA</text>
<text x="69.60" y="373.00" font-size="9" fill="#111">Citrate</text>
<text x="23.80" y="381.20" font-size="9" fill="#111">Malate</text>
<text x="15.80" y="408.40" font-size="9" fill="#111">Succinate</text>
<text x="53.80" y="387.80" font-size="9" font-style="italic" fill="#1a1aee" textLength="16.60" lengthAdjust="spacingAndGlyphs">TCA</text>
<text x="51.60" y="396.80" font-size="9" font-style="italic" fill="#1a1aee">cycle</text>
<text x="52.00" y="281.20" font-size="9" font-style="italic" text-anchor="middle" fill="#cc22cc" transform="rotate(-90 52.00 281.20)">Glycolysis</text>
<line x1="57.20" y1="259.00" x2="57.20" y2="262.50" stroke="#222" stroke-width="0.8"/>
<path d="M57.20 264.00 L55.99 261.80 L58.41 261.80 Z" fill="#222"/>
<line x1="57.20" y1="265.50" x2="57.20" y2="269.00" stroke="#222" stroke-width="0.8"/>
<path d="M57.20 270.50 L55.99 268.30 L58.41 268.30 Z" fill="#222"/>
<line x1="57.20" y1="272.00" x2="57.20" y2="275.50" stroke="#222" stroke-width="0.8"/>
<path d="M57.20 277.00 L55.99 274.80 L58.41 274.80 Z" fill="#222"/>
<line x1="57.20" y1="279.00" x2="57.20" y2="281.50" stroke="#222" stroke-width="0.8"/>
<path d="M57.20 283.00 L55.99 280.80 L58.41 280.80 Z" fill="#222"/>
<line x1="57.20" y1="285.00" x2="57.20" y2="288.50" stroke="#222" stroke-width="0.8"/>
<path d="M57.20 290.00 L55.99 287.80 L58.41 287.80 Z" fill="#222"/>
<line x1="57.20" y1="291.50" x2="57.20" y2="294.50" stroke="#222" stroke-width="0.8"/>
<path d="M57.20 296.00 L55.99 293.80 L58.41 293.80 Z" fill="#222"/>
<line x1="57.20" y1="298.00" x2="57.20" y2="301.00" stroke="#222" stroke-width="0.8"/>
<path d="M57.20 302.50 L55.99 300.30 L58.41 300.30 Z" fill="#222"/>
<line x1="57.20" y1="304.00" x2="57.20" y2="306.00" stroke="#222" stroke-width="0.8"/>
<path d="M57.20 307.50 L55.99 305.30 L58.41 305.30 Z" fill="#222"/>
<line x1="59.50" y1="276.50" x2="63.50" y2="279.50" stroke="#222" stroke-width="0.8"/>
<path d="M63.50 279.50 L61.01 279.15 L62.47 277.21 Z" fill="#222"/>
<line x1="63.00" y1="276.50" x2="67.00" y2="279.50" stroke="#222" stroke-width="0.8"/>
<path d="M67.00 279.50 L64.51 279.15 L65.97 277.21 Z" fill="#222"/>
<line x1="63.50" y1="289.00" x2="59.50" y2="292.00" stroke="#222" stroke-width="0.8"/>
<path d="M59.50 292.00 L60.53 289.71 L61.99 291.65 Z" fill="#222"/>
<line x1="67.00" y1="288.50" x2="63.00" y2="291.50" stroke="#222" stroke-width="0.8"/>
<path d="M63.00 291.50 L64.03 289.21 L65.49 291.15 Z" fill="#222"/>
<line x1="57.20" y1="319.00" x2="57.20" y2="324.50" stroke="#222" stroke-width="0.8"/>
<path d="M57.20 326.50 L55.99 324.30 L58.41 324.30 Z" fill="#222"/>
<line x1="56.80" y1="335.50" x2="56.80" y2="348.00" stroke="#222" stroke-width="0.8"/>
<path d="M56.80 350.50 L55.48 348.10 L58.12 348.10 Z" fill="#222"/>
<path d="M56.8 341 C57.5 345 60 346.8 63.5 347" fill="none" stroke="#222" stroke-width="0.8"/>
<path d="M65.80 347.10 L63.29 348.21 L63.52 345.58 Z" fill="#222"/>
<path d="M57.4 361 C58.5 365 62 366.5 66.5 367" fill="none" stroke="#222" stroke-width="0.8"/>
<path d="M69.20 367.60 L66.54 368.25 L67.22 365.70 Z" fill="#222"/>
<path d="M78.63 372.11 A24.0 24.0 0 0 1 86.84 386.33" fill="none" stroke="#222" stroke-width="0.8"/>
<path d="M86.84 386.33 L85.49 384.08 L88.02 383.99 Z" fill="#222"/>
<path d="M87.11 388.41 A24.0 24.0 0 0 1 81.59 405.93" fill="none" stroke="#222" stroke-width="0.8"/>
<path d="M81.59 405.93 L82.45 403.45 L84.14 405.33 Z" fill="#222"/>
<path d="M80.17 407.47 A24.0 24.0 0 0 1 61.11 414.41" fill="none" stroke="#222" stroke-width="0.8"/>
<path d="M61.11 414.41 L63.63 413.69 L63.06 416.16 Z" fill="#222"/>
<path d="M56.99 413.68 A24.0 24.0 0 0 1 49.43 410.16" fill="none" stroke="#222" stroke-width="0.8"/>
<path d="M42.42 378.50 A24.0 24.0 0 0 1 53.06 368.75" fill="none" stroke="#222" stroke-width="0.8"/>
<path d="M53.06 368.75 L51.23 370.63 L50.49 368.21 Z" fill="#222"/>
<path d="M53.5 366.6 C58 365.8 62 365.8 66 366.6" fill="none" stroke="#222" stroke-width="0.8"/>
<line x1="37.70" y1="397.50" x2="37.70" y2="386.50" stroke="#222" stroke-width="0.8"/>
<path d="M37.70 384.50 L38.97 386.80 L36.44 386.80 Z" fill="#222"/>
<path d="M37.70 399.50 L36.44 397.20 L38.97 397.20 Z" fill="#222"/>
<text x="164.00" y="263.60" font-size="16" font-weight="bold">f</text>
<rect x="279.80" y="254.60" width="61.50" height="13.80" fill="#fff" stroke="#000" stroke-width="0.9"/>
<rect x="284.00" y="258.70" width="5.40" height="5.40" fill="#efc6f6" stroke="#000" stroke-width="0.8"/>
<text x="291.50" y="264.80" font-size="9" font-weight="bold">Veh</text>
<rect x="315.50" y="258.70" width="5.40" height="5.40" fill="#b04fd8" stroke="#000" stroke-width="0.8"/>
<text x="322.80" y="264.80" font-size="9" font-weight="bold">NB</text>
<text x="268.00" y="282.80" font-size="9" font-weight="bold" text-anchor="middle">Glycolysis</text>
<text x="384.00" y="282.80" font-size="9" font-weight="bold" text-anchor="middle">TCA cycle</text>
<line x1="197.00" y1="286.20" x2="346.00" y2="286.20" stroke="#ef90e9" stroke-width="1.4"/>
<line x1="349.40" y1="286.20" x2="418.80" y2="286.20" stroke="#8db0f5" stroke-width="1.4"/>
<line x1="196.00" y1="293.60" x2="196.00" y2="367.20" stroke="#000" stroke-width="1.0"/>
<line x1="194.00" y1="367.20" x2="426.00" y2="367.20" stroke="#000" stroke-width="1.3"/>
<line x1="193.80" y1="367.20" x2="196.00" y2="367.20" stroke="#000" stroke-width="1"/>
<text x="192.50" y="370.30" font-size="8.6" text-anchor="end" fill="#222">0</text>
<line x1="193.80" y1="342.67" x2="196.00" y2="342.67" stroke="#000" stroke-width="1"/>
<text x="192.50" y="345.77" font-size="8.6" text-anchor="end" fill="#222">1</text>
<line x1="193.80" y1="318.14" x2="196.00" y2="318.14" stroke="#000" stroke-width="1"/>
<text x="192.50" y="321.24" font-size="8.6" text-anchor="end" fill="#222">2</text>
<line x1="193.80" y1="293.61" x2="196.00" y2="293.61" stroke="#000" stroke-width="1"/>
<text x="192.50" y="296.71" font-size="8.6" text-anchor="end" fill="#222">3</text>
<text x="171.00" y="331.00" font-size="9" font-weight="bold" text-anchor="middle" transform="rotate(-90 171.00 331.00)">Relative intensity</text>
<text x="180.60" y="331.00" font-size="9" font-weight="bold" text-anchor="middle" transform="rotate(-90 180.60 331.00)">(Fold)</text>
<rect x="201.20" y="342.67" width="9.40" height="24.53" fill="#efc6f6" stroke="#000" stroke-width="1"/>
<rect x="211.30" y="350.76" width="9.40" height="16.44" fill="#b04fd8" stroke="#000" stroke-width="1"/>
<line x1="205.90" y1="342.67" x2="205.90" y2="334.58" stroke="#000" stroke-width="1"/>
<line x1="203.50" y1="334.58" x2="208.30" y2="334.58" stroke="#000" stroke-width="1"/>
<line x1="216.00" y1="350.76" x2="216.00" y2="345.37" stroke="#000" stroke-width="1"/>
<line x1="213.60" y1="345.37" x2="218.40" y2="345.37" stroke="#000" stroke-width="1"/>
<circle cx="203.81" cy="346.38" r="1.15" fill="#8410b4"/>
<circle cx="203.33" cy="339.49" r="1.15" fill="#8410b4"/>
<circle cx="205.09" cy="341.91" r="1.15" fill="#8410b4"/>
<circle cx="205.94" cy="351.97" r="1.15" fill="#8410b4"/>
<circle cx="205.50" cy="352.40" r="1.15" fill="#8410b4"/>
<circle cx="213.54" cy="356.80" r="1.15" fill="#8410b4"/>
<circle cx="217.96" cy="351.82" r="1.15" fill="#8410b4"/>
<circle cx="214.34" cy="356.04" r="1.15" fill="#8410b4"/>
<circle cx="218.69" cy="348.98" r="1.15" fill="#8410b4"/>
<circle cx="215.38" cy="349.68" r="1.15" fill="#8410b4"/>
<text x="215.30" y="375.80" font-size="9.2" font-weight="bold" text-anchor="end" transform="rotate(-30 215.30 375.80)">Glucose</text>
<rect x="226.06" y="342.67" width="9.40" height="24.53" fill="#efc6f6" stroke="#000" stroke-width="1"/>
<rect x="236.16" y="338.50" width="9.40" height="28.70" fill="#b04fd8" stroke="#000" stroke-width="1"/>
<line x1="230.76" y1="342.67" x2="230.76" y2="327.95" stroke="#000" stroke-width="1"/>
<line x1="228.36" y1="327.95" x2="233.16" y2="327.95" stroke="#000" stroke-width="1"/>
<line x1="240.86" y1="338.50" x2="240.86" y2="321.82" stroke="#000" stroke-width="1"/>
<line x1="238.46" y1="321.82" x2="243.26" y2="321.82" stroke="#000" stroke-width="1"/>
<circle cx="228.04" cy="324.45" r="1.15" fill="#8410b4"/>
<circle cx="229.50" cy="328.95" r="1.15" fill="#8410b4"/>
<circle cx="228.47" cy="356.28" r="1.15" fill="#8410b4"/>
<circle cx="232.66" cy="350.00" r="1.15" fill="#8410b4"/>
<circle cx="231.25" cy="354.89" r="1.15" fill="#8410b4"/>
<circle cx="240.09" cy="332.48" r="1.15" fill="#8410b4"/>
<circle cx="238.24" cy="336.43" r="1.15" fill="#8410b4"/>
<circle cx="239.10" cy="357.60" r="1.15" fill="#8410b4"/>
<circle cx="240.43" cy="330.68" r="1.15" fill="#8410b4"/>
<circle cx="241.37" cy="346.56" r="1.15" fill="#8410b4"/>
<text x="240.16" y="375.80" font-size="9.2" font-weight="bold" text-anchor="end" transform="rotate(-30 240.16 375.80)">DHAP</text>
<rect x="250.92" y="342.67" width="9.40" height="24.53" fill="#efc6f6" stroke="#000" stroke-width="1"/>
<rect x="261.02" y="338.99" width="9.40" height="28.21" fill="#b04fd8" stroke="#000" stroke-width="1"/>
<line x1="255.62" y1="342.67" x2="255.62" y2="334.08" stroke="#000" stroke-width="1"/>
<line x1="253.22" y1="334.08" x2="258.02" y2="334.08" stroke="#000" stroke-width="1"/>
<line x1="265.72" y1="338.99" x2="265.72" y2="331.63" stroke="#000" stroke-width="1"/>
<line x1="263.32" y1="331.63" x2="268.12" y2="331.63" stroke="#000" stroke-width="1"/>
<circle cx="254.42" cy="343.72" r="1.15" fill="#8410b4"/>
<circle cx="256.81" cy="336.10" r="1.15" fill="#8410b4"/>
<circle cx="256.07" cy="348.38" r="1.15" fill="#8410b4"/>
<circle cx="257.87" cy="342.11" r="1.15" fill="#8410b4"/>
<circle cx="254.35" cy="337.55" r="1.15" fill="#8410b4"/>
<circle cx="263.43" cy="329.80" r="1.15" fill="#8410b4"/>
<circle cx="267.26" cy="340.56" r="1.15" fill="#8410b4"/>
<circle cx="265.65" cy="345.65" r="1.15" fill="#8410b4"/>
<circle cx="266.73" cy="347.81" r="1.15" fill="#8410b4"/>
<circle cx="266.16" cy="333.93" r="1.15" fill="#8410b4"/>
<text x="265.02" y="375.80" font-size="9.2" font-weight="bold" text-anchor="end" transform="rotate(-30 265.02 375.80)">3PG</text>
<rect x="275.78" y="342.67" width="9.40" height="24.53" fill="#efc6f6" stroke="#000" stroke-width="1"/>
<rect x="285.88" y="325.50" width="9.40" height="41.70" fill="#b04fd8" stroke="#000" stroke-width="1"/>
<line x1="280.48" y1="342.67" x2="280.48" y2="331.63" stroke="#000" stroke-width="1"/>
<line x1="278.08" y1="331.63" x2="282.88" y2="331.63" stroke="#000" stroke-width="1"/>
<line x1="290.58" y1="325.50" x2="290.58" y2="308.33" stroke="#000" stroke-width="1"/>
<line x1="288.18" y1="308.33" x2="292.98" y2="308.33" stroke="#000" stroke-width="1"/>
<circle cx="279.36" cy="331.89" r="1.15" fill="#8410b4"/>
<circle cx="281.05" cy="337.07" r="1.15" fill="#8410b4"/>
<circle cx="280.22" cy="340.38" r="1.15" fill="#8410b4"/>
<circle cx="283.15" cy="332.91" r="1.15" fill="#8410b4"/>
<circle cx="281.46" cy="343.41" r="1.15" fill="#8410b4"/>
<circle cx="291.79" cy="345.11" r="1.15" fill="#8410b4"/>
<circle cx="293.54" cy="318.93" r="1.15" fill="#8410b4"/>
<circle cx="289.29" cy="311.13" r="1.15" fill="#8410b4"/>
<circle cx="291.59" cy="330.60" r="1.15" fill="#8410b4"/>
<circle cx="290.35" cy="346.81" r="1.15" fill="#8410b4"/>
<text x="289.88" y="375.80" font-size="9.2" font-weight="bold" text-anchor="end" transform="rotate(-30 289.88 375.80)">PEP</text>
<rect x="300.64" y="342.67" width="9.40" height="24.53" fill="#efc6f6" stroke="#000" stroke-width="1"/>
<rect x="310.74" y="328.44" width="9.40" height="38.76" fill="#b04fd8" stroke="#000" stroke-width="1"/>
<line x1="305.34" y1="342.67" x2="305.34" y2="331.63" stroke="#000" stroke-width="1"/>
<line x1="302.94" y1="331.63" x2="307.74" y2="331.63" stroke="#000" stroke-width="1"/>
<line x1="315.44" y1="328.44" x2="315.44" y2="311.27" stroke="#000" stroke-width="1"/>
<line x1="313.04" y1="311.27" x2="317.84" y2="311.27" stroke="#000" stroke-width="1"/>
<circle cx="303.04" cy="352.20" r="1.15" fill="#8410b4"/>
<circle cx="306.95" cy="355.33" r="1.15" fill="#8410b4"/>
<circle cx="303.83" cy="353.31" r="1.15" fill="#8410b4"/>
<circle cx="307.57" cy="345.80" r="1.15" fill="#8410b4"/>
<circle cx="305.04" cy="354.71" r="1.15" fill="#8410b4"/>
<circle cx="317.74" cy="326.24" r="1.15" fill="#8410b4"/>
<circle cx="317.62" cy="314.19" r="1.15" fill="#8410b4"/>
<circle cx="314.93" cy="338.33" r="1.15" fill="#8410b4"/>
<circle cx="317.75" cy="334.75" r="1.15" fill="#8410b4"/>
<circle cx="313.35" cy="308.01" r="1.15" fill="#8410b4"/>
<text x="314.74" y="375.80" font-size="9.2" font-weight="bold" text-anchor="end" transform="rotate(-30 314.74 375.80)">Acetyl-CoA</text>
<rect x="325.50" y="342.67" width="9.40" height="24.53" fill="#efc6f6" stroke="#000" stroke-width="1"/>
<rect x="335.60" y="343.16" width="9.40" height="24.04" fill="#b04fd8" stroke="#000" stroke-width="1"/>
<line x1="330.20" y1="342.67" x2="330.20" y2="335.31" stroke="#000" stroke-width="1"/>
<line x1="327.80" y1="335.31" x2="332.60" y2="335.31" stroke="#000" stroke-width="1"/>
<line x1="340.30" y1="343.16" x2="340.30" y2="333.35" stroke="#000" stroke-width="1"/>
<line x1="337.90" y1="333.35" x2="342.70" y2="333.35" stroke="#000" stroke-width="1"/>
<circle cx="328.59" cy="348.87" r="1.15" fill="#8410b4"/>
<circle cx="330.11" cy="347.77" r="1.15" fill="#8410b4"/>
<circle cx="328.78" cy="340.96" r="1.15" fill="#8410b4"/>
<circle cx="329.71" cy="352.16" r="1.15" fill="#8410b4"/>
<circle cx="330.60" cy="345.17" r="1.15" fill="#8410b4"/>
<circle cx="341.44" cy="331.60" r="1.15" fill="#8410b4"/>
<circle cx="341.01" cy="342.77" r="1.15" fill="#8410b4"/>
<circle cx="337.62" cy="338.67" r="1.15" fill="#8410b4"/>
<circle cx="341.98" cy="332.97" r="1.15" fill="#8410b4"/>
<circle cx="342.09" cy="333.61" r="1.15" fill="#8410b4"/>
<text x="339.60" y="375.80" font-size="9.2" font-weight="bold" text-anchor="end" transform="rotate(-30 339.60 375.80)">Lactate</text>
<rect x="350.36" y="342.67" width="9.40" height="24.53" fill="#efc6f6" stroke="#000" stroke-width="1"/>
<rect x="360.46" y="341.93" width="9.40" height="25.27" fill="#b04fd8" stroke="#000" stroke-width="1"/>
<line x1="355.06" y1="342.67" x2="355.06" y2="327.95" stroke="#000" stroke-width="1"/>
<line x1="352.66" y1="327.95" x2="357.46" y2="327.95" stroke="#000" stroke-width="1"/>
<line x1="365.16" y1="341.93" x2="365.16" y2="327.22" stroke="#000" stroke-width="1"/>
<line x1="362.76" y1="327.22" x2="367.56" y2="327.22" stroke="#000" stroke-width="1"/>
<circle cx="354.45" cy="346.79" r="1.15" fill="#8410b4"/>
<circle cx="355.87" cy="357.84" r="1.15" fill="#8410b4"/>
<circle cx="352.46" cy="359.42" r="1.15" fill="#8410b4"/>
<circle cx="353.03" cy="353.81" r="1.15" fill="#8410b4"/>
<circle cx="352.38" cy="348.79" r="1.15" fill="#8410b4"/>
<circle cx="363.07" cy="361.06" r="1.15" fill="#8410b4"/>
<circle cx="364.34" cy="357.18" r="1.15" fill="#8410b4"/>
<circle cx="367.41" cy="360.09" r="1.15" fill="#8410b4"/>
<circle cx="363.05" cy="337.57" r="1.15" fill="#8410b4"/>
<circle cx="364.24" cy="351.41" r="1.15" fill="#8410b4"/>
<text x="364.46" y="375.80" font-size="9.2" font-weight="bold" text-anchor="end" transform="rotate(-30 364.46 375.80)">Citrate</text>
<rect x="375.22" y="342.67" width="9.40" height="24.53" fill="#efc6f6" stroke="#000" stroke-width="1"/>
<rect x="385.32" y="337.76" width="9.40" height="29.44" fill="#b04fd8" stroke="#000" stroke-width="1"/>
<line x1="379.92" y1="342.67" x2="379.92" y2="337.76" stroke="#000" stroke-width="1"/>
<line x1="377.52" y1="337.76" x2="382.32" y2="337.76" stroke="#000" stroke-width="1"/>
<line x1="390.02" y1="337.76" x2="390.02" y2="330.41" stroke="#000" stroke-width="1"/>
<line x1="387.62" y1="330.41" x2="392.42" y2="330.41" stroke="#000" stroke-width="1"/>
<circle cx="377.66" cy="344.40" r="1.15" fill="#8410b4"/>
<circle cx="382.88" cy="338.22" r="1.15" fill="#8410b4"/>
<circle cx="379.82" cy="343.10" r="1.15" fill="#8410b4"/>
<circle cx="377.53" cy="347.95" r="1.15" fill="#8410b4"/>
<circle cx="378.51" cy="344.68" r="1.15" fill="#8410b4"/>
<circle cx="387.99" cy="331.47" r="1.15" fill="#8410b4"/>
<circle cx="392.73" cy="346.89" r="1.15" fill="#8410b4"/>
<circle cx="387.90" cy="337.22" r="1.15" fill="#8410b4"/>
<circle cx="387.18" cy="336.94" r="1.15" fill="#8410b4"/>
<circle cx="392.89" cy="337.23" r="1.15" fill="#8410b4"/>
<text x="389.32" y="375.80" font-size="9.2" font-weight="bold" text-anchor="end" transform="rotate(-30 389.32 375.80)">Succinate</text>
<rect x="400.08" y="342.67" width="9.40" height="24.53" fill="#efc6f6" stroke="#000" stroke-width="1"/>
<rect x="410.18" y="345.12" width="9.40" height="22.08" fill="#b04fd8" stroke="#000" stroke-width="1"/>
<line x1="404.78" y1="342.67" x2="404.78" y2="338.99" stroke="#000" stroke-width="1"/>
<line x1="402.38" y1="338.99" x2="407.18" y2="338.99" stroke="#000" stroke-width="1"/>
<line x1="414.88" y1="345.12" x2="414.88" y2="337.76" stroke="#000" stroke-width="1"/>
<line x1="412.48" y1="337.76" x2="417.28" y2="337.76" stroke="#000" stroke-width="1"/>
<circle cx="405.96" cy="339.19" r="1.15" fill="#8410b4"/>
<circle cx="403.98" cy="344.96" r="1.15" fill="#8410b4"/>
<circle cx="406.41" cy="345.86" r="1.15" fill="#8410b4"/>
<circle cx="406.45" cy="342.36" r="1.15" fill="#8410b4"/>
<circle cx="403.12" cy="344.30" r="1.15" fill="#8410b4"/>
<circle cx="417.79" cy="339.16" r="1.15" fill="#8410b4"/>
<circle cx="416.72" cy="338.38" r="1.15" fill="#8410b4"/>
<circle cx="416.32" cy="339.03" r="1.15" fill="#8410b4"/>
<circle cx="414.99" cy="350.35" r="1.15" fill="#8410b4"/>
<circle cx="412.05" cy="347.89" r="1.15" fill="#8410b4"/>
<text x="414.18" y="375.80" font-size="9.2" font-weight="bold" text-anchor="end" transform="rotate(-30 414.18 375.80)">Malate</text>
<text x="197.20" y="325.10" font-size="8.6" fill="#222" textLength="32.80" lengthAdjust="spacingAndGlyphs"><tspan font-style="italic">p</tspan> = 0.0645</text>
<line x1="205.00" y1="328.60" x2="216.00" y2="328.60" stroke="#333" stroke-width="0.9"/>
<text x="221.30" y="308.70" font-size="8.6" fill="#222" textLength="33.70" lengthAdjust="spacingAndGlyphs"><tspan font-style="italic">p</tspan> = 0.6487</text>
<line x1="230.00" y1="311.40" x2="240.50" y2="311.40" stroke="#333" stroke-width="0.9"/>
<text x="246.30" y="323.50" font-size="8.6" fill="#222" textLength="33.40" lengthAdjust="spacingAndGlyphs"><tspan font-style="italic">p</tspan> = 0.4371</text>
<line x1="255.00" y1="326.70" x2="266.20" y2="326.70" stroke="#333" stroke-width="0.9"/>
<text x="271.20" y="295.90" font-size="8.6" fill="#222" textLength="33.80" lengthAdjust="spacingAndGlyphs"><tspan font-style="italic">p</tspan> = 0.0718</text>
<line x1="280.50" y1="299.10" x2="291.00" y2="299.10" stroke="#333" stroke-width="0.9"/>
<text x="296.90" y="304.10" font-size="8.6" fill="#222" textLength="33.40" lengthAdjust="spacingAndGlyphs"><tspan font-style="italic">p</tspan> = 0.1417</text>
<line x1="305.00" y1="308.00" x2="316.30" y2="308.00" stroke="#333" stroke-width="0.9"/>
<text x="321.40" y="320.40" font-size="8.6" fill="#222" textLength="33.20" lengthAdjust="spacingAndGlyphs"><tspan font-style="italic">p</tspan> = 0.9309</text>
<line x1="330.30" y1="323.20" x2="341.30" y2="323.20" stroke="#333" stroke-width="0.9"/>
<text x="346.60" y="308.70" font-size="8.6" fill="#222" textLength="32.70" lengthAdjust="spacingAndGlyphs"><tspan font-style="italic">p</tspan> = 0.9107</text>
<line x1="355.30" y1="312.20" x2="365.80" y2="312.20" stroke="#333" stroke-width="0.9"/>
<text x="371.00" y="318.10" font-size="8.6" fill="#222" textLength="34.00" lengthAdjust="spacingAndGlyphs"><tspan font-style="italic">p</tspan> = 0.2506</text>
<line x1="379.80" y1="321.40" x2="391.00" y2="321.40" stroke="#333" stroke-width="0.9"/>
<text x="396.20" y="325.60" font-size="8.6" fill="#222" textLength="33.80" lengthAdjust="spacingAndGlyphs"><tspan font-style="italic">p</tspan> = 0.4715</text>
<line x1="405.00" y1="329.00" x2="416.00" y2="329.00" stroke="#333" stroke-width="0.9"/>
<text x="437.00" y="263.60" font-size="16" font-weight="bold">g</text>
<rect x="477.90" y="255.40" width="62.50" height="12.90" fill="#fff" stroke="#000" stroke-width="0.9"/>
<line x1="481.90" y1="261.85" x2="491.40" y2="261.85" stroke="#c45be0" stroke-width="1.4"/>
<circle cx="486.50" cy="261.85" r="2.30" fill="#c45be0"/>
<text x="492.20" y="265.15" font-size="9" font-weight="bold">Veh</text>
<line x1="512.40" y1="261.85" x2="521.90" y2="261.85" stroke="#86127e" stroke-width="1.4"/>
<circle cx="517.10" cy="261.85" r="2.30" fill="#86127e"/>
<text x="522.50" y="265.15" font-size="9" font-weight="bold">NB</text>
<rect x="604.40" y="255.40" width="63.60" height="12.90" fill="#fff" stroke="#000" stroke-width="0.9"/>
<line x1="608.40" y1="261.85" x2="617.90" y2="261.85" stroke="#c45be0" stroke-width="1.4"/>
<circle cx="613.00" cy="261.85" r="2.30" fill="#c45be0"/>
<text x="618.70" y="265.15" font-size="9" font-weight="bold">Veh</text>
<line x1="638.90" y1="261.85" x2="648.40" y2="261.85" stroke="#86127e" stroke-width="1.4"/>
<circle cx="643.60" cy="261.85" r="2.30" fill="#86127e"/>
<text x="649.00" y="265.15" font-size="9" font-weight="bold">NB</text>
<line x1="471.00" y1="289.40" x2="471.00" y2="351.90" stroke="#000" stroke-width="1.0"/>
<line x1="471.00" y1="351.90" x2="553.00" y2="351.90" stroke="#000" stroke-width="1.1"/>
<line x1="468.80" y1="351.90" x2="471.00" y2="351.90" stroke="#000" stroke-width="1"/>
<text x="467.60" y="354.92" font-size="8.4" text-anchor="end" fill="#222">0</text>
<line x1="468.80" y1="331.07" x2="471.00" y2="331.07" stroke="#000" stroke-width="1"/>
<text x="467.60" y="334.09" font-size="8.4" text-anchor="end" fill="#222">50</text>
<line x1="468.80" y1="310.23" x2="471.00" y2="310.23" stroke="#000" stroke-width="1"/>
<text x="467.60" y="313.26" font-size="8.4" text-anchor="end" fill="#222">100</text>
<line x1="468.80" y1="289.40" x2="471.00" y2="289.40" stroke="#000" stroke-width="1"/>
<text x="467.60" y="292.42" font-size="8.4" text-anchor="end" fill="#222">150</text>
<line x1="471.00" y1="351.90" x2="471.00" y2="354.10" stroke="#000" stroke-width="0.9"/>
<text x="471.00" y="365.20" font-size="8.4" text-anchor="middle" fill="#222">0</text>
<line x1="491.32" y1="351.90" x2="491.32" y2="354.10" stroke="#000" stroke-width="0.9"/>
<text x="491.32" y="365.20" font-size="8.4" text-anchor="middle" fill="#222">20</text>
<line x1="511.64" y1="351.90" x2="511.64" y2="354.10" stroke="#000" stroke-width="0.9"/>
<text x="511.64" y="365.20" font-size="8.4" text-anchor="middle" fill="#222">40</text>
<line x1="531.96" y1="351.90" x2="531.96" y2="354.10" stroke="#000" stroke-width="0.9"/>
<text x="531.96" y="365.20" font-size="8.4" text-anchor="middle" fill="#222">60</text>
<line x1="552.28" y1="351.90" x2="552.28" y2="354.10" stroke="#000" stroke-width="0.9"/>
<text x="552.28" y="365.20" font-size="8.4" text-anchor="middle" fill="#222">80</text>
<text x="512.70" y="376.90" font-size="9" font-weight="bold" text-anchor="middle">Time (min)</text>
<text x="441.80" y="320.50" font-size="9" font-weight="bold" text-anchor="middle" transform="rotate(-90 441.80 320.50)">OCR</text>
<text x="452.00" y="322.00" font-size="8.5" font-weight="bold" text-anchor="middle" transform="rotate(-90 452.00 322.00)">(pmol/min/10<tspan font-size="5.5" dy="-3">4</tspan><tspan dy="3"> cells)</tspan></text>
<text x="487.00" y="279.40" font-size="9" font-weight="bold" text-anchor="middle">O</text>
<line x1="487.00" y1="283.30" x2="487.00" y2="292.50" stroke="#6a2aa0" stroke-width="1.3"/>
<path d="M487.00 296.00 L484.69 291.80 L489.31 291.80 Z" fill="#6a2aa0"/>
<text x="507.50" y="279.40" font-size="9" font-weight="bold" text-anchor="middle">F</text>
<line x1="507.50" y1="283.30" x2="507.50" y2="292.50" stroke="#6a2aa0" stroke-width="1.3"/>
<path d="M507.50 296.00 L505.19 291.80 L509.81 291.80 Z" fill="#6a2aa0"/>
<text x="528.00" y="279.40" font-size="9" font-weight="bold" text-anchor="middle">R/A</text>
<line x1="528.00" y1="283.30" x2="528.00" y2="292.50" stroke="#6a2aa0" stroke-width="1.3"/>
<path d="M528.00 296.00 L525.69 291.80 L530.31 291.80 Z" fill="#6a2aa0"/>
<path d="M472.02 326.69 L479.13 326.23 L486.24 325.65 L492.34 339.19 L499.45 337.11 L506.56 337.73 L512.66 321.90 L519.77 325.23 L525.86 325.23 L531.96 339.82 L539.07 339.19 L546.18 339.82" fill="none" stroke="#c45be0" stroke-width="1.3"/>
<line x1="472.02" y1="326.69" x2="472.02" y2="325.44" stroke="#c45be0" stroke-width="0.9"/>
<line x1="469.82" y1="325.44" x2="474.22" y2="325.44" stroke="#c45be0" stroke-width="1.0"/>
<circle cx="472.02" cy="326.69" r="1.70" fill="#c45be0"/>
<line x1="479.13" y1="326.23" x2="479.13" y2="324.98" stroke="#c45be0" stroke-width="0.9"/>
<line x1="476.93" y1="324.98" x2="481.33" y2="324.98" stroke="#c45be0" stroke-width="1.0"/>
<circle cx="479.13" cy="326.23" r="1.70" fill="#c45be0"/>
<line x1="486.24" y1="325.65" x2="486.24" y2="324.40" stroke="#c45be0" stroke-width="0.9"/>
<line x1="484.04" y1="324.40" x2="488.44" y2="324.40" stroke="#c45be0" stroke-width="1.0"/>
<circle cx="486.24" cy="325.65" r="1.70" fill="#c45be0"/>
<line x1="492.34" y1="339.19" x2="492.34" y2="337.94" stroke="#c45be0" stroke-width="0.9"/>
<line x1="490.14" y1="337.94" x2="494.54" y2="337.94" stroke="#c45be0" stroke-width="1.0"/>
<circle cx="492.34" cy="339.19" r="1.70" fill="#c45be0"/>
<line x1="499.45" y1="337.11" x2="499.45" y2="335.86" stroke="#c45be0" stroke-width="0.9"/>
<line x1="497.25" y1="335.86" x2="501.65" y2="335.86" stroke="#c45be0" stroke-width="1.0"/>
<circle cx="499.45" cy="337.11" r="1.70" fill="#c45be0"/>
<line x1="506.56" y1="337.73" x2="506.56" y2="336.48" stroke="#c45be0" stroke-width="0.9"/>
<line x1="504.36" y1="336.48" x2="508.76" y2="336.48" stroke="#c45be0" stroke-width="1.0"/>
<circle cx="506.56" cy="337.73" r="1.70" fill="#c45be0"/>
<line x1="512.66" y1="321.90" x2="512.66" y2="320.65" stroke="#c45be0" stroke-width="0.9"/>
<line x1="510.46" y1="320.65" x2="514.86" y2="320.65" stroke="#c45be0" stroke-width="1.0"/>
<circle cx="512.66" cy="321.90" r="1.70" fill="#c45be0"/>
<line x1="519.77" y1="325.23" x2="519.77" y2="323.98" stroke="#c45be0" stroke-width="0.9"/>
<line x1="517.57" y1="323.98" x2="521.97" y2="323.98" stroke="#c45be0" stroke-width="1.0"/>
<circle cx="519.77" cy="325.23" r="1.70" fill="#c45be0"/>
<line x1="525.86" y1="325.23" x2="525.86" y2="323.98" stroke="#c45be0" stroke-width="0.9"/>
<line x1="523.66" y1="323.98" x2="528.06" y2="323.98" stroke="#c45be0" stroke-width="1.0"/>
<circle cx="525.86" cy="325.23" r="1.70" fill="#c45be0"/>
<line x1="531.96" y1="339.82" x2="531.96" y2="338.57" stroke="#c45be0" stroke-width="0.9"/>
<line x1="529.76" y1="338.57" x2="534.16" y2="338.57" stroke="#c45be0" stroke-width="1.0"/>
<circle cx="531.96" cy="339.82" r="1.70" fill="#c45be0"/>
<line x1="539.07" y1="339.19" x2="539.07" y2="337.94" stroke="#c45be0" stroke-width="0.9"/>
<line x1="536.87" y1="337.94" x2="541.27" y2="337.94" stroke="#c45be0" stroke-width="1.0"/>
<circle cx="539.07" cy="339.19" r="1.70" fill="#c45be0"/>
<line x1="546.18" y1="339.82" x2="546.18" y2="338.57" stroke="#c45be0" stroke-width="0.9"/>
<line x1="543.98" y1="338.57" x2="548.38" y2="338.57" stroke="#c45be0" stroke-width="1.0"/>
<circle cx="546.18" cy="339.82" r="1.70" fill="#c45be0"/>
<path d="M472.02 313.15 L479.13 313.15 L486.24 313.15 L492.34 333.57 L499.45 333.57 L506.56 333.57 L512.66 307.32 L519.77 311.07 L525.86 312.32 L531.96 342.48 L539.07 340.40 L546.18 340.40" fill="none" stroke="#86127e" stroke-width="1.3"/>
<line x1="472.02" y1="313.15" x2="472.02" y2="308.98" stroke="#86127e" stroke-width="0.9"/>
<line x1="469.82" y1="308.98" x2="474.22" y2="308.98" stroke="#86127e" stroke-width="1.0"/>
<circle cx="472.02" cy="313.15" r="1.70" fill="#86127e"/>
<line x1="479.13" y1="313.15" x2="479.13" y2="308.98" stroke="#86127e" stroke-width="0.9"/>
<line x1="476.93" y1="308.98" x2="481.33" y2="308.98" stroke="#86127e" stroke-width="1.0"/>
<circle cx="479.13" cy="313.15" r="1.70" fill="#86127e"/>
<line x1="486.24" y1="313.15" x2="486.24" y2="308.98" stroke="#86127e" stroke-width="0.9"/>
<line x1="484.04" y1="308.98" x2="488.44" y2="308.98" stroke="#86127e" stroke-width="1.0"/>
<circle cx="486.24" cy="313.15" r="1.70" fill="#86127e"/>
<line x1="492.34" y1="333.57" x2="492.34" y2="327.32" stroke="#86127e" stroke-width="0.9"/>
<line x1="490.14" y1="327.32" x2="494.54" y2="327.32" stroke="#86127e" stroke-width="1.0"/>
<circle cx="492.34" cy="333.57" r="1.70" fill="#86127e"/>
<line x1="499.45" y1="333.57" x2="499.45" y2="326.07" stroke="#86127e" stroke-width="0.9"/>
<line x1="497.25" y1="326.07" x2="501.65" y2="326.07" stroke="#86127e" stroke-width="1.0"/>
<circle cx="499.45" cy="333.57" r="1.70" fill="#86127e"/>
<line x1="506.56" y1="333.57" x2="506.56" y2="326.07" stroke="#86127e" stroke-width="0.9"/>
<line x1="504.36" y1="326.07" x2="508.76" y2="326.07" stroke="#86127e" stroke-width="1.0"/>
<circle cx="506.56" cy="333.57" r="1.70" fill="#86127e"/>
<line x1="512.66" y1="307.32" x2="512.66" y2="301.07" stroke="#86127e" stroke-width="0.9"/>
<line x1="510.46" y1="301.07" x2="514.86" y2="301.07" stroke="#86127e" stroke-width="1.0"/>
<circle cx="512.66" cy="307.32" r="1.70" fill="#86127e"/>
<line x1="519.77" y1="311.07" x2="519.77" y2="305.65" stroke="#86127e" stroke-width="0.9"/>
<line x1="517.57" y1="305.65" x2="521.97" y2="305.65" stroke="#86127e" stroke-width="1.0"/>
<circle cx="519.77" cy="311.07" r="1.70" fill="#86127e"/>
<line x1="525.86" y1="312.32" x2="525.86" y2="308.15" stroke="#86127e" stroke-width="0.9"/>
<line x1="523.66" y1="308.15" x2="528.06" y2="308.15" stroke="#86127e" stroke-width="1.0"/>
<circle cx="525.86" cy="312.32" r="1.70" fill="#86127e"/>
<line x1="531.96" y1="342.48" x2="531.96" y2="340.40" stroke="#86127e" stroke-width="0.9"/>
<line x1="529.76" y1="340.40" x2="534.16" y2="340.40" stroke="#86127e" stroke-width="1.0"/>
<circle cx="531.96" cy="342.48" r="1.70" fill="#86127e"/>
<line x1="539.07" y1="340.40" x2="539.07" y2="338.32" stroke="#86127e" stroke-width="0.9"/>
<line x1="536.87" y1="338.32" x2="541.27" y2="338.32" stroke="#86127e" stroke-width="1.0"/>
<circle cx="539.07" cy="340.40" r="1.70" fill="#86127e"/>
<line x1="546.18" y1="340.40" x2="546.18" y2="338.32" stroke="#86127e" stroke-width="0.9"/>
<line x1="543.98" y1="338.32" x2="548.38" y2="338.32" stroke="#86127e" stroke-width="1.0"/>
<circle cx="546.18" cy="340.40" r="1.70" fill="#86127e"/>
<line x1="597.50" y1="290.20" x2="597.50" y2="352.70" stroke="#000" stroke-width="1.0"/>
<line x1="597.50" y1="352.70" x2="679.00" y2="352.70" stroke="#000" stroke-width="1.1"/>
<line x1="595.30" y1="352.70" x2="597.50" y2="352.70" stroke="#000" stroke-width="1"/>
<text x="594.10" y="355.72" font-size="8.4" text-anchor="end" fill="#222">0</text>
<line x1="595.30" y1="340.20" x2="597.50" y2="340.20" stroke="#000" stroke-width="1"/>
<text x="594.10" y="343.22" font-size="8.4" text-anchor="end" fill="#222">10</text>
<line x1="595.30" y1="327.70" x2="597.50" y2="327.70" stroke="#000" stroke-width="1"/>
<text x="594.10" y="330.72" font-size="8.4" text-anchor="end" fill="#222">20</text>
<line x1="595.30" y1="315.20" x2="597.50" y2="315.20" stroke="#000" stroke-width="1"/>
<text x="594.10" y="318.22" font-size="8.4" text-anchor="end" fill="#222">30</text>
<line x1="595.30" y1="302.70" x2="597.50" y2="302.70" stroke="#000" stroke-width="1"/>
<text x="594.10" y="305.72" font-size="8.4" text-anchor="end" fill="#222">40</text>
<line x1="595.30" y1="290.20" x2="597.50" y2="290.20" stroke="#000" stroke-width="1"/>
<text x="594.10" y="293.22" font-size="8.4" text-anchor="end" fill="#222">50</text>
<line x1="597.50" y1="352.70" x2="597.50" y2="354.90" stroke="#000" stroke-width="0.9"/>
<text x="597.50" y="365.20" font-size="8.4" text-anchor="middle" fill="#222">0</text>
<line x1="617.70" y1="352.70" x2="617.70" y2="354.90" stroke="#000" stroke-width="0.9"/>
<text x="617.70" y="365.20" font-size="8.4" text-anchor="middle" fill="#222">20</text>
<line x1="637.90" y1="352.70" x2="637.90" y2="354.90" stroke="#000" stroke-width="0.9"/>
<text x="637.90" y="365.20" font-size="8.4" text-anchor="middle" fill="#222">40</text>
<line x1="658.10" y1="352.70" x2="658.10" y2="354.90" stroke="#000" stroke-width="0.9"/>
<text x="658.10" y="365.20" font-size="8.4" text-anchor="middle" fill="#222">60</text>
<line x1="678.30" y1="352.70" x2="678.30" y2="354.90" stroke="#000" stroke-width="0.9"/>
<text x="678.30" y="365.20" font-size="8.4" text-anchor="middle" fill="#222">80</text>
<text x="638.00" y="376.90" font-size="9" font-weight="bold" text-anchor="middle">Time (min)</text>
<text x="571.20" y="321.00" font-size="9" font-weight="bold" text-anchor="middle" transform="rotate(-90 571.20 321.00)">ECAR</text>
<text x="581.40" y="322.00" font-size="8.5" font-weight="bold" text-anchor="middle" transform="rotate(-90 581.40 322.00)">(mpH/min/10<tspan font-size="5.5" dy="-3">4</tspan><tspan dy="3"> cells)</tspan></text>
<text x="617.90" y="282.00" font-size="9" font-weight="bold" text-anchor="middle">Glu</text>
<line x1="617.90" y1="286.00" x2="617.90" y2="294.50" stroke="#6a2aa0" stroke-width="1.3"/>
<path d="M617.90 298.00 L615.59 293.80 L620.21 293.80 Z" fill="#6a2aa0"/>
<text x="637.30" y="282.00" font-size="9" font-weight="bold" text-anchor="middle">O</text>
<line x1="637.30" y1="286.00" x2="637.30" y2="294.50" stroke="#6a2aa0" stroke-width="1.3"/>
<path d="M637.30 298.00 L634.99 293.80 L639.61 293.80 Z" fill="#6a2aa0"/>
<text x="654.40" y="282.00" font-size="9" font-weight="bold" text-anchor="middle">2DG</text>
<line x1="654.40" y1="286.00" x2="654.40" y2="294.50" stroke="#6a2aa0" stroke-width="1.3"/>
<path d="M654.40 298.00 L652.09 293.80 L656.71 293.80 Z" fill="#6a2aa0"/>
<path d="M598.00 339.82 L605.38 339.20 L611.64 339.20 L617.70 325.20 L625.17 324.20 L631.54 324.20 L638.40 314.20 L644.97 315.45 L651.64 314.82 L658.50 342.95 L664.77 344.57 L671.63 345.95 L678.30 346.95" fill="none" stroke="#c45be0" stroke-width="1.3"/>
<line x1="598.00" y1="339.82" x2="598.00" y2="337.95" stroke="#c45be0" stroke-width="0.9"/>
<line x1="595.80" y1="337.95" x2="600.21" y2="337.95" stroke="#c45be0" stroke-width="1.0"/>
<circle cx="598.00" cy="339.82" r="1.70" fill="#c45be0"/>
<line x1="605.38" y1="339.20" x2="605.38" y2="337.32" stroke="#c45be0" stroke-width="0.9"/>
<line x1="603.18" y1="337.32" x2="607.58" y2="337.32" stroke="#c45be0" stroke-width="1.0"/>
<circle cx="605.38" cy="339.20" r="1.70" fill="#c45be0"/>
<line x1="611.64" y1="339.20" x2="611.64" y2="337.32" stroke="#c45be0" stroke-width="0.9"/>
<line x1="609.44" y1="337.32" x2="613.84" y2="337.32" stroke="#c45be0" stroke-width="1.0"/>
<circle cx="611.64" cy="339.20" r="1.70" fill="#c45be0"/>
<line x1="617.70" y1="325.20" x2="617.70" y2="323.32" stroke="#c45be0" stroke-width="0.9"/>
<line x1="615.50" y1="323.32" x2="619.90" y2="323.32" stroke="#c45be0" stroke-width="1.0"/>
<circle cx="617.70" cy="325.20" r="1.70" fill="#c45be0"/>
<line x1="625.17" y1="324.20" x2="625.17" y2="322.32" stroke="#c45be0" stroke-width="0.9"/>
<line x1="622.97" y1="322.32" x2="627.37" y2="322.32" stroke="#c45be0" stroke-width="1.0"/>
<circle cx="625.17" cy="324.20" r="1.70" fill="#c45be0"/>
<line x1="631.54" y1="324.20" x2="631.54" y2="322.32" stroke="#c45be0" stroke-width="0.9"/>
<line x1="629.34" y1="322.32" x2="633.74" y2="322.32" stroke="#c45be0" stroke-width="1.0"/>
<circle cx="631.54" cy="324.20" r="1.70" fill="#c45be0"/>
<line x1="638.40" y1="314.20" x2="638.40" y2="312.32" stroke="#c45be0" stroke-width="0.9"/>
<line x1="636.20" y1="312.32" x2="640.61" y2="312.32" stroke="#c45be0" stroke-width="1.0"/>
<circle cx="638.40" cy="314.20" r="1.70" fill="#c45be0"/>
<line x1="644.97" y1="315.45" x2="644.97" y2="313.57" stroke="#c45be0" stroke-width="0.9"/>
<line x1="642.77" y1="313.57" x2="647.17" y2="313.57" stroke="#c45be0" stroke-width="1.0"/>
<circle cx="644.97" cy="315.45" r="1.70" fill="#c45be0"/>
<line x1="651.64" y1="314.82" x2="651.64" y2="312.95" stroke="#c45be0" stroke-width="0.9"/>
<line x1="649.44" y1="312.95" x2="653.84" y2="312.95" stroke="#c45be0" stroke-width="1.0"/>
<circle cx="651.64" cy="314.82" r="1.70" fill="#c45be0"/>
<line x1="658.50" y1="342.95" x2="658.50" y2="341.07" stroke="#c45be0" stroke-width="0.9"/>
<line x1="656.30" y1="341.07" x2="660.70" y2="341.07" stroke="#c45be0" stroke-width="1.0"/>
<circle cx="658.50" cy="342.95" r="1.70" fill="#c45be0"/>
<line x1="664.77" y1="344.57" x2="664.77" y2="342.70" stroke="#c45be0" stroke-width="0.9"/>
<line x1="662.57" y1="342.70" x2="666.97" y2="342.70" stroke="#c45be0" stroke-width="1.0"/>
<circle cx="664.77" cy="344.57" r="1.70" fill="#c45be0"/>
<line x1="671.63" y1="345.95" x2="671.63" y2="344.07" stroke="#c45be0" stroke-width="0.9"/>
<line x1="669.43" y1="344.07" x2="673.83" y2="344.07" stroke="#c45be0" stroke-width="1.0"/>
<circle cx="671.63" cy="345.95" r="1.70" fill="#c45be0"/>
<line x1="678.30" y1="346.95" x2="678.30" y2="345.07" stroke="#c45be0" stroke-width="0.9"/>
<line x1="676.10" y1="345.07" x2="680.50" y2="345.07" stroke="#c45be0" stroke-width="1.0"/>
<circle cx="678.30" cy="346.95" r="1.70" fill="#c45be0"/>
<path d="M598.00 333.45 L605.38 334.20 L611.64 334.20 L617.70 315.45 L625.17 316.95 L631.54 316.95 L638.40 305.45 L644.97 307.07 L651.64 307.07 L658.50 340.45 L664.77 341.95 L671.63 343.95 L678.30 345.07" fill="none" stroke="#86127e" stroke-width="1.3"/>
<line x1="598.00" y1="333.45" x2="598.00" y2="331.20" stroke="#86127e" stroke-width="0.9"/>
<line x1="595.80" y1="331.20" x2="600.21" y2="331.20" stroke="#86127e" stroke-width="1.0"/>
<circle cx="598.00" cy="333.45" r="1.70" fill="#86127e"/>
<line x1="605.38" y1="334.20" x2="605.38" y2="331.95" stroke="#86127e" stroke-width="0.9"/>
<line x1="603.18" y1="331.95" x2="607.58" y2="331.95" stroke="#86127e" stroke-width="1.0"/>
<circle cx="605.38" cy="334.20" r="1.70" fill="#86127e"/>
<line x1="611.64" y1="334.20" x2="611.64" y2="331.95" stroke="#86127e" stroke-width="0.9"/>
<line x1="609.44" y1="331.95" x2="613.84" y2="331.95" stroke="#86127e" stroke-width="1.0"/>
<circle cx="611.64" cy="334.20" r="1.70" fill="#86127e"/>
<line x1="617.70" y1="315.45" x2="617.70" y2="313.20" stroke="#86127e" stroke-width="0.9"/>
<line x1="615.50" y1="313.20" x2="619.90" y2="313.20" stroke="#86127e" stroke-width="1.0"/>
<circle cx="617.70" cy="315.45" r="1.70" fill="#86127e"/>
<line x1="625.17" y1="316.95" x2="625.17" y2="314.70" stroke="#86127e" stroke-width="0.9"/>
<line x1="622.97" y1="314.70" x2="627.37" y2="314.70" stroke="#86127e" stroke-width="1.0"/>
<circle cx="625.17" cy="316.95" r="1.70" fill="#86127e"/>
<line x1="631.54" y1="316.95" x2="631.54" y2="314.70" stroke="#86127e" stroke-width="0.9"/>
<line x1="629.34" y1="314.70" x2="633.74" y2="314.70" stroke="#86127e" stroke-width="1.0"/>
<circle cx="631.54" cy="316.95" r="1.70" fill="#86127e"/>
<line x1="638.40" y1="305.45" x2="638.40" y2="303.20" stroke="#86127e" stroke-width="0.9"/>
<line x1="636.20" y1="303.20" x2="640.61" y2="303.20" stroke="#86127e" stroke-width="1.0"/>
<circle cx="638.40" cy="305.45" r="1.70" fill="#86127e"/>
<line x1="644.97" y1="307.07" x2="644.97" y2="304.82" stroke="#86127e" stroke-width="0.9"/>
<line x1="642.77" y1="304.82" x2="647.17" y2="304.82" stroke="#86127e" stroke-width="1.0"/>
<circle cx="644.97" cy="307.07" r="1.70" fill="#86127e"/>
<line x1="651.64" y1="307.07" x2="651.64" y2="304.82" stroke="#86127e" stroke-width="0.9"/>
<line x1="649.44" y1="304.82" x2="653.84" y2="304.82" stroke="#86127e" stroke-width="1.0"/>
<circle cx="651.64" cy="307.07" r="1.70" fill="#86127e"/>
<line x1="658.50" y1="340.45" x2="658.50" y2="338.20" stroke="#86127e" stroke-width="0.9"/>
<line x1="656.30" y1="338.20" x2="660.70" y2="338.20" stroke="#86127e" stroke-width="1.0"/>
<circle cx="658.50" cy="340.45" r="1.70" fill="#86127e"/>
<line x1="664.77" y1="341.95" x2="664.77" y2="339.70" stroke="#86127e" stroke-width="0.9"/>
<line x1="662.57" y1="339.70" x2="666.97" y2="339.70" stroke="#86127e" stroke-width="1.0"/>
<circle cx="664.77" cy="341.95" r="1.70" fill="#86127e"/>
<line x1="671.63" y1="343.95" x2="671.63" y2="341.70" stroke="#86127e" stroke-width="0.9"/>
<line x1="669.43" y1="341.70" x2="673.83" y2="341.70" stroke="#86127e" stroke-width="1.0"/>
<circle cx="671.63" cy="343.95" r="1.70" fill="#86127e"/>
<line x1="678.30" y1="345.07" x2="678.30" y2="342.82" stroke="#86127e" stroke-width="0.9"/>
<line x1="676.10" y1="342.82" x2="680.50" y2="342.82" stroke="#86127e" stroke-width="1.0"/>
<circle cx="678.30" cy="345.07" r="1.70" fill="#86127e"/>
<line x1="469.00" y1="382.00" x2="685.00" y2="382.00" stroke="#e38ee3" stroke-width="1.3"/>
<text x="518.00" y="395.40" font-size="9.1" font-weight="bold">Primary lung macrophages</text>
<text x="258.00" y="431.60" font-size="10" font-weight="bold" textLength="154.00" lengthAdjust="spacingAndGlyphs"><tspan fill="#cc00cc">Veh</tspan><tspan fill="#000">, </tspan><tspan fill="#cc00cc">NNK</tspan><tspan fill="#000">, </tspan><tspan fill="#cc00cc">BaP</tspan><tspan fill="#000">, or </tspan><tspan fill="#cc00cc">NNK/BaP (NB)</tspan></text>
<path d="M399.8 434.6 C404 435.5 405.5 438.5 404.5 443" fill="none" stroke="#cc00cc" stroke-width="1.3"/>
<path d="M404.20 446.40 L402.36 442.22 L406.74 442.61 Z" fill="#cc00cc"/>
<g transform="translate(395.0 442.6) scale(1.0)"><path d="M6 6 L24 0 L28 3 L28 9 L10 15 L6 13 Z" fill="#ececec" stroke="#c8c8c8" stroke-width="0.6"/><path d="M6 9.5 L28 5.5 L28 9 L10 15 L6 13 Z" fill="#e36f78"/><path d="M6 9 L27 5 L28 9 L10 15 L6 13 Z" fill="#ea7d86" opacity="0.8"/><path d="M10 15 L28 9 L28 3" fill="none" stroke="#d0d0d0" stroke-width="0.5"/><rect x="0.5" y="8" width="4.8" height="5.6" rx="1.4" fill="#2b7fd6" transform="rotate(-12 3 11)"/></g>
<text x="426.00" y="451.40" font-size="9.4" font-weight="bold" fill="#6bab2f">THP-1</text>
<text x="7.00" y="472.40" font-size="16" font-weight="bold">h</text>
<text x="73.80" y="469.70" font-size="9.2" font-weight="bold" text-anchor="middle">BaP (1 µM)</text>
<line x1="43.00" y1="474.00" x2="104.60" y2="474.00" stroke="#ef90e9" stroke-width="1.6"/>
<text x="154.80" y="469.40" font-size="9.2" font-weight="bold" text-anchor="middle">BaP (3 d)</text>
<line x1="114.40" y1="473.60" x2="195.50" y2="473.60" stroke="#ef90e9" stroke-width="1.6"/>
<text x="18.60" y="487.60" font-size="8.6" fill="#222">kDa</text>
<text x="55.60" y="486.30" font-size="9" font-weight="bold" text-anchor="middle">0</text>
<text x="72.50" y="486.30" font-size="9" font-weight="bold" text-anchor="middle">1</text>
<text x="93.00" y="486.30" font-size="9" font-weight="bold" text-anchor="middle">3</text>
<text x="105.00" y="486.30" font-size="9" font-weight="bold" text-anchor="middle">(d)</text>
<text x="124.30" y="486.10" font-size="9" font-weight="bold" text-anchor="middle">0</text>
<text x="146.00" y="486.10" font-size="9" font-weight="bold" text-anchor="middle">0.01</text>
<text x="166.50" y="486.10" font-size="9" font-weight="bold" text-anchor="middle">0.1</text>
<text x="182.60" y="486.10" font-size="9" font-weight="bold" text-anchor="middle">1</text>
<text x="199.30" y="486.10" font-size="9" font-weight="bold" text-anchor="middle">(µM)</text>
<line x1="20.30" y1="491.70" x2="20.30" y2="558.50" stroke="#8cd8a8" stroke-width="1.6"/>
<text x="17.20" y="525.40" font-size="9.4" font-weight="bold" text-anchor="middle" transform="rotate(-90 17.20 525.40)">WCL</text>
<text x="32.80" y="498.10" font-size="8.6" text-anchor="end" fill="#222">60</text>
<line x1="35.00" y1="495.00" x2="46.00" y2="495.00" stroke="#222" stroke-width="0.9"/>
<text x="32.80" y="521.30" font-size="8.6" text-anchor="end" fill="#222">60</text>
<line x1="35.00" y1="518.20" x2="46.00" y2="518.20" stroke="#222" stroke-width="0.9"/>
<text x="32.80" y="546.90" font-size="8.6" text-anchor="end" fill="#222">45</text>
<line x1="35.00" y1="543.80" x2="46.00" y2="543.80" stroke="#222" stroke-width="0.9"/>
<rect x="43.00" y="491.70" width="62.30" height="21.00" fill="#e4e4e4" rx="0.8"/>
<g clip-path="url(#cbl1)"><g filter="url(#blurband)"><rect x="45.85" y="491.70" width="17.50" height="21.00" fill="#000" opacity="0.05"/><ellipse cx="54.60" cy="501.40" rx="8.55" ry="5.77" fill="#0a0a0a" opacity="0.17"/><ellipse cx="54.60" cy="501.40" rx="7.55" ry="2.22" fill="#0a0a0a" opacity="0.62"/><rect x="64.65" y="491.70" width="17.50" height="21.00" fill="#000" opacity="0.05"/><ellipse cx="73.40" cy="501.40" rx="8.44" ry="5.59" fill="#0a0a0a" opacity="0.15"/><ellipse cx="73.40" cy="501.40" rx="7.44" ry="2.15" fill="#0a0a0a" opacity="0.55"/><rect x="84.55" y="491.70" width="17.50" height="21.00" fill="#000" opacity="0.05"/><ellipse cx="93.30" cy="501.40" rx="9.14" ry="6.76" fill="#0a0a0a" opacity="0.28"/><ellipse cx="93.30" cy="501.40" rx="8.14" ry="2.60" fill="#0a0a0a" opacity="1.00"/></g></g>
<rect x="43.00" y="491.70" width="62.30" height="21.00" fill="none" stroke="#333" stroke-width="1.0" rx="0.8"/>
<rect x="43.00" y="515.20" width="62.30" height="21.00" fill="url(#gbl2)" rx="0.8"/>
<g clip-path="url(#cbl2)"><g filter="url(#blurband)"><rect x="46.60" y="515.20" width="16.00" height="21.00" fill="#000" opacity="0.05"/><ellipse cx="54.60" cy="525.80" rx="7.26" ry="4.50" fill="#0a0a0a" opacity="0.05"/><ellipse cx="54.60" cy="525.80" rx="6.26" ry="1.73" fill="#0a0a0a" opacity="0.22"/><rect x="65.40" y="515.20" width="16.00" height="21.00" fill="#000" opacity="0.05"/><ellipse cx="73.40" cy="525.80" rx="7.79" ry="5.43" fill="#0a0a0a" opacity="0.13"/><ellipse cx="73.40" cy="525.80" rx="6.79" ry="2.09" fill="#0a0a0a" opacity="0.60"/><rect x="85.30" y="515.20" width="16.00" height="21.00" fill="#000" opacity="0.05"/><ellipse cx="93.30" cy="525.80" rx="8.07" ry="5.93" fill="#0a0a0a" opacity="0.18"/><ellipse cx="93.30" cy="525.80" rx="7.07" ry="2.28" fill="#0a0a0a" opacity="0.80"/></g></g>
<rect x="43.00" y="515.20" width="62.30" height="21.00" fill="none" stroke="#333" stroke-width="1.0" rx="0.8"/>
<rect x="43.00" y="539.00" width="62.30" height="21.50" fill="#e4e4e4" rx="0.8"/>
<g clip-path="url(#cbl3)"><g filter="url(#blurband)"><rect x="47.35" y="539.00" width="14.50" height="21.50" fill="#000" opacity="0.05"/><ellipse cx="54.60" cy="549.50" rx="7.09" ry="4.62" fill="#0a0a0a" opacity="0.14"/><ellipse cx="54.60" cy="549.50" rx="6.09" ry="1.78" fill="#0a0a0a" opacity="0.62"/><rect x="66.15" y="539.00" width="14.50" height="21.50" fill="#000" opacity="0.05"/><ellipse cx="73.40" cy="549.50" rx="6.88" ry="4.26" fill="#0a0a0a" opacity="0.10"/><ellipse cx="73.40" cy="549.50" rx="5.88" ry="1.64" fill="#0a0a0a" opacity="0.45"/><rect x="86.05" y="539.00" width="14.50" height="21.50" fill="#000" opacity="0.05"/><ellipse cx="93.30" cy="549.50" rx="7.04" ry="4.53" fill="#0a0a0a" opacity="0.13"/><ellipse cx="93.30" cy="549.50" rx="6.04" ry="1.74" fill="#0a0a0a" opacity="0.58"/></g></g>
<rect x="43.00" y="539.00" width="62.30" height="21.50" fill="none" stroke="#333" stroke-width="1.0" rx="0.8"/>
<rect x="113.60" y="491.50" width="83.20" height="21.10" fill="#e4e4e4" rx="0.8"/>
<g clip-path="url(#cbl4)"><g filter="url(#blurband)"><rect x="116.30" y="491.50" width="17.00" height="21.10" fill="#000" opacity="0.05"/><ellipse cx="124.80" cy="500.50" rx="7.65" ry="4.17" fill="#0a0a0a" opacity="0.04"/><ellipse cx="124.80" cy="500.50" rx="6.65" ry="1.60" fill="#0a0a0a" opacity="0.18"/><rect x="136.20" y="491.50" width="17.00" height="21.10" fill="#000" opacity="0.05"/><ellipse cx="144.70" cy="500.50" rx="7.75" ry="4.33" fill="#0a0a0a" opacity="0.06"/><ellipse cx="144.70" cy="500.50" rx="6.75" ry="1.67" fill="#0a0a0a" opacity="0.25"/><rect x="157.30" y="491.50" width="17.00" height="21.10" fill="#000" opacity="0.05"/><ellipse cx="165.80" cy="500.50" rx="8.12" ry="4.91" fill="#0a0a0a" opacity="0.11"/><ellipse cx="165.80" cy="500.50" rx="7.12" ry="1.89" fill="#0a0a0a" opacity="0.50"/><rect x="176.60" y="491.50" width="17.00" height="21.10" fill="#000" opacity="0.05"/><ellipse cx="185.10" cy="500.50" rx="8.75" ry="5.90" fill="#0a0a0a" opacity="0.20"/><ellipse cx="185.10" cy="500.50" rx="7.75" ry="2.27" fill="#0a0a0a" opacity="0.92"/></g></g>
<rect x="113.60" y="491.50" width="83.20" height="21.10" fill="none" stroke="#333" stroke-width="1.0" rx="0.8"/>
<rect x="113.60" y="515.00" width="83.20" height="21.40" fill="#e4e4e4" rx="0.8"/>
<g clip-path="url(#cbl5)"><g filter="url(#blurband)"><rect x="116.30" y="515.00" width="17.00" height="21.40" fill="#000" opacity="0.05"/><ellipse cx="124.80" cy="525.80" rx="7.71" ry="4.26" fill="#0a0a0a" opacity="0.05"/><ellipse cx="124.80" cy="525.80" rx="6.71" ry="1.64" fill="#0a0a0a" opacity="0.22"/><rect x="136.20" y="515.00" width="17.00" height="21.40" fill="#000" opacity="0.05"/><ellipse cx="144.70" cy="525.80" rx="7.94" ry="4.63" fill="#0a0a0a" opacity="0.08"/><ellipse cx="144.70" cy="525.80" rx="6.94" ry="1.78" fill="#0a0a0a" opacity="0.38"/><rect x="157.30" y="515.00" width="17.00" height="21.40" fill="#000" opacity="0.05"/><ellipse cx="165.80" cy="525.80" rx="8.35" ry="5.26" fill="#0a0a0a" opacity="0.14"/><ellipse cx="165.80" cy="525.80" rx="7.35" ry="2.02" fill="#0a0a0a" opacity="0.65"/><rect x="176.60" y="515.00" width="17.00" height="21.40" fill="#000" opacity="0.05"/><ellipse cx="185.10" cy="525.80" rx="8.88" ry="6.08" fill="#0a0a0a" opacity="0.22"/><ellipse cx="185.10" cy="525.80" rx="7.88" ry="2.34" fill="#0a0a0a" opacity="1.00"/></g></g>
<rect x="113.60" y="515.00" width="83.20" height="21.40" fill="none" stroke="#333" stroke-width="1.0" rx="0.8"/>
<rect x="113.60" y="539.40" width="83.20" height="21.10" fill="#e4e4e4" rx="0.8"/>
<g clip-path="url(#cbl6)"><g filter="url(#blurband)"><rect x="116.30" y="539.40" width="17.00" height="21.10" fill="#000" opacity="0.05"/><ellipse cx="124.80" cy="549.80" rx="8.05" ry="3.20" fill="#0a0a0a" opacity="0.10"/><ellipse cx="124.80" cy="549.80" rx="7.05" ry="1.23" fill="#0a0a0a" opacity="0.45"/><rect x="136.20" y="539.40" width="17.00" height="21.10" fill="#000" opacity="0.05"/><ellipse cx="144.70" cy="549.80" rx="8.12" ry="3.28" fill="#0a0a0a" opacity="0.11"/><ellipse cx="144.70" cy="549.80" rx="7.12" ry="1.26" fill="#0a0a0a" opacity="0.50"/><rect x="157.30" y="539.40" width="17.00" height="21.10" fill="#000" opacity="0.05"/><ellipse cx="165.80" cy="549.80" rx="7.94" ry="3.09" fill="#0a0a0a" opacity="0.08"/><ellipse cx="165.80" cy="549.80" rx="6.94" ry="1.19" fill="#0a0a0a" opacity="0.38"/><rect x="176.60" y="539.40" width="17.00" height="21.10" fill="#000" opacity="0.05"/><ellipse cx="185.10" cy="549.80" rx="8.05" ry="3.20" fill="#0a0a0a" opacity="0.10"/><ellipse cx="185.10" cy="549.80" rx="7.05" ry="1.23" fill="#0a0a0a" opacity="0.45"/></g></g>
<rect x="113.60" y="539.40" width="83.20" height="21.10" fill="none" stroke="#333" stroke-width="1.0" rx="0.8"/>
<text x="199.80" y="506.00" font-size="8.8" font-weight="bold">GLUT1</text>
<text x="199.80" y="529.80" font-size="8.8" font-weight="bold">GLUT3</text>
<text x="199.80" y="553.10" font-size="8.8" font-weight="bold">Actin</text>
<text x="256.60" y="477.60" font-size="16" font-weight="bold">i</text>
<text x="326.40" y="469.50" font-size="9.2" font-weight="bold" text-anchor="middle">NNK (1 µM)</text>
<line x1="295.40" y1="473.20" x2="357.20" y2="473.20" stroke="#a8d2e2" stroke-width="1.8"/>
<text x="271.60" y="487.00" font-size="8.6" fill="#222">kDa</text>
<text x="307.60" y="486.90" font-size="9" font-weight="bold" text-anchor="middle">0</text>
<text x="327.00" y="486.90" font-size="9" font-weight="bold" text-anchor="middle">1</text>
<text x="345.00" y="486.90" font-size="9" font-weight="bold" text-anchor="middle">3</text>
<text x="358.00" y="486.90" font-size="9" font-weight="bold" text-anchor="middle">(d)</text>
<line x1="273.60" y1="491.00" x2="273.60" y2="558.00" stroke="#8cd8a8" stroke-width="1.4"/>
<text x="269.50" y="525.80" font-size="9.4" font-weight="bold" text-anchor="middle" transform="rotate(-90 269.50 525.80)">WCL</text>
<text x="286.30" y="496.10" font-size="8.6" text-anchor="end" fill="#222">60</text>
<line x1="288.50" y1="493.00" x2="299.60" y2="493.00" stroke="#222" stroke-width="0.9"/>
<text x="286.30" y="520.90" font-size="8.6" text-anchor="end" fill="#222">60</text>
<line x1="288.50" y1="517.80" x2="299.60" y2="517.80" stroke="#222" stroke-width="0.9"/>
<text x="286.30" y="547.00" font-size="8.6" text-anchor="end" fill="#222">45</text>
<line x1="288.50" y1="543.90" x2="299.60" y2="543.90" stroke="#222" stroke-width="0.9"/>
<rect x="295.40" y="491.50" width="62.00" height="21.10" fill="#e6e6e6" rx="0.8"/>
<g clip-path="url(#cbl7)"><g filter="url(#blurband)"><rect x="297.60" y="491.50" width="20.00" height="21.10" fill="#000" opacity="0.05"/><ellipse cx="307.60" cy="503.30" rx="10.13" ry="8.81" fill="#0a0a0a" opacity="0.29"/><ellipse cx="307.60" cy="503.30" rx="9.13" ry="3.39" fill="#0a0a0a" opacity="0.82"/><rect x="315.00" y="491.50" width="20.00" height="21.10" fill="#000" opacity="0.05"/><ellipse cx="325.00" cy="503.30" rx="10.05" ry="8.66" fill="#0a0a0a" opacity="0.27"/><ellipse cx="325.00" cy="503.30" rx="9.05" ry="3.33" fill="#0a0a0a" opacity="0.78"/><rect x="335.50" y="491.50" width="20.00" height="21.10" fill="#000" opacity="0.05"/><ellipse cx="345.50" cy="503.30" rx="9.59" ry="7.72" fill="#0a0a0a" opacity="0.18"/><ellipse cx="345.50" cy="503.30" rx="8.59" ry="2.97" fill="#0a0a0a" opacity="0.52"/></g></g>
<rect x="295.40" y="491.50" width="62.00" height="21.10" fill="none" stroke="#333" stroke-width="1.0" rx="0.8"/>
<rect x="295.40" y="515.00" width="62.00" height="21.20" fill="#dcdcdc" rx="0.8"/>
<g clip-path="url(#cbl8)"><g filter="url(#blurband)"><rect x="298.60" y="515.00" width="18.00" height="21.20" fill="#000" opacity="0.05"/><ellipse cx="307.60" cy="525.20" rx="8.15" ry="3.08" fill="#0a0a0a" opacity="0.05"/><ellipse cx="307.60" cy="525.20" rx="7.15" ry="1.18" fill="#0a0a0a" opacity="0.22"/><rect x="316.00" y="515.00" width="18.00" height="21.20" fill="#000" opacity="0.05"/><ellipse cx="325.00" cy="525.20" rx="8.31" ry="3.24" fill="#0a0a0a" opacity="0.07"/><ellipse cx="325.00" cy="525.20" rx="7.31" ry="1.25" fill="#0a0a0a" opacity="0.32"/><rect x="336.50" y="515.00" width="18.00" height="21.20" fill="#000" opacity="0.05"/><ellipse cx="345.50" cy="525.20" rx="8.31" ry="3.24" fill="#0a0a0a" opacity="0.07"/><ellipse cx="345.50" cy="525.20" rx="7.31" ry="1.25" fill="#0a0a0a" opacity="0.32"/></g></g>
<rect x="295.40" y="515.00" width="62.00" height="21.20" fill="none" stroke="#333" stroke-width="1.0" rx="0.8"/>
<rect x="295.40" y="539.00" width="62.00" height="21.50" fill="#e8e8e8" rx="0.8"/>
<g clip-path="url(#cbl9)"><g filter="url(#blurband)"><rect x="298.10" y="539.00" width="19.00" height="21.50" fill="#000" opacity="0.05"/><ellipse cx="307.60" cy="549.30" rx="9.45" ry="6.33" fill="#0a0a0a" opacity="0.16"/><ellipse cx="307.60" cy="549.30" rx="8.45" ry="2.44" fill="#0a0a0a" opacity="0.72"/><rect x="315.50" y="539.00" width="19.00" height="21.50" fill="#000" opacity="0.05"/><ellipse cx="325.00" cy="549.30" rx="9.35" ry="6.17" fill="#0a0a0a" opacity="0.15"/><ellipse cx="325.00" cy="549.30" rx="8.35" ry="2.37" fill="#0a0a0a" opacity="0.66"/><rect x="336.00" y="539.00" width="19.00" height="21.50" fill="#000" opacity="0.05"/><ellipse cx="345.50" cy="549.30" rx="9.45" ry="6.33" fill="#0a0a0a" opacity="0.16"/><ellipse cx="345.50" cy="549.30" rx="8.45" ry="2.44" fill="#0a0a0a" opacity="0.72"/></g></g>
<rect x="295.40" y="539.00" width="62.00" height="21.50" fill="none" stroke="#333" stroke-width="1.0" rx="0.8"/>
<text x="361.00" y="506.00" font-size="8.8" font-weight="bold">GLUT1</text>
<text x="361.00" y="529.80" font-size="8.8" font-weight="bold">GLUT3</text>
<text x="361.00" y="553.10" font-size="8.8" font-weight="bold">Actin</text>
<text x="404.80" y="479.60" font-size="16" font-weight="bold">j</text>
<text x="419.20" y="522.40" font-size="9.2" font-weight="bold" text-anchor="middle" transform="rotate(-90 419.20 522.40)">mRNA (fold)</text>
<line x1="433.30" y1="494.00" x2="433.30" y2="551.70" stroke="#000" stroke-width="1.0"/>
<line x1="431.00" y1="551.70" x2="482.50" y2="551.70" stroke="#000" stroke-width="1.3"/>
<line x1="431.10" y1="551.70" x2="433.30" y2="551.70" stroke="#000" stroke-width="1"/>
<text x="428.70" y="554.87" font-size="8.8" text-anchor="end" fill="#222">0</text>
<line x1="431.10" y1="532.47" x2="433.30" y2="532.47" stroke="#000" stroke-width="1"/>
<text x="428.70" y="535.64" font-size="8.8" text-anchor="end" fill="#222">1</text>
<line x1="431.10" y1="513.24" x2="433.30" y2="513.24" stroke="#000" stroke-width="1"/>
<text x="428.70" y="516.41" font-size="8.8" text-anchor="end" fill="#222">2</text>
<line x1="431.10" y1="494.01" x2="433.30" y2="494.01" stroke="#000" stroke-width="1"/>
<text x="428.70" y="497.18" font-size="8.8" text-anchor="end" fill="#222">3</text>
<rect x="440.20" y="532.47" width="10.30" height="19.23" fill="#efc6f6" stroke="#000" stroke-width="1"/>
<line x1="445.35" y1="532.47" x2="445.35" y2="531.32" stroke="#000" stroke-width="1"/>
<line x1="442.75" y1="531.32" x2="447.95" y2="531.32" stroke="#000" stroke-width="1"/>
<circle cx="442.75" cy="533.03" r="1.20" fill="#8410b4"/>
<circle cx="445.35" cy="532.48" r="1.20" fill="#8410b4"/>
<circle cx="447.95" cy="533.32" r="1.20" fill="#8410b4"/>
<rect x="452.30" y="522.86" width="10.20" height="28.84" fill="#b04fd8" stroke="#000" stroke-width="1"/>
<line x1="457.40" y1="522.86" x2="457.40" y2="521.89" stroke="#000" stroke-width="1"/>
<line x1="454.80" y1="521.89" x2="460.00" y2="521.89" stroke="#000" stroke-width="1"/>
<circle cx="454.80" cy="522.67" r="1.20" fill="#8410b4"/>
<circle cx="457.40" cy="522.26" r="1.20" fill="#8410b4"/>
<circle cx="460.00" cy="522.17" r="1.20" fill="#8410b4"/>
<rect x="464.00" y="507.86" width="10.60" height="43.84" fill="#b04fd8" stroke="#000" stroke-width="1"/>
<line x1="469.30" y1="507.86" x2="469.30" y2="503.05" stroke="#000" stroke-width="1"/>
<line x1="466.70" y1="503.05" x2="471.90" y2="503.05" stroke="#000" stroke-width="1"/>
<circle cx="466.70" cy="505.59" r="1.20" fill="#8410b4"/>
<circle cx="469.30" cy="510.79" r="1.20" fill="#8410b4"/>
<circle cx="471.90" cy="509.93" r="1.20" fill="#8410b4"/>
<text x="440.60" y="497.30" font-size="8.6" fill="#222" textLength="33.00" lengthAdjust="spacingAndGlyphs"><tspan font-style="italic">p</tspan> &lt; 0.0001</text>
<line x1="445.30" y1="499.60" x2="469.30" y2="499.60" stroke="#333" stroke-width="0.9"/>
<text x="435.70" y="514.00" font-size="8.6" fill="#222" textLength="24.80" lengthAdjust="spacingAndGlyphs"><tspan font-style="italic">p</tspan> = 0.01</text>
<line x1="445.30" y1="516.50" x2="457.40" y2="516.50" stroke="#333" stroke-width="0.9"/>
<text x="445.80" y="563.90" font-size="9.2" font-weight="bold" text-anchor="middle">0</text>
<text x="457.20" y="563.90" font-size="9.2" font-weight="bold" text-anchor="middle">1</text>
<text x="469.70" y="563.90" font-size="9.2" font-weight="bold" text-anchor="middle">3</text>
<text x="474.80" y="563.90" font-size="9.2" font-weight="bold">(d)</text>
<text x="454.80" y="485.50" font-size="9" font-weight="bold" font-style="italic" text-anchor="middle">SLC2A1</text>
<line x1="495.20" y1="494.00" x2="495.20" y2="551.70" stroke="#000" stroke-width="1.0"/>
<line x1="492.90" y1="551.70" x2="543.70" y2="551.70" stroke="#000" stroke-width="1.3"/>
<line x1="493.00" y1="551.70" x2="495.20" y2="551.70" stroke="#000" stroke-width="1"/>
<text x="490.60" y="554.87" font-size="8.8" text-anchor="end" fill="#222">0</text>
<line x1="493.00" y1="532.47" x2="495.20" y2="532.47" stroke="#000" stroke-width="1"/>
<text x="490.60" y="535.64" font-size="8.8" text-anchor="end" fill="#222">1</text>
<line x1="493.00" y1="513.24" x2="495.20" y2="513.24" stroke="#000" stroke-width="1"/>
<text x="490.60" y="516.41" font-size="8.8" text-anchor="end" fill="#222">2</text>
<line x1="493.00" y1="494.01" x2="495.20" y2="494.01" stroke="#000" stroke-width="1"/>
<text x="490.60" y="497.18" font-size="8.8" text-anchor="end" fill="#222">3</text>
<rect x="501.10" y="532.47" width="11.20" height="19.23" fill="#efc6f6" stroke="#000" stroke-width="1"/>
<line x1="506.70" y1="532.47" x2="506.70" y2="531.51" stroke="#000" stroke-width="1"/>
<line x1="504.10" y1="531.51" x2="509.30" y2="531.51" stroke="#000" stroke-width="1"/>
<circle cx="504.10" cy="532.19" r="1.20" fill="#8410b4"/>
<circle cx="506.70" cy="532.95" r="1.20" fill="#8410b4"/>
<circle cx="509.30" cy="532.42" r="1.20" fill="#8410b4"/>
<rect x="513.40" y="524.39" width="10.80" height="27.31" fill="#b04fd8" stroke="#000" stroke-width="1"/>
<line x1="518.80" y1="524.39" x2="518.80" y2="520.93" stroke="#000" stroke-width="1"/>
<line x1="516.20" y1="520.93" x2="521.40" y2="520.93" stroke="#000" stroke-width="1"/>
<circle cx="516.20" cy="521.82" r="1.20" fill="#8410b4"/>
<circle cx="518.80" cy="526.04" r="1.20" fill="#8410b4"/>
<circle cx="521.40" cy="523.62" r="1.20" fill="#8410b4"/>
<rect x="525.70" y="517.09" width="10.80" height="34.61" fill="#b04fd8" stroke="#000" stroke-width="1"/>
<line x1="531.10" y1="517.09" x2="531.10" y2="516.12" stroke="#000" stroke-width="1"/>
<line x1="528.50" y1="516.12" x2="533.70" y2="516.12" stroke="#000" stroke-width="1"/>
<circle cx="528.50" cy="516.94" r="1.20" fill="#8410b4"/>
<circle cx="531.10" cy="517.30" r="1.20" fill="#8410b4"/>
<circle cx="533.70" cy="516.68" r="1.20" fill="#8410b4"/>
<text x="501.80" y="501.20" font-size="8.6" fill="#222" textLength="33.80" lengthAdjust="spacingAndGlyphs"><tspan font-style="italic">p</tspan> = 0.0002</text>
<line x1="506.70" y1="503.70" x2="531.10" y2="503.70" stroke="#333" stroke-width="0.9"/>
<text x="497.90" y="514.50" font-size="8.6" fill="#222" textLength="30.30" lengthAdjust="spacingAndGlyphs"><tspan font-style="italic">p</tspan> = 0.005</text>
<line x1="506.70" y1="517.00" x2="518.80" y2="517.00" stroke="#333" stroke-width="0.9"/>
<text x="507.30" y="563.90" font-size="9.2" font-weight="bold" text-anchor="middle">0</text>
<text x="519.30" y="563.90" font-size="9.2" font-weight="bold" text-anchor="middle">1</text>
<text x="531.10" y="563.90" font-size="9.2" font-weight="bold" text-anchor="middle">3</text>
<text x="536.30" y="563.90" font-size="9.2" font-weight="bold">(d)</text>
<text x="518.30" y="485.50" font-size="9" font-weight="bold" font-style="italic" text-anchor="middle">SLC2A3</text>
<line x1="559.70" y1="494.00" x2="559.70" y2="551.70" stroke="#000" stroke-width="1.0"/>
<line x1="557.40" y1="551.70" x2="608.40" y2="551.70" stroke="#000" stroke-width="1.3"/>
<line x1="557.50" y1="551.70" x2="559.70" y2="551.70" stroke="#000" stroke-width="1"/>
<text x="555.10" y="554.87" font-size="8.8" text-anchor="end" fill="#222">0</text>
<line x1="557.50" y1="532.47" x2="559.70" y2="532.47" stroke="#000" stroke-width="1"/>
<text x="555.10" y="535.64" font-size="8.8" text-anchor="end" fill="#222">1</text>
<line x1="557.50" y1="513.24" x2="559.70" y2="513.24" stroke="#000" stroke-width="1"/>
<text x="555.10" y="516.41" font-size="8.8" text-anchor="end" fill="#222">2</text>
<line x1="557.50" y1="494.01" x2="559.70" y2="494.01" stroke="#000" stroke-width="1"/>
<text x="555.10" y="497.18" font-size="8.8" text-anchor="end" fill="#222">3</text>
<rect x="566.40" y="532.47" width="10.90" height="19.23" fill="#efc6f6" stroke="#000" stroke-width="1"/>
<line x1="571.85" y1="532.47" x2="571.85" y2="532.09" stroke="#000" stroke-width="1"/>
<line x1="569.25" y1="532.09" x2="574.45" y2="532.09" stroke="#000" stroke-width="1"/>
<circle cx="569.25" cy="532.77" r="1.20" fill="#8410b4"/>
<circle cx="571.85" cy="532.22" r="1.20" fill="#8410b4"/>
<circle cx="574.45" cy="532.29" r="1.20" fill="#8410b4"/>
<rect x="578.40" y="532.09" width="10.60" height="19.61" fill="#d983f0" stroke="#000" stroke-width="1"/>
<line x1="583.70" y1="532.09" x2="583.70" y2="531.51" stroke="#000" stroke-width="1"/>
<line x1="581.10" y1="531.51" x2="586.30" y2="531.51" stroke="#000" stroke-width="1"/>
<circle cx="581.10" cy="531.63" r="1.20" fill="#8410b4"/>
<circle cx="583.70" cy="532.21" r="1.20" fill="#8410b4"/>
<circle cx="586.30" cy="532.42" r="1.20" fill="#8410b4"/>
<rect x="590.40" y="535.16" width="10.60" height="16.54" fill="#d983f0" stroke="#000" stroke-width="1"/>
<line x1="595.70" y1="535.16" x2="595.70" y2="534.78" stroke="#000" stroke-width="1"/>
<line x1="593.10" y1="534.78" x2="598.30" y2="534.78" stroke="#000" stroke-width="1"/>
<circle cx="593.10" cy="535.14" r="1.20" fill="#8410b4"/>
<circle cx="595.70" cy="535.18" r="1.20" fill="#8410b4"/>
<circle cx="598.30" cy="535.03" r="1.20" fill="#8410b4"/>
<text x="568.60" y="509.60" font-size="8.6" fill="#222" textLength="29.50" lengthAdjust="spacingAndGlyphs"><tspan font-style="italic">p</tspan> = 0.004</text>
<line x1="571.80" y1="512.30" x2="595.70" y2="512.30" stroke="#333" stroke-width="0.9"/>
<text x="565.20" y="522.90" font-size="8.6" fill="#222" textLength="25.50" lengthAdjust="spacingAndGlyphs"><tspan font-style="italic">p</tspan> &gt; 0.99</text>
<line x1="571.80" y1="525.30" x2="583.70" y2="525.30" stroke="#333" stroke-width="0.9"/>
<text x="571.70" y="563.90" font-size="9.2" font-weight="bold" text-anchor="middle">0</text>
<text x="583.30" y="563.90" font-size="9.2" font-weight="bold" text-anchor="middle">1</text>
<text x="595.60" y="563.90" font-size="9.2" font-weight="bold" text-anchor="middle">3</text>
<text x="600.80" y="563.90" font-size="9.2" font-weight="bold">(d)</text>
<text x="583.40" y="485.50" font-size="9" font-weight="bold" font-style="italic" text-anchor="middle">SLC2A1</text>
<line x1="620.60" y1="494.00" x2="620.60" y2="551.70" stroke="#000" stroke-width="1.0"/>
<line x1="618.30" y1="551.70" x2="669.50" y2="551.70" stroke="#000" stroke-width="1.3"/>
<line x1="618.40" y1="551.70" x2="620.60" y2="551.70" stroke="#000" stroke-width="1"/>
<text x="616.00" y="554.87" font-size="8.8" text-anchor="end" fill="#222">0</text>
<line x1="618.40" y1="532.47" x2="620.60" y2="532.47" stroke="#000" stroke-width="1"/>
<text x="616.00" y="535.64" font-size="8.8" text-anchor="end" fill="#222">1</text>
<line x1="618.40" y1="513.24" x2="620.60" y2="513.24" stroke="#000" stroke-width="1"/>
<text x="616.00" y="516.41" font-size="8.8" text-anchor="end" fill="#222">2</text>
<line x1="618.40" y1="494.01" x2="620.60" y2="494.01" stroke="#000" stroke-width="1"/>
<text x="616.00" y="497.18" font-size="8.8" text-anchor="end" fill="#222">3</text>
<rect x="627.50" y="532.47" width="10.80" height="19.23" fill="#efc6f6" stroke="#000" stroke-width="1"/>
<line x1="632.90" y1="532.47" x2="632.90" y2="531.51" stroke="#000" stroke-width="1"/>
<line x1="630.30" y1="531.51" x2="635.50" y2="531.51" stroke="#000" stroke-width="1"/>
<circle cx="630.30" cy="532.90" r="1.20" fill="#8410b4"/>
<circle cx="632.90" cy="532.46" r="1.20" fill="#8410b4"/>
<circle cx="635.50" cy="532.30" r="1.20" fill="#8410b4"/>
<rect x="639.30" y="532.09" width="10.80" height="19.61" fill="#d983f0" stroke="#000" stroke-width="1"/>
<line x1="644.70" y1="532.09" x2="644.70" y2="531.51" stroke="#000" stroke-width="1"/>
<line x1="642.10" y1="531.51" x2="647.30" y2="531.51" stroke="#000" stroke-width="1"/>
<circle cx="642.10" cy="531.82" r="1.20" fill="#8410b4"/>
<circle cx="644.70" cy="532.47" r="1.20" fill="#8410b4"/>
<circle cx="647.30" cy="531.88" r="1.20" fill="#8410b4"/>
<rect x="651.50" y="533.05" width="10.40" height="18.65" fill="#d983f0" stroke="#000" stroke-width="1"/>
<line x1="656.70" y1="533.05" x2="656.70" y2="532.28" stroke="#000" stroke-width="1"/>
<line x1="654.10" y1="532.28" x2="659.30" y2="532.28" stroke="#000" stroke-width="1"/>
<circle cx="654.10" cy="533.07" r="1.20" fill="#8410b4"/>
<circle cx="656.70" cy="533.30" r="1.20" fill="#8410b4"/>
<circle cx="659.30" cy="533.60" r="1.20" fill="#8410b4"/>
<text x="631.10" y="510.80" font-size="8.6" fill="#222" textLength="26.10" lengthAdjust="spacingAndGlyphs"><tspan font-style="italic">p</tspan> = 0.86</text>
<line x1="632.90" y1="513.50" x2="656.70" y2="513.50" stroke="#333" stroke-width="0.9"/>
<text x="625.70" y="523.80" font-size="8.6" fill="#222" textLength="25.60" lengthAdjust="spacingAndGlyphs"><tspan font-style="italic">p</tspan> = 0.89</text>
<line x1="632.90" y1="526.30" x2="644.70" y2="526.30" stroke="#333" stroke-width="0.9"/>
<text x="632.80" y="563.90" font-size="9.2" font-weight="bold" text-anchor="middle">0</text>
<text x="644.90" y="563.90" font-size="9.2" font-weight="bold" text-anchor="middle">1</text>
<text x="656.70" y="563.90" font-size="9.2" font-weight="bold" text-anchor="middle">3</text>
<text x="661.80" y="563.90" font-size="9.2" font-weight="bold">(d)</text>
<text x="640.80" y="485.50" font-size="9" font-weight="bold" font-style="italic" text-anchor="middle">SLC2A3</text>
<line x1="441.30" y1="569.70" x2="541.40" y2="569.70" stroke="#ef90e9" stroke-width="1.6"/>
<line x1="567.00" y1="569.40" x2="668.00" y2="569.40" stroke="#a8d2e2" stroke-width="1.8"/>
<text x="491.40" y="580.80" font-size="9.2" font-weight="bold" text-anchor="middle">BaP (1 µM)</text>
<text x="617.30" y="580.80" font-size="9.2" font-weight="bold" text-anchor="middle">NNK (1 µM)</text>
<text x="5.60" y="624.00" font-size="15.2" font-weight="bold">k</text>
<text x="18.90" y="635.00" font-size="8.6" fill="#222">kDa</text>
<text x="49.40" y="634.80" font-size="9" font-weight="bold" text-anchor="middle">0</text>
<text x="70.70" y="634.80" font-size="9" font-weight="bold" text-anchor="middle">0.01</text>
<text x="92.40" y="634.80" font-size="9" font-weight="bold" text-anchor="middle">0.1</text>
<text x="112.30" y="634.80" font-size="9" font-weight="bold" text-anchor="middle">1</text>
<text x="122.00" y="634.80" font-size="9" font-weight="bold">NNK (µM)</text>
<line x1="18.00" y1="640.20" x2="18.00" y2="706.80" stroke="#a8c8ee" stroke-width="1.8"/>
<text x="13.80" y="673.50" font-size="9.2" font-weight="bold" text-anchor="middle" transform="rotate(-90 13.80 673.50)">MEM (12 h)</text>
<text x="33.00" y="646.10" font-size="8.6" text-anchor="end" fill="#222">60</text>
<line x1="34.70" y1="643.00" x2="45.80" y2="643.00" stroke="#222" stroke-width="0.9"/>
<text x="33.00" y="670.20" font-size="8.6" text-anchor="end" fill="#222">60</text>
<line x1="34.70" y1="667.10" x2="45.80" y2="667.10" stroke="#222" stroke-width="0.9"/>
<text x="33.00" y="697.40" font-size="8.6" text-anchor="end" fill="#222">100</text>
<line x1="34.70" y1="694.30" x2="45.80" y2="694.30" stroke="#222" stroke-width="0.9"/>
<rect x="41.60" y="640.20" width="81.80" height="20.30" fill="#e4e4e4" rx="0.8"/>
<g clip-path="url(#cbl10)"><g filter="url(#blurband)"><rect x="43.30" y="640.20" width="16.00" height="20.30" fill="#000" opacity="0.05"/><ellipse cx="51.30" cy="650.00" rx="7.23" ry="3.74" fill="#0a0a0a" opacity="0.04"/><ellipse cx="51.30" cy="650.00" rx="6.23" ry="1.44" fill="#0a0a0a" opacity="0.20"/><rect x="65.50" y="640.20" width="16.00" height="20.30" fill="#000" opacity="0.05"/><ellipse cx="73.50" cy="650.00" rx="7.48" ry="4.12" fill="#0a0a0a" opacity="0.08"/><ellipse cx="73.50" cy="650.00" rx="6.48" ry="1.58" fill="#0a0a0a" opacity="0.38"/><rect x="84.90" y="640.20" width="16.00" height="20.30" fill="#000" opacity="0.05"/><ellipse cx="92.90" cy="650.00" rx="7.72" ry="4.47" fill="#0a0a0a" opacity="0.12"/><ellipse cx="92.90" cy="650.00" rx="6.72" ry="1.72" fill="#0a0a0a" opacity="0.55"/><rect x="105.70" y="640.20" width="16.00" height="20.30" fill="#000" opacity="0.05"/><ellipse cx="113.70" cy="650.00" rx="8.18" ry="5.16" fill="#0a0a0a" opacity="0.19"/><ellipse cx="113.70" cy="650.00" rx="7.18" ry="1.98" fill="#0a0a0a" opacity="0.88"/></g></g>
<rect x="41.60" y="640.20" width="81.80" height="20.30" fill="none" stroke="#333" stroke-width="1.0" rx="0.8"/>
<rect x="41.60" y="663.20" width="81.80" height="20.80" fill="#e4e4e4" rx="0.8"/>
<g clip-path="url(#cbl11)"><g filter="url(#blurband)"><rect x="43.30" y="663.20" width="16.00" height="20.80" fill="#000" opacity="0.05"/><ellipse cx="51.30" cy="672.70" rx="7.09" ry="3.76" fill="#0a0a0a" opacity="0.02"/><ellipse cx="51.30" cy="672.70" rx="6.09" ry="1.45" fill="#0a0a0a" opacity="0.10"/><rect x="65.50" y="663.20" width="16.00" height="20.80" fill="#000" opacity="0.05"/><ellipse cx="73.50" cy="672.70" rx="7.26" ry="4.02" fill="#0a0a0a" opacity="0.05"/><ellipse cx="73.50" cy="672.70" rx="6.26" ry="1.55" fill="#0a0a0a" opacity="0.22"/><rect x="84.90" y="663.20" width="16.00" height="20.80" fill="#000" opacity="0.05"/><ellipse cx="92.90" cy="672.70" rx="7.48" ry="4.38" fill="#0a0a0a" opacity="0.08"/><ellipse cx="92.90" cy="672.70" rx="6.48" ry="1.68" fill="#0a0a0a" opacity="0.38"/><rect x="105.70" y="663.20" width="16.00" height="20.80" fill="#000" opacity="0.05"/><ellipse cx="113.70" cy="672.70" rx="8.00" ry="5.19" fill="#0a0a0a" opacity="0.17"/><ellipse cx="113.70" cy="672.70" rx="7.00" ry="2.00" fill="#0a0a0a" opacity="0.75"/></g></g>
<rect x="41.60" y="663.20" width="81.80" height="20.80" fill="none" stroke="#333" stroke-width="1.0" rx="0.8"/>
<rect x="41.60" y="686.50" width="81.80" height="21.10" fill="#dcdcdc" rx="0.8"/>
<g clip-path="url(#cbl12)"><g filter="url(#blurband)"><rect x="42.80" y="686.50" width="17.00" height="21.10" fill="#000" opacity="0.05"/><ellipse cx="51.30" cy="696.50" rx="8.88" ry="8.45" fill="#0a0a0a" opacity="0.22"/><ellipse cx="51.30" cy="696.50" rx="7.88" ry="3.25" fill="#0a0a0a" opacity="1.00"/><rect x="65.00" y="686.50" width="17.00" height="21.10" fill="#000" opacity="0.05"/><ellipse cx="73.50" cy="696.50" rx="8.88" ry="8.45" fill="#0a0a0a" opacity="0.22"/><ellipse cx="73.50" cy="696.50" rx="7.88" ry="3.25" fill="#0a0a0a" opacity="1.00"/><rect x="84.40" y="686.50" width="17.00" height="21.10" fill="#000" opacity="0.05"/><ellipse cx="92.90" cy="696.50" rx="8.88" ry="8.45" fill="#0a0a0a" opacity="0.22"/><ellipse cx="92.90" cy="696.50" rx="7.88" ry="3.25" fill="#0a0a0a" opacity="1.00"/><rect x="105.20" y="686.50" width="17.00" height="21.10" fill="#000" opacity="0.05"/><ellipse cx="113.70" cy="696.50" rx="8.88" ry="8.45" fill="#0a0a0a" opacity="0.22"/><ellipse cx="113.70" cy="696.50" rx="7.88" ry="3.25" fill="#0a0a0a" opacity="1.00"/></g></g>
<rect x="41.60" y="686.50" width="81.80" height="21.10" fill="none" stroke="#333" stroke-width="1.0" rx="0.8"/>
<text x="126.20" y="653.30" font-size="8.8" font-weight="bold">GLUT1</text>
<text x="126.20" y="676.80" font-size="8.8" font-weight="bold">GLUT3</text>
<text x="126.20" y="694.30" font-size="8.8" font-weight="bold">Na<tspan font-size="5.6" dy="-3.2">+</tspan><tspan dy="3.2">K</tspan><tspan font-size="5.6" dy="-3.2">+</tspan></text>
<text x="126.20" y="705.90" font-size="8.8" font-weight="bold">ATPase</text>
<text x="186.00" y="635.00" font-size="8.6" fill="#222">kDa</text>
<text x="216.00" y="634.80" font-size="9" font-weight="bold" text-anchor="middle">Veh</text>
<text x="239.00" y="634.80" font-size="9" font-weight="bold" text-anchor="middle">NNK</text>
<text x="260.00" y="634.80" font-size="9" font-weight="bold" text-anchor="middle">BaP</text>
<text x="274.20" y="634.80" font-size="9" font-weight="bold">(1 µM)</text>
<line x1="185.30" y1="639.20" x2="185.30" y2="705.80" stroke="#a8c8ee" stroke-width="1.8"/>
<text x="180.00" y="672.00" font-size="9.2" font-weight="bold" text-anchor="middle" transform="rotate(-90 180.00 672.00)">MEM (12h)</text>
<text x="200.70" y="645.40" font-size="8.6" text-anchor="end" fill="#222">60</text>
<line x1="202.00" y1="642.30" x2="213.00" y2="642.30" stroke="#222" stroke-width="0.9"/>
<text x="200.70" y="669.10" font-size="8.6" text-anchor="end" fill="#222">60</text>
<line x1="202.00" y1="666.00" x2="213.00" y2="666.00" stroke="#222" stroke-width="0.9"/>
<text x="200.70" y="696.60" font-size="8.6" text-anchor="end" fill="#222">100</text>
<line x1="202.00" y1="693.50" x2="213.00" y2="693.50" stroke="#222" stroke-width="0.9"/>
<rect x="209.00" y="639.20" width="62.20" height="20.60" fill="#e4e4e4" rx="0.8"/>
<g clip-path="url(#cbl13)"><g filter="url(#blurband)"><rect x="208.00" y="639.20" width="16.00" height="20.60" fill="#000" opacity="0.05"/><ellipse cx="216.00" cy="649.00" rx="7.12" ry="2.91" fill="#0a0a0a" opacity="0.03"/><ellipse cx="216.00" cy="649.00" rx="6.12" ry="1.12" fill="#0a0a0a" opacity="0.12"/><rect x="231.00" y="639.20" width="16.00" height="20.60" fill="#000" opacity="0.05"/><ellipse cx="239.00" cy="649.00" rx="8.14" ry="4.14" fill="#0a0a0a" opacity="0.19"/><ellipse cx="239.00" cy="649.00" rx="7.14" ry="1.59" fill="#0a0a0a" opacity="0.85"/><rect x="252.00" y="639.20" width="16.00" height="20.60" fill="#000" opacity="0.05"/><ellipse cx="260.00" cy="649.00" rx="7.23" ry="3.04" fill="#0a0a0a" opacity="0.04"/><ellipse cx="260.00" cy="649.00" rx="6.23" ry="1.17" fill="#0a0a0a" opacity="0.20"/></g></g>
<rect x="209.00" y="639.20" width="62.20" height="20.60" fill="none" stroke="#333" stroke-width="1.0" rx="0.8"/>
<rect x="209.00" y="662.80" width="62.20" height="20.90" fill="#e4e4e4" rx="0.8"/>
<g clip-path="url(#cbl14)"><g filter="url(#blurband)"><rect x="208.00" y="662.80" width="16.00" height="20.90" fill="#000" opacity="0.05"/><ellipse cx="216.00" cy="673.00" rx="7.58" ry="3.73" fill="#0a0a0a" opacity="0.10"/><ellipse cx="216.00" cy="673.00" rx="6.58" ry="1.44" fill="#0a0a0a" opacity="0.45"/><rect x="231.00" y="662.80" width="16.00" height="20.90" fill="#000" opacity="0.05"/><ellipse cx="239.00" cy="673.00" rx="8.00" ry="4.28" fill="#0a0a0a" opacity="0.17"/><ellipse cx="239.00" cy="673.00" rx="7.00" ry="1.65" fill="#0a0a0a" opacity="0.75"/><rect x="252.00" y="662.80" width="16.00" height="20.90" fill="#000" opacity="0.05"/><ellipse cx="260.00" cy="673.00" rx="7.37" ry="3.46" fill="#0a0a0a" opacity="0.07"/><ellipse cx="260.00" cy="673.00" rx="6.37" ry="1.33" fill="#0a0a0a" opacity="0.30"/></g></g>
<rect x="209.00" y="662.80" width="62.20" height="20.90" fill="none" stroke="#333" stroke-width="1.0" rx="0.8"/>
<rect x="209.00" y="686.40" width="62.20" height="20.90" fill="#dcdcdc" rx="0.8"/>
<g clip-path="url(#cbl15)"><g filter="url(#blurband)"><rect x="207.00" y="686.40" width="18.00" height="20.90" fill="#000" opacity="0.05"/><ellipse cx="216.00" cy="697.50" rx="9.40" ry="7.77" fill="#0a0a0a" opacity="0.22"/><ellipse cx="216.00" cy="697.50" rx="8.40" ry="2.99" fill="#0a0a0a" opacity="1.00"/><rect x="230.00" y="686.40" width="18.00" height="20.90" fill="#000" opacity="0.05"/><ellipse cx="239.00" cy="697.50" rx="9.32" ry="7.62" fill="#0a0a0a" opacity="0.21"/><ellipse cx="239.00" cy="697.50" rx="8.32" ry="2.93" fill="#0a0a0a" opacity="0.95"/><rect x="251.00" y="686.40" width="18.00" height="20.90" fill="#000" opacity="0.05"/><ellipse cx="260.00" cy="697.50" rx="9.16" ry="7.33" fill="#0a0a0a" opacity="0.19"/><ellipse cx="260.00" cy="697.50" rx="8.16" ry="2.82" fill="#0a0a0a" opacity="0.85"/></g></g>
<rect x="209.00" y="686.40" width="62.20" height="20.90" fill="none" stroke="#333" stroke-width="1.0" rx="0.8"/>
<text x="274.20" y="652.30" font-size="8.8" font-weight="bold">GLUT1</text>
<text x="274.20" y="676.30" font-size="8.8" font-weight="bold">GLUT3</text>
<text x="274.20" y="694.70" font-size="8.8" font-weight="bold">Na<tspan font-size="5.6" dy="-3.2">+</tspan><tspan dy="3.2">K</tspan><tspan font-size="5.6" dy="-3.2">+</tspan></text>
<text x="274.20" y="706.00" font-size="8.8" font-weight="bold">ATPase</text>
<text x="353.60" y="618.00" font-size="16" font-weight="bold">l</text>
<text x="397.50" y="622.40" font-size="9" font-weight="bold" text-anchor="middle">-</text>
<text x="418.00" y="622.40" font-size="9" font-weight="bold" text-anchor="middle">+</text>
<text x="438.90" y="622.40" font-size="9" font-weight="bold" text-anchor="middle">-</text>
<text x="458.80" y="622.40" font-size="9" font-weight="bold" text-anchor="middle">+</text>
<text x="471.00" y="622.40" font-size="9" font-weight="bold">NNK (12 h)</text>
<text x="364.70" y="634.60" font-size="8.6" fill="#222">kDa</text>
<text x="397.50" y="634.60" font-size="9" font-weight="bold" text-anchor="middle">-</text>
<text x="418.00" y="634.60" font-size="9" font-weight="bold" text-anchor="middle">-</text>
<text x="438.90" y="634.60" font-size="9" font-weight="bold" text-anchor="middle">+</text>
<text x="458.80" y="634.60" font-size="9" font-weight="bold" text-anchor="middle">+</text>
<text x="471.00" y="634.60" font-size="9" font-weight="bold">BaP (3 d)</text>
<line x1="364.40" y1="639.20" x2="364.40" y2="706.00" stroke="#a8c8ee" stroke-width="1.8"/>
<text x="360.00" y="673.60" font-size="9.2" font-weight="bold" text-anchor="middle" transform="rotate(-90 360.00 673.60)">MEM</text>
<text x="380.50" y="645.40" font-size="8.6" text-anchor="end" fill="#222">60</text>
<line x1="382.00" y1="642.30" x2="393.00" y2="642.30" stroke="#222" stroke-width="0.9"/>
<text x="380.50" y="669.10" font-size="8.6" text-anchor="end" fill="#222">60</text>
<line x1="382.00" y1="666.00" x2="393.00" y2="666.00" stroke="#222" stroke-width="0.9"/>
<text x="380.50" y="696.60" font-size="8.6" text-anchor="end" fill="#222">100</text>
<line x1="382.00" y1="693.50" x2="393.00" y2="693.50" stroke="#222" stroke-width="0.9"/>
<rect x="388.30" y="639.20" width="82.20" height="20.80" fill="#e4e4e4" rx="0.8"/>
<g clip-path="url(#cbl16)"><g filter="url(#blurband)"><rect x="388.50" y="639.20" width="19.00" height="20.80" fill="#000" opacity="0.05"/><ellipse cx="398.00" cy="649.50" rx="8.77" ry="6.24" fill="#0a0a0a" opacity="0.10"/><ellipse cx="398.00" cy="649.50" rx="7.77" ry="2.40" fill="#0a0a0a" opacity="0.32"/><rect x="409.00" y="639.20" width="19.00" height="20.80" fill="#000" opacity="0.05"/><ellipse cx="418.50" cy="649.50" rx="9.07" ry="6.83" fill="#0a0a0a" opacity="0.15"/><ellipse cx="418.50" cy="649.50" rx="8.07" ry="2.62" fill="#0a0a0a" opacity="0.50"/><rect x="429.50" y="639.20" width="19.00" height="20.80" fill="#000" opacity="0.05"/><ellipse cx="439.00" cy="649.50" rx="9.16" ry="6.99" fill="#0a0a0a" opacity="0.17"/><ellipse cx="439.00" cy="649.50" rx="8.16" ry="2.69" fill="#0a0a0a" opacity="0.55"/><rect x="449.50" y="639.20" width="19.00" height="20.80" fill="#000" opacity="0.05"/><ellipse cx="459.00" cy="649.50" rx="9.84" ry="8.29" fill="#0a0a0a" opacity="0.28"/><ellipse cx="459.00" cy="649.50" rx="8.84" ry="3.19" fill="#0a0a0a" opacity="0.95"/></g></g>
<rect x="388.30" y="639.20" width="82.20" height="20.80" fill="none" stroke="#333" stroke-width="1.0" rx="0.8"/>
<rect x="388.30" y="662.80" width="82.20" height="20.90" fill="#e4e4e4" rx="0.8"/>
<g clip-path="url(#cbl17)"><g filter="url(#blurband)"><rect x="389.00" y="662.80" width="18.00" height="20.90" fill="#000" opacity="0.05"/><ellipse cx="398.00" cy="673.50" rx="7.99" ry="3.35" fill="#0a0a0a" opacity="0.03"/><ellipse cx="398.00" cy="673.50" rx="6.99" ry="1.29" fill="#0a0a0a" opacity="0.12"/><rect x="409.50" y="662.80" width="18.00" height="20.90" fill="#000" opacity="0.05"/><ellipse cx="418.50" cy="673.50" rx="8.41" ry="3.86" fill="#0a0a0a" opacity="0.08"/><ellipse cx="418.50" cy="673.50" rx="7.41" ry="1.48" fill="#0a0a0a" opacity="0.38"/><rect x="430.00" y="662.80" width="18.00" height="20.90" fill="#000" opacity="0.05"/><ellipse cx="439.00" cy="673.50" rx="8.52" ry="4.00" fill="#0a0a0a" opacity="0.10"/><ellipse cx="439.00" cy="673.50" rx="7.52" ry="1.54" fill="#0a0a0a" opacity="0.45"/><rect x="450.00" y="662.80" width="18.00" height="20.90" fill="#000" opacity="0.05"/><ellipse cx="459.00" cy="673.50" rx="8.76" ry="4.29" fill="#0a0a0a" opacity="0.13"/><ellipse cx="459.00" cy="673.50" rx="7.76" ry="1.65" fill="#0a0a0a" opacity="0.60"/></g></g>
<rect x="388.30" y="662.80" width="82.20" height="20.90" fill="none" stroke="#333" stroke-width="1.0" rx="0.8"/>
<rect x="388.30" y="686.40" width="82.20" height="20.90" fill="#e4e4e4" rx="0.8"/>
<g clip-path="url(#cbl18)"><g filter="url(#blurband)"><rect x="388.50" y="686.40" width="19.00" height="20.90" fill="#000" opacity="0.05"/><ellipse cx="398.00" cy="697.00" rx="9.50" ry="5.80" fill="#0a0a0a" opacity="0.17"/><ellipse cx="398.00" cy="697.00" rx="8.50" ry="2.23" fill="#0a0a0a" opacity="0.75"/><rect x="409.00" y="686.40" width="19.00" height="20.90" fill="#000" opacity="0.05"/><ellipse cx="418.50" cy="697.00" rx="9.50" ry="5.80" fill="#0a0a0a" opacity="0.17"/><ellipse cx="418.50" cy="697.00" rx="8.50" ry="2.23" fill="#0a0a0a" opacity="0.75"/><rect x="429.50" y="686.40" width="19.00" height="20.90" fill="#000" opacity="0.05"/><ellipse cx="439.00" cy="697.00" rx="9.76" ry="6.17" fill="#0a0a0a" opacity="0.20"/><ellipse cx="439.00" cy="697.00" rx="8.76" ry="2.38" fill="#0a0a0a" opacity="0.90"/><rect x="449.50" y="686.40" width="19.00" height="20.90" fill="#000" opacity="0.05"/><ellipse cx="459.00" cy="697.00" rx="9.41" ry="5.68" fill="#0a0a0a" opacity="0.15"/><ellipse cx="459.00" cy="697.00" rx="8.41" ry="2.18" fill="#0a0a0a" opacity="0.70"/></g></g>
<rect x="388.30" y="686.40" width="82.20" height="20.90" fill="none" stroke="#333" stroke-width="1.0" rx="0.8"/>
<text x="473.50" y="652.30" font-size="8.8" font-weight="bold">GLUT1</text>
<text x="473.50" y="676.90" font-size="8.8" font-weight="bold">GLUT3</text>
<text x="473.50" y="694.70" font-size="8.8" font-weight="bold">Na<tspan font-size="5.6" dy="-3.2">+</tspan><tspan dy="3.2">K</tspan><tspan font-size="5.6" dy="-3.2">+</tspan></text>
<text x="473.50" y="706.00" font-size="8.8" font-weight="bold">ATPase</text>
<text x="549.00" y="622.20" font-size="16" font-weight="bold">m</text>
<line x1="596.10" y1="628.60" x2="596.10" y2="694.80" stroke="#000" stroke-width="1.0"/>
<line x1="594.10" y1="694.80" x2="655.40" y2="694.80" stroke="#000" stroke-width="1.3"/>
<line x1="593.90" y1="694.80" x2="596.10" y2="694.80" stroke="#000" stroke-width="1"/>
<text x="592.60" y="697.90" font-size="8.6" text-anchor="end" fill="#222">0</text>
<line x1="593.90" y1="672.73" x2="596.10" y2="672.73" stroke="#000" stroke-width="1"/>
<text x="592.60" y="675.83" font-size="8.6" text-anchor="end" fill="#222">100</text>
<line x1="593.90" y1="650.66" x2="596.10" y2="650.66" stroke="#000" stroke-width="1"/>
<text x="592.60" y="653.76" font-size="8.6" text-anchor="end" fill="#222">200</text>
<line x1="593.90" y1="628.59" x2="596.10" y2="628.59" stroke="#000" stroke-width="1"/>
<text x="592.60" y="631.69" font-size="8.6" text-anchor="end" fill="#222">300</text>
<rect x="602.10" y="673.17" width="10.90" height="21.63" fill="#efc8f5" stroke="#000" stroke-width="1.2"/>
<circle cx="605.37" cy="673.82" r="0.90" fill="#7a0fa8"/>
<circle cx="606.03" cy="671.91" r="0.90" fill="#7a0fa8"/>
<circle cx="611.51" cy="673.92" r="0.90" fill="#7a0fa8"/>
<circle cx="607.16" cy="673.71" r="0.90" fill="#7a0fa8"/>
<circle cx="603.69" cy="671.97" r="0.90" fill="#7a0fa8"/>
<circle cx="610.88" cy="672.56" r="0.90" fill="#7a0fa8"/>
<circle cx="610.98" cy="671.40" r="0.90" fill="#7a0fa8"/>
<circle cx="604.09" cy="674.16" r="0.90" fill="#7a0fa8"/>
<circle cx="607.17" cy="674.17" r="0.90" fill="#7a0fa8"/>
<circle cx="606.88" cy="670.24" r="0.90" fill="#7a0fa8"/>
<circle cx="608.40" cy="674.37" r="0.90" fill="#7a0fa8"/>
<circle cx="610.96" cy="676.57" r="0.90" fill="#7a0fa8"/>
<circle cx="611.99" cy="672.98" r="0.90" fill="#7a0fa8"/>
<circle cx="607.88" cy="672.94" r="0.90" fill="#7a0fa8"/>
<circle cx="602.92" cy="673.50" r="0.90" fill="#7a0fa8"/>
<circle cx="609.78" cy="674.01" r="0.90" fill="#7a0fa8"/>
<circle cx="602.74" cy="675.49" r="0.90" fill="#7a0fa8"/>
<circle cx="606.95" cy="669.24" r="0.90" fill="#7a0fa8"/>
<circle cx="612.13" cy="674.89" r="0.90" fill="#7a0fa8"/>
<circle cx="610.28" cy="674.75" r="0.90" fill="#7a0fa8"/>
<circle cx="604.91" cy="675.41" r="0.90" fill="#7a0fa8"/>
<circle cx="605.65" cy="674.03" r="0.90" fill="#7a0fa8"/>
<circle cx="612.02" cy="671.65" r="0.90" fill="#7a0fa8"/>
<circle cx="605.67" cy="675.38" r="0.90" fill="#7a0fa8"/>
<circle cx="609.25" cy="673.22" r="0.90" fill="#7a0fa8"/>
<circle cx="611.10" cy="675.71" r="0.90" fill="#7a0fa8"/>
<line x1="607.55" y1="673.17" x2="607.55" y2="668.54" stroke="#000" stroke-width="1"/>
<line x1="604.95" y1="668.54" x2="610.15" y2="668.54" stroke="#000" stroke-width="1"/>
<rect x="614.00" y="667.43" width="10.40" height="27.37" fill="#dc8cf2" stroke="#000" stroke-width="1.2"/>
<circle cx="623.34" cy="672.19" r="0.90" fill="#7a0fa8"/>
<circle cx="618.04" cy="665.32" r="0.90" fill="#7a0fa8"/>
<circle cx="620.82" cy="663.55" r="0.90" fill="#7a0fa8"/>
<circle cx="615.70" cy="667.87" r="0.90" fill="#7a0fa8"/>
<circle cx="620.41" cy="667.13" r="0.90" fill="#7a0fa8"/>
<circle cx="622.87" cy="671.54" r="0.90" fill="#7a0fa8"/>
<circle cx="621.52" cy="665.57" r="0.90" fill="#7a0fa8"/>
<circle cx="623.33" cy="671.26" r="0.90" fill="#7a0fa8"/>
<circle cx="617.38" cy="665.97" r="0.90" fill="#7a0fa8"/>
<circle cx="623.08" cy="668.03" r="0.90" fill="#7a0fa8"/>
<circle cx="620.88" cy="668.79" r="0.90" fill="#7a0fa8"/>
<circle cx="618.15" cy="667.01" r="0.90" fill="#7a0fa8"/>
<circle cx="621.48" cy="673.27" r="0.90" fill="#7a0fa8"/>
<circle cx="623.00" cy="666.05" r="0.90" fill="#7a0fa8"/>
<circle cx="614.86" cy="669.97" r="0.90" fill="#7a0fa8"/>
<circle cx="621.71" cy="665.61" r="0.90" fill="#7a0fa8"/>
<circle cx="623.09" cy="671.40" r="0.90" fill="#7a0fa8"/>
<circle cx="618.38" cy="664.04" r="0.90" fill="#7a0fa8"/>
<circle cx="618.57" cy="663.80" r="0.90" fill="#7a0fa8"/>
<circle cx="618.70" cy="665.30" r="0.90" fill="#7a0fa8"/>
<circle cx="621.06" cy="667.73" r="0.90" fill="#7a0fa8"/>
<circle cx="623.45" cy="667.43" r="0.90" fill="#7a0fa8"/>
<circle cx="621.52" cy="664.03" r="0.90" fill="#7a0fa8"/>
<circle cx="616.01" cy="674.62" r="0.90" fill="#7a0fa8"/>
<circle cx="619.87" cy="670.94" r="0.90" fill="#7a0fa8"/>
<circle cx="620.96" cy="672.62" r="0.90" fill="#7a0fa8"/>
<line x1="619.20" y1="667.43" x2="619.20" y2="661.25" stroke="#000" stroke-width="1"/>
<line x1="616.60" y1="661.25" x2="621.80" y2="661.25" stroke="#000" stroke-width="1"/>
<rect x="625.80" y="661.69" width="10.50" height="33.11" fill="#b452d8" stroke="#000" stroke-width="1.2"/>
<circle cx="628.28" cy="667.24" r="0.90" fill="#7a0fa8"/>
<circle cx="626.92" cy="653.73" r="0.90" fill="#7a0fa8"/>
<circle cx="631.10" cy="669.90" r="0.90" fill="#7a0fa8"/>
<circle cx="631.50" cy="667.87" r="0.90" fill="#7a0fa8"/>
<circle cx="626.11" cy="660.52" r="0.90" fill="#7a0fa8"/>
<circle cx="627.60" cy="658.29" r="0.90" fill="#7a0fa8"/>
<circle cx="627.02" cy="662.82" r="0.90" fill="#7a0fa8"/>
<circle cx="633.35" cy="654.20" r="0.90" fill="#7a0fa8"/>
<circle cx="631.57" cy="657.86" r="0.90" fill="#7a0fa8"/>
<circle cx="631.82" cy="653.69" r="0.90" fill="#7a0fa8"/>
<circle cx="628.94" cy="666.85" r="0.90" fill="#7a0fa8"/>
<circle cx="628.83" cy="672.44" r="0.90" fill="#7a0fa8"/>
<circle cx="628.15" cy="662.97" r="0.90" fill="#7a0fa8"/>
<circle cx="632.14" cy="658.22" r="0.90" fill="#7a0fa8"/>
<circle cx="629.84" cy="666.01" r="0.90" fill="#7a0fa8"/>
<circle cx="632.90" cy="654.91" r="0.90" fill="#7a0fa8"/>
<circle cx="626.37" cy="658.26" r="0.90" fill="#7a0fa8"/>
<circle cx="635.48" cy="668.67" r="0.90" fill="#7a0fa8"/>
<circle cx="630.01" cy="658.27" r="0.90" fill="#7a0fa8"/>
<circle cx="628.52" cy="660.33" r="0.90" fill="#7a0fa8"/>
<circle cx="635.03" cy="662.60" r="0.90" fill="#7a0fa8"/>
<circle cx="631.15" cy="660.55" r="0.90" fill="#7a0fa8"/>
<circle cx="632.32" cy="674.08" r="0.90" fill="#7a0fa8"/>
<circle cx="629.87" cy="663.89" r="0.90" fill="#7a0fa8"/>
<circle cx="634.66" cy="651.84" r="0.90" fill="#7a0fa8"/>
<circle cx="631.42" cy="662.55" r="0.90" fill="#7a0fa8"/>
<line x1="631.05" y1="661.69" x2="631.05" y2="652.43" stroke="#000" stroke-width="1"/>
<line x1="628.45" y1="652.43" x2="633.65" y2="652.43" stroke="#000" stroke-width="1"/>
<rect x="637.70" y="652.43" width="10.90" height="42.37" fill="#a310e6" stroke="#000" stroke-width="1.2"/>
<circle cx="642.78" cy="659.30" r="0.90" fill="#7a0fa8"/>
<circle cx="643.13" cy="647.80" r="0.90" fill="#7a0fa8"/>
<circle cx="646.67" cy="659.91" r="0.90" fill="#7a0fa8"/>
<circle cx="639.91" cy="649.81" r="0.90" fill="#7a0fa8"/>
<circle cx="639.11" cy="646.37" r="0.90" fill="#7a0fa8"/>
<circle cx="644.12" cy="649.32" r="0.90" fill="#7a0fa8"/>
<circle cx="638.64" cy="652.88" r="0.90" fill="#7a0fa8"/>
<circle cx="641.11" cy="648.64" r="0.90" fill="#7a0fa8"/>
<circle cx="646.71" cy="652.27" r="0.90" fill="#7a0fa8"/>
<circle cx="639.09" cy="644.72" r="0.90" fill="#7a0fa8"/>
<circle cx="641.46" cy="643.48" r="0.90" fill="#7a0fa8"/>
<circle cx="646.63" cy="653.57" r="0.90" fill="#7a0fa8"/>
<circle cx="641.83" cy="653.28" r="0.90" fill="#7a0fa8"/>
<circle cx="643.67" cy="649.55" r="0.90" fill="#7a0fa8"/>
<circle cx="647.70" cy="653.67" r="0.90" fill="#7a0fa8"/>
<circle cx="644.17" cy="649.96" r="0.90" fill="#7a0fa8"/>
<circle cx="644.80" cy="665.74" r="0.90" fill="#7a0fa8"/>
<circle cx="643.50" cy="657.18" r="0.90" fill="#7a0fa8"/>
<circle cx="647.19" cy="663.67" r="0.90" fill="#7a0fa8"/>
<circle cx="648.04" cy="648.71" r="0.90" fill="#7a0fa8"/>
<circle cx="645.32" cy="645.49" r="0.90" fill="#7a0fa8"/>
<circle cx="646.59" cy="645.36" r="0.90" fill="#7a0fa8"/>
<circle cx="639.08" cy="647.39" r="0.90" fill="#7a0fa8"/>
<circle cx="645.00" cy="651.90" r="0.90" fill="#7a0fa8"/>
<circle cx="647.27" cy="653.29" r="0.90" fill="#7a0fa8"/>
<circle cx="639.93" cy="659.51" r="0.90" fill="#7a0fa8"/>
<line x1="643.15" y1="652.43" x2="643.15" y2="642.05" stroke="#000" stroke-width="1"/>
<line x1="640.55" y1="642.05" x2="645.75" y2="642.05" stroke="#000" stroke-width="1"/>
<text x="598.20" y="648.60" font-size="8.6" fill="#222" textLength="29.00" lengthAdjust="spacingAndGlyphs"><tspan font-style="italic">p</tspan> = 0.041</text>
<line x1="607.30" y1="650.80" x2="620.90" y2="650.80" stroke="#333" stroke-width="0.9"/>
<text x="601.40" y="635.90" font-size="8.6" fill="#222" textLength="33.90" lengthAdjust="spacingAndGlyphs"><tspan font-style="italic">p</tspan> &lt; 0.0001</text>
<line x1="607.30" y1="638.10" x2="632.10" y2="638.10" stroke="#333" stroke-width="0.9"/>
<text x="608.80" y="623.20" font-size="8.6" fill="#222" textLength="33.20" lengthAdjust="spacingAndGlyphs"><tspan font-style="italic">p</tspan> &lt; 0.0001</text>
<line x1="607.30" y1="625.40" x2="644.10" y2="625.40" stroke="#333" stroke-width="0.9"/>
<text x="600.30" y="707.70" font-size="9" font-weight="bold" text-anchor="end">NNK (12 h) :</text>
<text x="600.30" y="720.10" font-size="9" font-weight="bold" text-anchor="end">BaP (3 d) :</text>
<text x="607.70" y="707.70" font-size="9" font-weight="bold" text-anchor="middle">-</text>
<text x="607.70" y="720.10" font-size="9" font-weight="bold" text-anchor="middle">-</text>
<text x="620.00" y="707.70" font-size="9" font-weight="bold" text-anchor="middle">+</text>
<text x="620.00" y="720.10" font-size="9" font-weight="bold" text-anchor="middle">-</text>
<text x="631.40" y="707.70" font-size="9" font-weight="bold" text-anchor="middle">-</text>
<text x="631.40" y="720.10" font-size="9" font-weight="bold" text-anchor="middle">+</text>
<text x="643.30" y="707.70" font-size="9" font-weight="bold" text-anchor="middle">+</text>
<text x="643.30" y="720.10" font-size="9" font-weight="bold" text-anchor="middle">+</text>
<text x="561.30" y="661.40" font-size="9.2" font-weight="bold" text-anchor="middle" transform="rotate(-90 561.30 661.40)">2-NBDG</text>
<text x="572.80" y="661.40" font-size="9.2" font-weight="bold" text-anchor="middle" transform="rotate(-90 572.80 661.40)">uptake (%)</text>
<text x="9.00" y="755.50" font-size="16" font-weight="bold">n</text>
<text x="20.00" y="788.10" font-size="9.2" font-weight="bold" textLength="43.70" lengthAdjust="spacingAndGlyphs"><tspan fill="#cc00cc">Veh</tspan> or <tspan fill="#cc00cc">NB</tspan></text>
<text x="70.20" y="786.00" font-size="10.6" font-weight="bold" textLength="54.60" lengthAdjust="spacingAndGlyphs"><tspan fill="#333">±</tspan><tspan fill="#7a1cf0">P, M, </tspan>or<tspan fill="#7a1cf0"> S</tspan></text>
<path d="M68.5 788.6 C72.5 789.5 74 792.5 73.6 795.5" fill="none" stroke="#cc00cc" stroke-width="1.3"/>
<path d="M73.60 799.00 L71.54 794.93 L75.94 795.08 Z" fill="#cc00cc"/>
<path d="M85.6 788.4 C82.5 789.5 81.3 792.5 81.4 795.5" fill="none" stroke="#7a1cf0" stroke-width="1.3"/>
<path d="M81.50 799.00 L79.16 795.08 L83.56 794.93 Z" fill="#7a1cf0"/>
<g transform="translate(64.8 796.6) scale(1.0)"><path d="M6 6 L24 0 L28 3 L28 9 L10 15 L6 13 Z" fill="#ececec" stroke="#c8c8c8" stroke-width="0.6"/><path d="M6 9.5 L28 5.5 L28 9 L10 15 L6 13 Z" fill="#e36f78"/><path d="M6 9 L27 5 L28 9 L10 15 L6 13 Z" fill="#ea7d86" opacity="0.8"/><path d="M10 15 L28 9 L28 3" fill="none" stroke="#d0d0d0" stroke-width="0.5"/><rect x="0.5" y="8" width="4.8" height="5.6" rx="1.4" fill="#2b7fd6" transform="rotate(-12 3 11)"/></g>
<text x="93.90" y="806.80" font-size="9.2" font-weight="bold" fill="#6aa832">THP-1</text>
<text x="194.80" y="761.90" font-size="9" font-weight="bold" text-anchor="middle">-</text>
<text x="214.00" y="761.90" font-size="9" font-weight="bold" text-anchor="middle">-</text>
<text x="232.20" y="761.90" font-size="9" font-weight="bold" text-anchor="middle">P</text>
<text x="250.60" y="761.90" font-size="9" font-weight="bold" text-anchor="middle">M</text>
<text x="269.60" y="761.90" font-size="9" font-weight="bold" text-anchor="middle">S</text>
<text x="160.70" y="772.10" font-size="8.6" fill="#222">kDa</text>
<text x="194.80" y="772.10" font-size="9" font-weight="bold" text-anchor="middle">-</text>
<text x="214.00" y="772.10" font-size="9" font-weight="bold" text-anchor="middle">+</text>
<text x="232.20" y="772.10" font-size="9" font-weight="bold" text-anchor="middle">+</text>
<text x="250.60" y="772.10" font-size="9" font-weight="bold" text-anchor="middle">+</text>
<text x="269.60" y="772.10" font-size="9" font-weight="bold" text-anchor="middle">+</text>
<text x="282.40" y="772.10" font-size="9" font-weight="bold">NB</text>
<line x1="158.60" y1="776.70" x2="158.60" y2="833.60" stroke="#8cd8a8" stroke-width="1.6"/>
<text x="154.40" y="807.40" font-size="9.4" font-weight="bold" text-anchor="middle" transform="rotate(-90 154.40 807.40)">WCL</text>
<text x="176.00" y="783.30" font-size="8.6" text-anchor="end" fill="#222">60</text>
<line x1="178.00" y1="780.20" x2="188.40" y2="780.20" stroke="#222" stroke-width="0.9"/>
<text x="176.00" y="803.80" font-size="8.6" text-anchor="end" fill="#222">60</text>
<line x1="178.00" y1="800.70" x2="188.40" y2="800.70" stroke="#222" stroke-width="0.9"/>
<text x="176.00" y="825.10" font-size="8.6" text-anchor="end" fill="#222">45</text>
<line x1="178.00" y1="822.00" x2="188.40" y2="822.00" stroke="#222" stroke-width="0.9"/>
<rect x="186.00" y="776.70" width="93.50" height="17.50" fill="#e4e4e4" rx="0.8"/>
<g clip-path="url(#cbl19)"><g filter="url(#blurband)"><rect x="186.30" y="776.70" width="17.00" height="17.50" fill="#000" opacity="0.05"/><ellipse cx="194.80" cy="785.00" rx="7.90" ry="3.80" fill="#0a0a0a" opacity="0.08"/><ellipse cx="194.80" cy="785.00" rx="6.90" ry="1.46" fill="#0a0a0a" opacity="0.35"/><rect x="205.50" y="776.70" width="17.00" height="17.50" fill="#000" opacity="0.05"/><ellipse cx="214.00" cy="785.00" rx="8.73" ry="4.88" fill="#0a0a0a" opacity="0.20"/><ellipse cx="214.00" cy="785.00" rx="7.73" ry="1.88" fill="#0a0a0a" opacity="0.90"/><rect x="223.70" y="776.70" width="17.00" height="17.50" fill="#000" opacity="0.05"/><ellipse cx="232.20" cy="785.00" rx="8.27" ry="4.29" fill="#0a0a0a" opacity="0.13"/><ellipse cx="232.20" cy="785.00" rx="7.27" ry="1.65" fill="#0a0a0a" opacity="0.60"/><rect x="242.10" y="776.70" width="17.00" height="17.50" fill="#000" opacity="0.05"/><ellipse cx="250.60" cy="785.00" rx="7.79" ry="3.67" fill="#0a0a0a" opacity="0.06"/><ellipse cx="250.60" cy="785.00" rx="6.79" ry="1.41" fill="#0a0a0a" opacity="0.28"/><rect x="261.10" y="776.70" width="17.00" height="17.50" fill="#000" opacity="0.05"/><ellipse cx="269.60" cy="785.00" rx="7.85" ry="3.74" fill="#0a0a0a" opacity="0.07"/><ellipse cx="269.60" cy="785.00" rx="6.85" ry="1.44" fill="#0a0a0a" opacity="0.32"/></g></g>
<rect x="186.00" y="776.70" width="93.50" height="17.50" fill="none" stroke="#333" stroke-width="1.0" rx="0.8"/>
<rect x="186.00" y="797.20" width="93.50" height="17.50" fill="#e4e4e4" rx="0.8"/>
<g clip-path="url(#cbl20)"><g filter="url(#blurband)"><rect x="186.30" y="797.20" width="17.00" height="17.50" fill="#000" opacity="0.05"/><ellipse cx="194.80" cy="805.30" rx="7.60" ry="2.96" fill="#0a0a0a" opacity="0.03"/><ellipse cx="194.80" cy="805.30" rx="6.60" ry="1.14" fill="#0a0a0a" opacity="0.15"/><rect x="205.50" y="797.20" width="17.00" height="17.50" fill="#000" opacity="0.05"/><ellipse cx="214.00" cy="805.30" rx="8.00" ry="3.41" fill="#0a0a0a" opacity="0.09"/><ellipse cx="214.00" cy="805.30" rx="7.00" ry="1.31" fill="#0a0a0a" opacity="0.42"/><rect x="223.70" y="797.20" width="17.00" height="17.50" fill="#000" opacity="0.05"/><ellipse cx="232.20" cy="805.30" rx="7.60" ry="2.96" fill="#0a0a0a" opacity="0.03"/><ellipse cx="232.20" cy="805.30" rx="6.60" ry="1.14" fill="#0a0a0a" opacity="0.15"/><rect x="242.10" y="797.20" width="17.00" height="17.50" fill="#000" opacity="0.05"/><ellipse cx="250.60" cy="805.30" rx="7.53" ry="2.87" fill="#0a0a0a" opacity="0.02"/><ellipse cx="250.60" cy="805.30" rx="6.53" ry="1.11" fill="#0a0a0a" opacity="0.10"/><rect x="261.10" y="797.20" width="17.00" height="17.50" fill="#000" opacity="0.05"/><ellipse cx="269.60" cy="805.30" rx="7.57" ry="2.92" fill="#0a0a0a" opacity="0.03"/><ellipse cx="269.60" cy="805.30" rx="6.57" ry="1.12" fill="#0a0a0a" opacity="0.13"/></g></g>
<rect x="186.00" y="797.20" width="93.50" height="17.50" fill="none" stroke="#333" stroke-width="1.0" rx="0.8"/>
<rect x="186.00" y="816.70" width="93.50" height="16.90" fill="#dedede" rx="0.8"/>
<g clip-path="url(#cbl21)"><g filter="url(#blurband)"><rect x="186.30" y="816.70" width="17.00" height="16.90" fill="#000" opacity="0.05"/><ellipse cx="194.80" cy="824.90" rx="8.54" ry="4.64" fill="#0a0a0a" opacity="0.17"/><ellipse cx="194.80" cy="824.90" rx="7.54" ry="1.78" fill="#0a0a0a" opacity="0.78"/><rect x="205.50" y="816.70" width="17.00" height="16.90" fill="#000" opacity="0.05"/><ellipse cx="214.00" cy="824.90" rx="8.70" ry="4.84" fill="#0a0a0a" opacity="0.19"/><ellipse cx="214.00" cy="824.90" rx="7.70" ry="1.86" fill="#0a0a0a" opacity="0.88"/><rect x="223.70" y="816.70" width="17.00" height="16.90" fill="#000" opacity="0.05"/><ellipse cx="232.20" cy="824.90" rx="8.54" ry="4.64" fill="#0a0a0a" opacity="0.17"/><ellipse cx="232.20" cy="824.90" rx="7.54" ry="1.78" fill="#0a0a0a" opacity="0.78"/><rect x="242.10" y="816.70" width="17.00" height="16.90" fill="#000" opacity="0.05"/><ellipse cx="250.60" cy="824.90" rx="8.54" ry="4.64" fill="#0a0a0a" opacity="0.17"/><ellipse cx="250.60" cy="824.90" rx="7.54" ry="1.78" fill="#0a0a0a" opacity="0.78"/><rect x="261.10" y="816.70" width="17.00" height="16.90" fill="#000" opacity="0.05"/><ellipse cx="269.60" cy="824.90" rx="8.46" ry="4.52" fill="#0a0a0a" opacity="0.16"/><ellipse cx="269.60" cy="824.90" rx="7.46" ry="1.74" fill="#0a0a0a" opacity="0.72"/></g></g>
<rect x="186.00" y="816.70" width="93.50" height="16.90" fill="none" stroke="#333" stroke-width="1.0" rx="0.8"/>
<text x="282.40" y="788.80" font-size="8.8" font-weight="bold">GLUT1</text>
<text x="282.40" y="809.80" font-size="8.8" font-weight="bold">GLUT3</text>
<text x="282.40" y="828.20" font-size="8.8" font-weight="bold">Actin</text>
<text x="382.60" y="761.90" font-size="9" font-weight="bold" text-anchor="middle">-</text>
<text x="401.50" y="761.90" font-size="9" font-weight="bold" text-anchor="middle">-</text>
<text x="420.00" y="761.90" font-size="9" font-weight="bold" text-anchor="middle">P</text>
<text x="438.60" y="761.90" font-size="9" font-weight="bold" text-anchor="middle">M</text>
<text x="457.00" y="761.90" font-size="9" font-weight="bold" text-anchor="middle">S</text>
<text x="382.60" y="772.10" font-size="9" font-weight="bold" text-anchor="middle">-</text>
<text x="401.50" y="772.10" font-size="9" font-weight="bold" text-anchor="middle">+</text>
<text x="420.00" y="772.10" font-size="9" font-weight="bold" text-anchor="middle">+</text>
<text x="438.60" y="772.10" font-size="9" font-weight="bold" text-anchor="middle">+</text>
<text x="457.00" y="772.10" font-size="9" font-weight="bold" text-anchor="middle">+</text>
<text x="470.00" y="772.10" font-size="9" font-weight="bold">NB</text>
<line x1="346.00" y1="776.10" x2="346.00" y2="834.00" stroke="#a8c8ee" stroke-width="1.8"/>
<text x="342.00" y="805.30" font-size="9.2" font-weight="bold" text-anchor="middle" transform="rotate(-90 342.00 805.30)">MEM</text>
<text x="362.00" y="783.10" font-size="8.6" text-anchor="end" fill="#222">60</text>
<line x1="365.00" y1="780.00" x2="376.00" y2="780.00" stroke="#222" stroke-width="0.9"/>
<text x="362.00" y="802.60" font-size="8.6" text-anchor="end" fill="#222">60</text>
<line x1="365.00" y1="799.50" x2="376.00" y2="799.50" stroke="#222" stroke-width="0.9"/>
<text x="362.00" y="826.50" font-size="8.6" text-anchor="end" fill="#222">100</text>
<line x1="365.00" y1="823.40" x2="376.00" y2="823.40" stroke="#222" stroke-width="0.9"/>
<rect x="373.20" y="776.10" width="94.00" height="18.10" fill="#e4e4e4" rx="0.8"/>
<g clip-path="url(#cbl22)"><g filter="url(#blurband)"><rect x="373.10" y="776.10" width="19.00" height="18.10" fill="#000" opacity="0.05"/><ellipse cx="382.60" cy="785.20" rx="8.94" ry="7.35" fill="#0a0a0a" opacity="0.13"/><ellipse cx="382.60" cy="785.20" rx="7.94" ry="2.83" fill="#0a0a0a" opacity="0.42"/><rect x="392.00" y="776.10" width="19.00" height="18.10" fill="#000" opacity="0.05"/><ellipse cx="401.50" cy="785.20" rx="9.93" ry="9.46" fill="#0a0a0a" opacity="0.30"/><ellipse cx="401.50" cy="785.20" rx="8.93" ry="3.64" fill="#0a0a0a" opacity="1.00"/><rect x="410.50" y="776.10" width="19.00" height="18.10" fill="#000" opacity="0.05"/><ellipse cx="420.00" cy="785.20" rx="8.73" ry="6.92" fill="#0a0a0a" opacity="0.09"/><ellipse cx="420.00" cy="785.20" rx="7.73" ry="2.66" fill="#0a0a0a" opacity="0.30"/><rect x="429.10" y="776.10" width="19.00" height="18.10" fill="#000" opacity="0.05"/><ellipse cx="438.60" cy="785.20" rx="8.94" ry="7.35" fill="#0a0a0a" opacity="0.13"/><ellipse cx="438.60" cy="785.20" rx="7.94" ry="2.83" fill="#0a0a0a" opacity="0.42"/><rect x="447.50" y="776.10" width="19.00" height="18.10" fill="#000" opacity="0.05"/><ellipse cx="457.00" cy="785.20" rx="9.07" ry="7.64" fill="#0a0a0a" opacity="0.15"/><ellipse cx="457.00" cy="785.20" rx="8.07" ry="2.94" fill="#0a0a0a" opacity="0.50"/></g></g>
<rect x="373.20" y="776.10" width="94.00" height="18.10" fill="none" stroke="#333" stroke-width="1.0" rx="0.8"/>
<rect x="373.20" y="796.60" width="94.00" height="18.10" fill="#e4e4e4" rx="0.8"/>
<g clip-path="url(#cbl23)"><g filter="url(#blurband)"><rect x="374.10" y="796.60" width="17.00" height="18.10" fill="#000" opacity="0.05"/><ellipse cx="382.60" cy="805.30" rx="8.30" ry="3.75" fill="#0a0a0a" opacity="0.14"/><ellipse cx="382.60" cy="805.30" rx="7.30" ry="1.44" fill="#0a0a0a" opacity="0.62"/><rect x="393.00" y="796.60" width="17.00" height="18.10" fill="#000" opacity="0.05"/><ellipse cx="401.50" cy="805.30" rx="8.65" ry="4.14" fill="#0a0a0a" opacity="0.19"/><ellipse cx="401.50" cy="805.30" rx="7.65" ry="1.59" fill="#0a0a0a" opacity="0.85"/><rect x="411.50" y="796.60" width="17.00" height="18.10" fill="#000" opacity="0.05"/><ellipse cx="420.00" cy="805.30" rx="8.37" ry="3.82" fill="#0a0a0a" opacity="0.15"/><ellipse cx="420.00" cy="805.30" rx="7.37" ry="1.47" fill="#0a0a0a" opacity="0.66"/><rect x="430.10" y="796.60" width="17.00" height="18.10" fill="#000" opacity="0.05"/><ellipse cx="438.60" cy="805.30" rx="8.37" ry="3.82" fill="#0a0a0a" opacity="0.15"/><ellipse cx="438.60" cy="805.30" rx="7.37" ry="1.47" fill="#0a0a0a" opacity="0.66"/><rect x="448.50" y="796.60" width="17.00" height="18.10" fill="#000" opacity="0.05"/><ellipse cx="457.00" cy="805.30" rx="8.21" ry="3.65" fill="#0a0a0a" opacity="0.12"/><ellipse cx="457.00" cy="805.30" rx="7.21" ry="1.40" fill="#0a0a0a" opacity="0.56"/></g></g>
<rect x="373.20" y="796.60" width="94.00" height="18.10" fill="none" stroke="#333" stroke-width="1.0" rx="0.8"/>
<rect x="373.20" y="816.40" width="94.00" height="17.60" fill="#e4e4e4" rx="0.8"/>
<g clip-path="url(#cbl24)"><g filter="url(#blurband)"><rect x="373.60" y="816.40" width="18.00" height="17.60" fill="#000" opacity="0.05"/><ellipse cx="382.60" cy="825.60" rx="9.16" ry="3.82" fill="#0a0a0a" opacity="0.19"/><ellipse cx="382.60" cy="825.60" rx="8.16" ry="1.47" fill="#0a0a0a" opacity="0.85"/><rect x="392.50" y="816.40" width="18.00" height="17.60" fill="#000" opacity="0.05"/><ellipse cx="401.50" cy="825.60" rx="9.24" ry="3.90" fill="#0a0a0a" opacity="0.20"/><ellipse cx="401.50" cy="825.60" rx="8.24" ry="1.50" fill="#0a0a0a" opacity="0.90"/><rect x="411.00" y="816.40" width="18.00" height="17.60" fill="#000" opacity="0.05"/><ellipse cx="420.00" cy="825.60" rx="9.08" ry="3.74" fill="#0a0a0a" opacity="0.18"/><ellipse cx="420.00" cy="825.60" rx="8.08" ry="1.44" fill="#0a0a0a" opacity="0.80"/><rect x="429.60" y="816.40" width="18.00" height="17.60" fill="#000" opacity="0.05"/><ellipse cx="438.60" cy="825.60" rx="9.08" ry="3.74" fill="#0a0a0a" opacity="0.18"/><ellipse cx="438.60" cy="825.60" rx="8.08" ry="1.44" fill="#0a0a0a" opacity="0.80"/><rect x="448.00" y="816.40" width="18.00" height="17.60" fill="#000" opacity="0.05"/><ellipse cx="457.00" cy="825.60" rx="9.05" ry="3.71" fill="#0a0a0a" opacity="0.17"/><ellipse cx="457.00" cy="825.60" rx="8.05" ry="1.43" fill="#0a0a0a" opacity="0.78"/></g></g>
<rect x="373.20" y="816.40" width="94.00" height="17.60" fill="none" stroke="#333" stroke-width="1.0" rx="0.8"/>
<text x="470.00" y="788.80" font-size="8.8" font-weight="bold">GLUT1</text>
<text x="470.00" y="809.30" font-size="8.8" font-weight="bold">GLUT3</text>
<text x="470.00" y="826.10" font-size="8.8" font-weight="bold">Na<tspan font-size="5.6" dy="-3.2">+</tspan><tspan dy="3.2">K</tspan><tspan font-size="5.6" dy="-3.2">+</tspan></text>
<text x="470.00" y="836.30" font-size="8.8" font-weight="bold">ATPase</text>
<text x="546.50" y="767.60" font-size="16" font-weight="bold">o</text>
<line x1="590.10" y1="776.60" x2="590.10" y2="817.50" stroke="#000" stroke-width="1.0"/>
<line x1="590.10" y1="822.20" x2="590.10" y2="836.80" stroke="#000" stroke-width="1.0"/>
<line x1="588.10" y1="836.80" x2="665.00" y2="836.80" stroke="#000" stroke-width="1.3"/>
<line x1="587.90" y1="814.90" x2="590.10" y2="814.90" stroke="#000" stroke-width="1"/>
<text x="586.60" y="818.00" font-size="8.6" text-anchor="end" fill="#222">60</text>
<line x1="587.90" y1="802.13" x2="590.10" y2="802.13" stroke="#000" stroke-width="1"/>
<text x="586.60" y="805.23" font-size="8.6" text-anchor="end" fill="#222">100</text>
<line x1="587.90" y1="789.37" x2="590.10" y2="789.37" stroke="#000" stroke-width="1"/>
<text x="586.60" y="792.46" font-size="8.6" text-anchor="end" fill="#222">140</text>
<line x1="587.90" y1="776.60" x2="590.10" y2="776.60" stroke="#000" stroke-width="1"/>
<text x="586.60" y="779.70" font-size="8.6" text-anchor="end" fill="#222">180</text>
<line x1="587.90" y1="836.80" x2="590.10" y2="836.80" stroke="#000" stroke-width="1"/>
<text x="586.60" y="839.90" font-size="8.6" text-anchor="end" fill="#222">0</text>
<line x1="587.90" y1="827.70" x2="590.10" y2="827.70" stroke="#000" stroke-width="1"/>
<text x="586.60" y="830.80" font-size="8.6" text-anchor="end" fill="#222">20</text>
<rect x="597.40" y="800.70" width="11.00" height="36.10" fill="#fbeefc" stroke="#000" stroke-width="1.4"/>
<circle cx="602.88" cy="797.43" r="0.95" fill="#7a0fa8"/>
<circle cx="604.14" cy="797.09" r="0.95" fill="#7a0fa8"/>
<circle cx="602.66" cy="807.28" r="0.95" fill="#7a0fa8"/>
<circle cx="599.17" cy="798.14" r="0.95" fill="#7a0fa8"/>
<circle cx="604.49" cy="794.89" r="0.95" fill="#7a0fa8"/>
<circle cx="599.78" cy="805.25" r="0.95" fill="#7a0fa8"/>
<circle cx="607.22" cy="798.17" r="0.95" fill="#7a0fa8"/>
<circle cx="600.10" cy="807.31" r="0.95" fill="#7a0fa8"/>
<circle cx="601.36" cy="802.15" r="0.95" fill="#7a0fa8"/>
<circle cx="603.87" cy="802.59" r="0.95" fill="#7a0fa8"/>
<circle cx="606.64" cy="807.17" r="0.95" fill="#7a0fa8"/>
<circle cx="604.64" cy="805.25" r="0.95" fill="#7a0fa8"/>
<circle cx="605.54" cy="802.70" r="0.95" fill="#7a0fa8"/>
<circle cx="602.27" cy="796.88" r="0.95" fill="#7a0fa8"/>
<circle cx="600.80" cy="806.72" r="0.95" fill="#7a0fa8"/>
<circle cx="604.70" cy="795.18" r="0.95" fill="#7a0fa8"/>
<circle cx="606.60" cy="797.50" r="0.95" fill="#7a0fa8"/>
<circle cx="604.63" cy="800.14" r="0.95" fill="#7a0fa8"/>
<line x1="602.90" y1="800.70" x2="602.90" y2="795.70" stroke="#000" stroke-width="1"/>
<line x1="600.30" y1="795.70" x2="605.50" y2="795.70" stroke="#000" stroke-width="1"/>
<rect x="609.50" y="788.10" width="10.90" height="48.70" fill="#efc8f5" stroke="#000" stroke-width="1.4"/>
<circle cx="612.64" cy="788.14" r="0.95" fill="#7a0fa8"/>
<circle cx="611.91" cy="794.52" r="0.95" fill="#7a0fa8"/>
<circle cx="612.53" cy="789.15" r="0.95" fill="#7a0fa8"/>
<circle cx="618.79" cy="786.05" r="0.95" fill="#7a0fa8"/>
<circle cx="619.16" cy="792.73" r="0.95" fill="#7a0fa8"/>
<circle cx="615.38" cy="790.68" r="0.95" fill="#7a0fa8"/>
<circle cx="615.72" cy="785.30" r="0.95" fill="#7a0fa8"/>
<circle cx="619.42" cy="786.18" r="0.95" fill="#7a0fa8"/>
<circle cx="619.30" cy="795.15" r="0.95" fill="#7a0fa8"/>
<circle cx="610.71" cy="783.26" r="0.95" fill="#7a0fa8"/>
<circle cx="614.75" cy="794.39" r="0.95" fill="#7a0fa8"/>
<circle cx="612.05" cy="790.42" r="0.95" fill="#7a0fa8"/>
<circle cx="613.75" cy="793.81" r="0.95" fill="#7a0fa8"/>
<circle cx="618.79" cy="793.34" r="0.95" fill="#7a0fa8"/>
<circle cx="612.19" cy="793.31" r="0.95" fill="#7a0fa8"/>
<circle cx="614.39" cy="794.84" r="0.95" fill="#7a0fa8"/>
<circle cx="614.68" cy="796.23" r="0.95" fill="#7a0fa8"/>
<circle cx="619.33" cy="794.58" r="0.95" fill="#7a0fa8"/>
<line x1="614.95" y1="788.10" x2="614.95" y2="780.10" stroke="#000" stroke-width="1"/>
<line x1="612.35" y1="780.10" x2="617.55" y2="780.10" stroke="#000" stroke-width="1"/>
<rect x="621.50" y="797.90" width="11.40" height="38.90" fill="#dc8cf2" stroke="#000" stroke-width="1.4"/>
<circle cx="631.51" cy="788.99" r="0.95" fill="#7a0fa8"/>
<circle cx="629.23" cy="797.58" r="0.95" fill="#7a0fa8"/>
<circle cx="631.18" cy="796.04" r="0.95" fill="#7a0fa8"/>
<circle cx="630.97" cy="791.08" r="0.95" fill="#7a0fa8"/>
<circle cx="631.65" cy="796.16" r="0.95" fill="#7a0fa8"/>
<circle cx="624.35" cy="794.82" r="0.95" fill="#7a0fa8"/>
<circle cx="628.38" cy="788.58" r="0.95" fill="#7a0fa8"/>
<circle cx="626.18" cy="788.12" r="0.95" fill="#7a0fa8"/>
<circle cx="623.32" cy="791.31" r="0.95" fill="#7a0fa8"/>
<circle cx="624.78" cy="793.39" r="0.95" fill="#7a0fa8"/>
<circle cx="629.70" cy="796.22" r="0.95" fill="#7a0fa8"/>
<circle cx="630.42" cy="805.87" r="0.95" fill="#7a0fa8"/>
<circle cx="630.76" cy="806.85" r="0.95" fill="#7a0fa8"/>
<circle cx="627.88" cy="801.32" r="0.95" fill="#7a0fa8"/>
<circle cx="630.63" cy="798.77" r="0.95" fill="#7a0fa8"/>
<circle cx="623.98" cy="798.31" r="0.95" fill="#7a0fa8"/>
<circle cx="627.47" cy="791.49" r="0.95" fill="#7a0fa8"/>
<circle cx="623.53" cy="791.59" r="0.95" fill="#7a0fa8"/>
<line x1="627.20" y1="797.90" x2="627.20" y2="789.90" stroke="#000" stroke-width="1"/>
<line x1="624.60" y1="789.90" x2="629.80" y2="789.90" stroke="#000" stroke-width="1"/>
<rect x="634.00" y="799.40" width="11.30" height="37.40" fill="#b452d8" stroke="#000" stroke-width="1.4"/>
<circle cx="640.70" cy="806.42" r="0.95" fill="#7a0fa8"/>
<circle cx="639.26" cy="803.21" r="0.95" fill="#7a0fa8"/>
<circle cx="643.58" cy="799.77" r="0.95" fill="#7a0fa8"/>
<circle cx="641.75" cy="803.50" r="0.95" fill="#7a0fa8"/>
<circle cx="642.87" cy="791.06" r="0.95" fill="#7a0fa8"/>
<circle cx="636.67" cy="808.35" r="0.95" fill="#7a0fa8"/>
<circle cx="641.87" cy="795.10" r="0.95" fill="#7a0fa8"/>
<circle cx="641.83" cy="793.45" r="0.95" fill="#7a0fa8"/>
<circle cx="638.39" cy="798.34" r="0.95" fill="#7a0fa8"/>
<circle cx="637.21" cy="792.89" r="0.95" fill="#7a0fa8"/>
<circle cx="639.72" cy="802.05" r="0.95" fill="#7a0fa8"/>
<circle cx="638.01" cy="802.28" r="0.95" fill="#7a0fa8"/>
<circle cx="643.99" cy="791.39" r="0.95" fill="#7a0fa8"/>
<circle cx="637.65" cy="792.03" r="0.95" fill="#7a0fa8"/>
<circle cx="641.25" cy="797.83" r="0.95" fill="#7a0fa8"/>
<circle cx="639.10" cy="794.85" r="0.95" fill="#7a0fa8"/>
<circle cx="642.14" cy="804.06" r="0.95" fill="#7a0fa8"/>
<circle cx="639.18" cy="805.25" r="0.95" fill="#7a0fa8"/>
<line x1="639.65" y1="799.40" x2="639.65" y2="792.40" stroke="#000" stroke-width="1"/>
<line x1="637.05" y1="792.40" x2="642.25" y2="792.40" stroke="#000" stroke-width="1"/>
<rect x="646.40" y="800.10" width="11.30" height="36.70" fill="#a310e6" stroke="#000" stroke-width="1.4"/>
<circle cx="655.77" cy="792.85" r="0.95" fill="#7a0fa8"/>
<circle cx="652.55" cy="799.76" r="0.95" fill="#7a0fa8"/>
<circle cx="656.18" cy="797.71" r="0.95" fill="#7a0fa8"/>
<circle cx="651.57" cy="801.65" r="0.95" fill="#7a0fa8"/>
<circle cx="650.99" cy="808.34" r="0.95" fill="#7a0fa8"/>
<circle cx="655.46" cy="804.57" r="0.95" fill="#7a0fa8"/>
<circle cx="648.05" cy="809.90" r="0.95" fill="#7a0fa8"/>
<circle cx="652.49" cy="802.05" r="0.95" fill="#7a0fa8"/>
<circle cx="652.43" cy="800.42" r="0.95" fill="#7a0fa8"/>
<circle cx="655.93" cy="795.56" r="0.95" fill="#7a0fa8"/>
<circle cx="648.83" cy="810.09" r="0.95" fill="#7a0fa8"/>
<circle cx="649.90" cy="795.66" r="0.95" fill="#7a0fa8"/>
<circle cx="651.49" cy="808.05" r="0.95" fill="#7a0fa8"/>
<circle cx="650.93" cy="790.35" r="0.95" fill="#7a0fa8"/>
<circle cx="649.94" cy="794.69" r="0.95" fill="#7a0fa8"/>
<circle cx="647.74" cy="807.95" r="0.95" fill="#7a0fa8"/>
<circle cx="654.15" cy="792.83" r="0.95" fill="#7a0fa8"/>
<circle cx="649.73" cy="809.71" r="0.95" fill="#7a0fa8"/>
<line x1="652.05" y1="800.10" x2="652.05" y2="792.10" stroke="#000" stroke-width="1"/>
<line x1="649.45" y1="792.10" x2="654.65" y2="792.10" stroke="#000" stroke-width="1"/>
<rect x="586.00" y="817.60" width="78.00" height="4.40" fill="#fff"/>
<line x1="586.50" y1="817.60" x2="594.00" y2="817.60" stroke="#000" stroke-width="0.9"/>
<line x1="586.50" y1="822.20" x2="594.00" y2="822.20" stroke="#000" stroke-width="0.9"/>
<text x="581.00" y="772.70" font-size="8.6" fill="#222" textLength="33.70" lengthAdjust="spacingAndGlyphs"><tspan font-style="italic">p</tspan> &lt; 0.0001</text>
<line x1="602.30" y1="774.70" x2="614.70" y2="774.70" stroke="#333" stroke-width="0.9"/>
<text x="616.90" y="772.70" font-size="8.6" fill="#222" textLength="33.40" lengthAdjust="spacingAndGlyphs"><tspan font-style="italic">p</tspan> &lt; 0.0001</text>
<line x1="617.50" y1="774.70" x2="628.40" y2="774.70" stroke="#333" stroke-width="0.9"/>
<text x="618.80" y="761.80" font-size="8.6" fill="#222" textLength="32.40" lengthAdjust="spacingAndGlyphs"><tspan font-style="italic">p</tspan> &lt; 0.0001</text>
<line x1="618.00" y1="763.80" x2="639.90" y2="763.80" stroke="#333" stroke-width="0.9"/>
<text x="619.30" y="750.80" font-size="8.6" fill="#222" textLength="32.90" lengthAdjust="spacingAndGlyphs"><tspan font-style="italic">p</tspan> &lt; 0.0001</text>
<line x1="617.50" y1="753.20" x2="652.20" y2="753.20" stroke="#333" stroke-width="0.9"/>
<text x="595.30" y="849.80" font-size="9" font-weight="bold" text-anchor="end">Inhibitor :</text>
<text x="595.30" y="860.80" font-size="9" font-weight="bold" text-anchor="end">NB :</text>
<text x="603.80" y="849.80" font-size="9" font-weight="bold" text-anchor="middle">-</text>
<text x="603.80" y="860.80" font-size="9" font-weight="bold" text-anchor="middle">-</text>
<text x="615.70" y="849.80" font-size="9" font-weight="bold" text-anchor="middle">-</text>
<text x="615.70" y="860.80" font-size="9" font-weight="bold" text-anchor="middle">+</text>
<text x="627.50" y="849.80" font-size="9" font-weight="bold" text-anchor="middle">P</text>
<text x="627.50" y="860.80" font-size="9" font-weight="bold" text-anchor="middle">+</text>
<text x="639.40" y="849.80" font-size="9" font-weight="bold" text-anchor="middle">M</text>
<text x="639.40" y="860.80" font-size="9" font-weight="bold" text-anchor="middle">+</text>
<text x="652.20" y="849.80" font-size="9" font-weight="bold" text-anchor="middle">S</text>
<text x="652.20" y="860.80" font-size="9" font-weight="bold" text-anchor="middle">+</text>
<text x="560.40" y="806.70" font-size="9.2" font-weight="bold" text-anchor="middle" transform="rotate(-90 560.40 806.70)">2-NBDG</text>
<text x="571.50" y="806.70" font-size="9.2" font-weight="bold" text-anchor="middle" transform="rotate(-90 571.50 806.70)">uptake (%)</text></svg></body></html>
